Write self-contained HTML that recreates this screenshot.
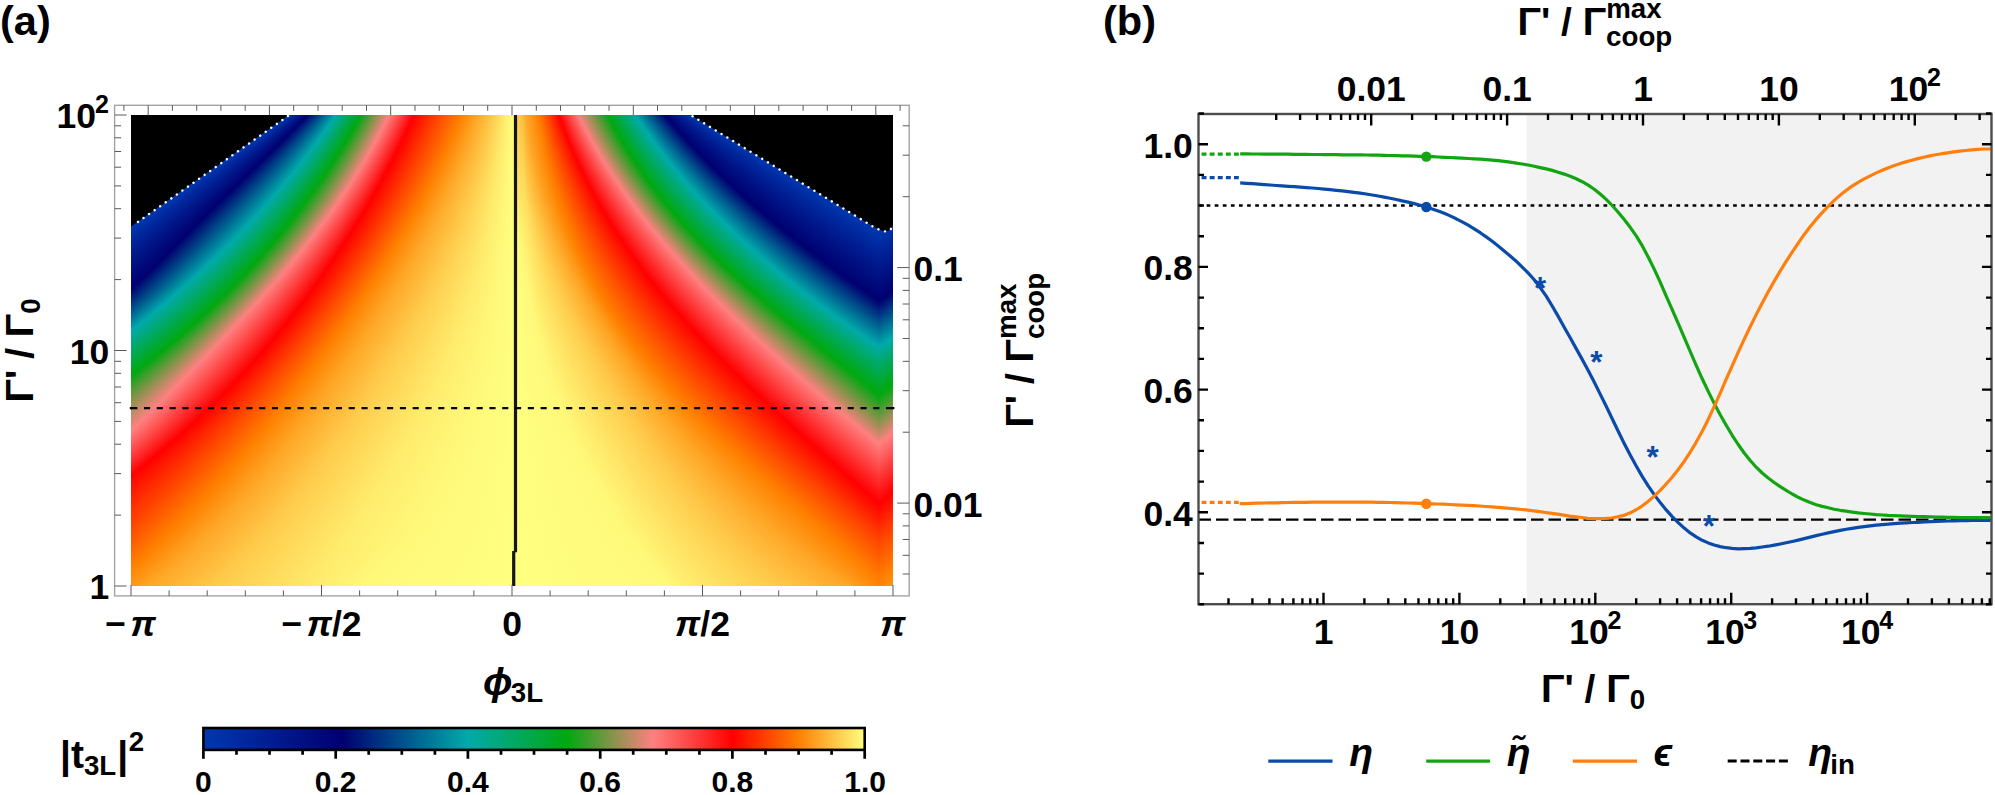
<!DOCTYPE html>
<html><head><meta charset="utf-8"><title>Figure</title>
<style>html,body{margin:0;padding:0;background:#fff}svg{display:block}text{font-family:"Liberation Sans",sans-serif;font-weight:bold;fill:#000}.i{font-style:italic}</style></head><body>
<svg width="1995" height="795" viewBox="0 0 1995 795">
<rect width="1995" height="795" fill="#fff"/>
<!-- panel a -->
<text x="0" y="35.3" font-size="41.5">(a)</text>
<defs><linearGradient id="g0"><stop offset="0" stop-color="#0038b0"/><stop offset="0.2055" stop-color="#0038b0"/><stop offset="0.2308" stop-color="#000070"/><stop offset="0.2679" stop-color="#0aa"/><stop offset="0.3011" stop-color="#00a810"/><stop offset="0.3378" stop-color="#ff8080"/><stop offset="0.3708" stop-color="#f00"/><stop offset="0.4004" stop-color="#ff4000"/><stop offset="0.4329" stop-color="#ff8000"/><stop offset="0.4541" stop-color="#ffa626"/><stop offset="0.4755" stop-color="#ffcc4d"/><stop offset="0.49" stop-color="#ffec6d"/><stop offset="0.4982" stop-color="#fff97a"/><stop offset="0.5039" stop-color="#ffff80"/><stop offset="0.504" stop-color="#ffd252"/><stop offset="0.5126" stop-color="#ffc243"/><stop offset="0.5192" stop-color="#ffa626"/><stop offset="0.5347" stop-color="#ff8000"/><stop offset="0.5488" stop-color="#ff4000"/><stop offset="0.5619" stop-color="#f00"/><stop offset="0.5874" stop-color="#ff8080"/><stop offset="0.6269" stop-color="#00a810"/><stop offset="0.6624" stop-color="#0aa"/><stop offset="0.7014" stop-color="#000070"/><stop offset="0.7364" stop-color="#0038b0"/><stop offset="1" stop-color="#0038b0"/></linearGradient><linearGradient id="g1"><stop offset="0" stop-color="#0038b0"/><stop offset="0.2018" stop-color="#0038b0"/><stop offset="0.2283" stop-color="#000070"/><stop offset="0.2661" stop-color="#0aa"/><stop offset="0.2996" stop-color="#00a810"/><stop offset="0.3366" stop-color="#ff8080"/><stop offset="0.3696" stop-color="#f00"/><stop offset="0.3993" stop-color="#ff4000"/><stop offset="0.4319" stop-color="#ff8000"/><stop offset="0.4532" stop-color="#ffa626"/><stop offset="0.475" stop-color="#ffcc4d"/><stop offset="0.4898" stop-color="#ffec6d"/><stop offset="0.4981" stop-color="#fff97a"/><stop offset="0.5039" stop-color="#ffff80"/><stop offset="0.504" stop-color="#ffd253"/><stop offset="0.5127" stop-color="#ffc344"/><stop offset="0.5196" stop-color="#ffa626"/><stop offset="0.5352" stop-color="#ff8000"/><stop offset="0.5495" stop-color="#ff4000"/><stop offset="0.5628" stop-color="#f00"/><stop offset="0.5887" stop-color="#ff8080"/><stop offset="0.6282" stop-color="#00a810"/><stop offset="0.6642" stop-color="#0aa"/><stop offset="0.7036" stop-color="#000070"/><stop offset="0.7407" stop-color="#0038b0"/><stop offset="1" stop-color="#0038b0"/></linearGradient><linearGradient id="g2"><stop offset="0" stop-color="#0038b0"/><stop offset="0.1981" stop-color="#0038b0"/><stop offset="0.2258" stop-color="#000070"/><stop offset="0.2643" stop-color="#0aa"/><stop offset="0.2982" stop-color="#00a810"/><stop offset="0.3353" stop-color="#ff8080"/><stop offset="0.3684" stop-color="#f00"/><stop offset="0.3982" stop-color="#ff4000"/><stop offset="0.4308" stop-color="#ff8000"/><stop offset="0.4524" stop-color="#ffa626"/><stop offset="0.4744" stop-color="#ffcc4d"/><stop offset="0.4896" stop-color="#ffec6d"/><stop offset="0.498" stop-color="#fff97a"/><stop offset="0.5039" stop-color="#ffff80"/><stop offset="0.504" stop-color="#ffd354"/><stop offset="0.5128" stop-color="#ffc444"/><stop offset="0.5199" stop-color="#ffa626"/><stop offset="0.5356" stop-color="#ff8000"/><stop offset="0.5502" stop-color="#ff4000"/><stop offset="0.5637" stop-color="#f00"/><stop offset="0.59" stop-color="#ff8080"/><stop offset="0.6295" stop-color="#00a810"/><stop offset="0.6659" stop-color="#0aa"/><stop offset="0.7058" stop-color="#000070"/><stop offset="0.745" stop-color="#0038b0"/><stop offset="1" stop-color="#0038b0"/></linearGradient><linearGradient id="g3"><stop offset="0" stop-color="#0038b0"/><stop offset="0.1943" stop-color="#0038b0"/><stop offset="0.2232" stop-color="#000070"/><stop offset="0.2625" stop-color="#0aa"/><stop offset="0.2967" stop-color="#00a810"/><stop offset="0.334" stop-color="#ff8080"/><stop offset="0.3672" stop-color="#f00"/><stop offset="0.3971" stop-color="#ff4000"/><stop offset="0.4298" stop-color="#ff8000"/><stop offset="0.4515" stop-color="#ffa626"/><stop offset="0.4739" stop-color="#ffcc4d"/><stop offset="0.4893" stop-color="#ffec6d"/><stop offset="0.4979" stop-color="#fff97a"/><stop offset="0.5039" stop-color="#ffff80"/><stop offset="0.504" stop-color="#ffd454"/><stop offset="0.5128" stop-color="#ffc445"/><stop offset="0.5202" stop-color="#ffa626"/><stop offset="0.5361" stop-color="#ff8000"/><stop offset="0.5509" stop-color="#ff4000"/><stop offset="0.5647" stop-color="#f00"/><stop offset="0.5913" stop-color="#ff8080"/><stop offset="0.6309" stop-color="#00a810"/><stop offset="0.6677" stop-color="#0aa"/><stop offset="0.7081" stop-color="#000070"/><stop offset="0.7493" stop-color="#0038b0"/><stop offset="1" stop-color="#0038b0"/></linearGradient><linearGradient id="g4"><stop offset="0" stop-color="#0038b0"/><stop offset="0.1906" stop-color="#0038b0"/><stop offset="0.2207" stop-color="#000070"/><stop offset="0.2607" stop-color="#0aa"/><stop offset="0.2952" stop-color="#00a810"/><stop offset="0.3327" stop-color="#ff8080"/><stop offset="0.366" stop-color="#f00"/><stop offset="0.396" stop-color="#ff4000"/><stop offset="0.4287" stop-color="#ff8000"/><stop offset="0.4506" stop-color="#ffa626"/><stop offset="0.4733" stop-color="#ffcc4d"/><stop offset="0.4891" stop-color="#ffec6d"/><stop offset="0.4978" stop-color="#fff97a"/><stop offset="0.5039" stop-color="#ffff80"/><stop offset="0.504" stop-color="#ffd455"/><stop offset="0.5129" stop-color="#ffc545"/><stop offset="0.5206" stop-color="#ffa626"/><stop offset="0.5366" stop-color="#ff8000"/><stop offset="0.5516" stop-color="#ff4000"/><stop offset="0.5656" stop-color="#f00"/><stop offset="0.5926" stop-color="#ff8080"/><stop offset="0.6322" stop-color="#00a810"/><stop offset="0.6694" stop-color="#0aa"/><stop offset="0.7103" stop-color="#000070"/><stop offset="0.7536" stop-color="#0038b0"/><stop offset="1" stop-color="#0038b0"/></linearGradient><linearGradient id="g5"><stop offset="0" stop-color="#0038b0"/><stop offset="0.1869" stop-color="#0038b0"/><stop offset="0.2181" stop-color="#000070"/><stop offset="0.2589" stop-color="#0aa"/><stop offset="0.2937" stop-color="#00a810"/><stop offset="0.3314" stop-color="#ff8080"/><stop offset="0.3648" stop-color="#f00"/><stop offset="0.3948" stop-color="#ff4000"/><stop offset="0.4276" stop-color="#ff8000"/><stop offset="0.4496" stop-color="#ffa626"/><stop offset="0.4727" stop-color="#ffcc4d"/><stop offset="0.4889" stop-color="#ffec6d"/><stop offset="0.4977" stop-color="#fff97a"/><stop offset="0.5039" stop-color="#ffff80"/><stop offset="0.504" stop-color="#ffd555"/><stop offset="0.513" stop-color="#ffc646"/><stop offset="0.521" stop-color="#ffa626"/><stop offset="0.5371" stop-color="#ff8000"/><stop offset="0.5523" stop-color="#ff4000"/><stop offset="0.5666" stop-color="#f00"/><stop offset="0.594" stop-color="#ff8080"/><stop offset="0.6336" stop-color="#00a810"/><stop offset="0.6712" stop-color="#0aa"/><stop offset="0.7126" stop-color="#000070"/><stop offset="0.7579" stop-color="#0038b0"/><stop offset="1" stop-color="#0038b0"/></linearGradient><linearGradient id="g6"><stop offset="0" stop-color="#0038b0"/><stop offset="0.1832" stop-color="#0038b0"/><stop offset="0.2155" stop-color="#000070"/><stop offset="0.2571" stop-color="#0aa"/><stop offset="0.2922" stop-color="#00a810"/><stop offset="0.33" stop-color="#ff8080"/><stop offset="0.3635" stop-color="#f00"/><stop offset="0.3937" stop-color="#ff4000"/><stop offset="0.4265" stop-color="#ff8000"/><stop offset="0.4487" stop-color="#ffa626"/><stop offset="0.4721" stop-color="#ffcc4d"/><stop offset="0.4886" stop-color="#ffec6d"/><stop offset="0.4976" stop-color="#fff97a"/><stop offset="0.5039" stop-color="#ffff80"/><stop offset="0.504" stop-color="#ffd556"/><stop offset="0.5131" stop-color="#ffc647"/><stop offset="0.5213" stop-color="#ffa626"/><stop offset="0.5376" stop-color="#ff8000"/><stop offset="0.553" stop-color="#ff4000"/><stop offset="0.5676" stop-color="#f00"/><stop offset="0.5953" stop-color="#ff8080"/><stop offset="0.635" stop-color="#00a810"/><stop offset="0.6731" stop-color="#0aa"/><stop offset="0.7149" stop-color="#000070"/><stop offset="0.7622" stop-color="#0038b0"/><stop offset="1" stop-color="#0038b0"/></linearGradient><linearGradient id="g7"><stop offset="0" stop-color="#0038b0"/><stop offset="0.1795" stop-color="#0038b0"/><stop offset="0.2129" stop-color="#000070"/><stop offset="0.2552" stop-color="#0aa"/><stop offset="0.2907" stop-color="#00a810"/><stop offset="0.3287" stop-color="#ff8080"/><stop offset="0.3623" stop-color="#f00"/><stop offset="0.3925" stop-color="#ff4000"/><stop offset="0.4254" stop-color="#ff8000"/><stop offset="0.4478" stop-color="#ffa626"/><stop offset="0.4715" stop-color="#ffcc4d"/><stop offset="0.4884" stop-color="#ffec6d"/><stop offset="0.4975" stop-color="#fff97a"/><stop offset="0.5039" stop-color="#ffff80"/><stop offset="0.504" stop-color="#ffd657"/><stop offset="0.5131" stop-color="#ffc747"/><stop offset="0.5217" stop-color="#ffa626"/><stop offset="0.5381" stop-color="#ff8000"/><stop offset="0.5538" stop-color="#ff4000"/><stop offset="0.5686" stop-color="#f00"/><stop offset="0.5967" stop-color="#ff8080"/><stop offset="0.6364" stop-color="#00a810"/><stop offset="0.6749" stop-color="#0aa"/><stop offset="0.7172" stop-color="#000070"/><stop offset="0.7664" stop-color="#0038b0"/><stop offset="1" stop-color="#0038b0"/></linearGradient><linearGradient id="g8"><stop offset="0" stop-color="#0038b0"/><stop offset="0.1757" stop-color="#0038b0"/><stop offset="0.2103" stop-color="#000070"/><stop offset="0.2534" stop-color="#0aa"/><stop offset="0.2892" stop-color="#00a810"/><stop offset="0.3273" stop-color="#ff8080"/><stop offset="0.3611" stop-color="#f00"/><stop offset="0.3914" stop-color="#ff4000"/><stop offset="0.4243" stop-color="#ff8000"/><stop offset="0.4468" stop-color="#ffa626"/><stop offset="0.4708" stop-color="#ffcc4d"/><stop offset="0.4881" stop-color="#ffec6d"/><stop offset="0.4974" stop-color="#fff97a"/><stop offset="0.5039" stop-color="#ffff80"/><stop offset="0.504" stop-color="#ffd757"/><stop offset="0.5132" stop-color="#ffc748"/><stop offset="0.5221" stop-color="#ffa626"/><stop offset="0.5386" stop-color="#ff8000"/><stop offset="0.5545" stop-color="#ff4000"/><stop offset="0.5696" stop-color="#f00"/><stop offset="0.5981" stop-color="#ff8080"/><stop offset="0.6379" stop-color="#00a810"/><stop offset="0.6767" stop-color="#0aa"/><stop offset="0.7195" stop-color="#000070"/><stop offset="0.7707" stop-color="#0038b0"/><stop offset="1" stop-color="#0038b0"/></linearGradient><linearGradient id="g9"><stop offset="0" stop-color="#0038b0"/><stop offset="0.172" stop-color="#0038b0"/><stop offset="0.2077" stop-color="#000070"/><stop offset="0.2515" stop-color="#0aa"/><stop offset="0.2877" stop-color="#00a810"/><stop offset="0.326" stop-color="#ff8080"/><stop offset="0.3598" stop-color="#f00"/><stop offset="0.3902" stop-color="#ff4000"/><stop offset="0.4232" stop-color="#ff8000"/><stop offset="0.4459" stop-color="#ffa626"/><stop offset="0.4702" stop-color="#ffcc4d"/><stop offset="0.4878" stop-color="#ffec6d"/><stop offset="0.4973" stop-color="#fff97a"/><stop offset="0.5039" stop-color="#ffff80"/><stop offset="0.504" stop-color="#ffd758"/><stop offset="0.5133" stop-color="#ffc849"/><stop offset="0.5225" stop-color="#ffa626"/><stop offset="0.5391" stop-color="#ff8000"/><stop offset="0.5553" stop-color="#ff4000"/><stop offset="0.5706" stop-color="#f00"/><stop offset="0.5995" stop-color="#ff8080"/><stop offset="0.6393" stop-color="#00a810"/><stop offset="0.6786" stop-color="#0aa"/><stop offset="0.7218" stop-color="#000070"/><stop offset="0.775" stop-color="#0038b0"/><stop offset="1" stop-color="#0038b0"/></linearGradient><linearGradient id="g10"><stop offset="0" stop-color="#0038b0"/><stop offset="0.1683" stop-color="#0038b0"/><stop offset="0.2051" stop-color="#000070"/><stop offset="0.2496" stop-color="#0aa"/><stop offset="0.2861" stop-color="#00a810"/><stop offset="0.3246" stop-color="#ff8080"/><stop offset="0.3586" stop-color="#f00"/><stop offset="0.3891" stop-color="#ff4000"/><stop offset="0.4221" stop-color="#ff8000"/><stop offset="0.4449" stop-color="#ffa626"/><stop offset="0.4696" stop-color="#ffcc4d"/><stop offset="0.4876" stop-color="#ffec6d"/><stop offset="0.4972" stop-color="#fff97a"/><stop offset="0.5039" stop-color="#ffff80"/><stop offset="0.504" stop-color="#ffd859"/><stop offset="0.5134" stop-color="#ffc949"/><stop offset="0.5229" stop-color="#ffa626"/><stop offset="0.5396" stop-color="#ff8000"/><stop offset="0.5561" stop-color="#ff4000"/><stop offset="0.5716" stop-color="#f00"/><stop offset="0.6009" stop-color="#ff8080"/><stop offset="0.6408" stop-color="#00a810"/><stop offset="0.6805" stop-color="#0aa"/><stop offset="0.7242" stop-color="#000070"/><stop offset="0.7793" stop-color="#0038b0"/><stop offset="1" stop-color="#0038b0"/></linearGradient><linearGradient id="g11"><stop offset="0" stop-color="#0038b0"/><stop offset="0.1646" stop-color="#0038b0"/><stop offset="0.2025" stop-color="#000070"/><stop offset="0.2477" stop-color="#0aa"/><stop offset="0.2846" stop-color="#00a810"/><stop offset="0.3232" stop-color="#ff8080"/><stop offset="0.3573" stop-color="#f00"/><stop offset="0.3879" stop-color="#ff4000"/><stop offset="0.4209" stop-color="#ff8000"/><stop offset="0.444" stop-color="#ffa626"/><stop offset="0.4689" stop-color="#ffcc4d"/><stop offset="0.4873" stop-color="#ffec6d"/><stop offset="0.497" stop-color="#fff97a"/><stop offset="0.5039" stop-color="#ffff80"/><stop offset="0.504" stop-color="#ffd959"/><stop offset="0.5134" stop-color="#ffc94a"/><stop offset="0.5233" stop-color="#ffa626"/><stop offset="0.5402" stop-color="#ff8000"/><stop offset="0.5568" stop-color="#ff4000"/><stop offset="0.5726" stop-color="#f00"/><stop offset="0.6024" stop-color="#ff8080"/><stop offset="0.6423" stop-color="#00a810"/><stop offset="0.6823" stop-color="#0aa"/><stop offset="0.7266" stop-color="#000070"/><stop offset="0.7836" stop-color="#0038b0"/><stop offset="1" stop-color="#0038b0"/></linearGradient><linearGradient id="g12"><stop offset="0" stop-color="#0038b0"/><stop offset="0.1609" stop-color="#0038b0"/><stop offset="0.1998" stop-color="#000070"/><stop offset="0.2458" stop-color="#0aa"/><stop offset="0.283" stop-color="#00a810"/><stop offset="0.3218" stop-color="#ff8080"/><stop offset="0.356" stop-color="#f00"/><stop offset="0.3867" stop-color="#ff4000"/><stop offset="0.4198" stop-color="#ff8000"/><stop offset="0.443" stop-color="#ffa626"/><stop offset="0.4683" stop-color="#ffcc4d"/><stop offset="0.487" stop-color="#ffec6d"/><stop offset="0.4969" stop-color="#fff97a"/><stop offset="0.5039" stop-color="#ffff80"/><stop offset="0.504" stop-color="#ffd95a"/><stop offset="0.5135" stop-color="#ffca4b"/><stop offset="0.5237" stop-color="#ffa626"/><stop offset="0.5407" stop-color="#ff8000"/><stop offset="0.5576" stop-color="#ff4000"/><stop offset="0.5737" stop-color="#f00"/><stop offset="0.6038" stop-color="#ff8080"/><stop offset="0.6438" stop-color="#00a810"/><stop offset="0.6843" stop-color="#0aa"/><stop offset="0.729" stop-color="#000070"/><stop offset="0.7879" stop-color="#0038b0"/><stop offset="1" stop-color="#0038b0"/></linearGradient><linearGradient id="g13"><stop offset="0" stop-color="#0038b0"/><stop offset="0.1571" stop-color="#0038b0"/><stop offset="0.1972" stop-color="#000070"/><stop offset="0.2439" stop-color="#0aa"/><stop offset="0.2814" stop-color="#00a810"/><stop offset="0.3204" stop-color="#ff8080"/><stop offset="0.3548" stop-color="#f00"/><stop offset="0.3855" stop-color="#ff4000"/><stop offset="0.4186" stop-color="#ff8000"/><stop offset="0.442" stop-color="#ffa626"/><stop offset="0.4676" stop-color="#ffcc4d"/><stop offset="0.4868" stop-color="#ffec6d"/><stop offset="0.4968" stop-color="#fff97a"/><stop offset="0.5039" stop-color="#ffff80"/><stop offset="0.504" stop-color="#ffda5b"/><stop offset="0.5136" stop-color="#ffcb4b"/><stop offset="0.5242" stop-color="#ffa626"/><stop offset="0.5412" stop-color="#ff8000"/><stop offset="0.5584" stop-color="#ff4000"/><stop offset="0.5748" stop-color="#f00"/><stop offset="0.6053" stop-color="#ff8080"/><stop offset="0.6453" stop-color="#00a810"/><stop offset="0.6862" stop-color="#0aa"/><stop offset="0.7314" stop-color="#000070"/><stop offset="0.7922" stop-color="#0038b0"/><stop offset="1" stop-color="#0038b0"/></linearGradient><linearGradient id="g14"><stop offset="0" stop-color="#0038b0"/><stop offset="0.1534" stop-color="#0038b0"/><stop offset="0.1946" stop-color="#000070"/><stop offset="0.242" stop-color="#0aa"/><stop offset="0.2798" stop-color="#00a810"/><stop offset="0.3189" stop-color="#ff8080"/><stop offset="0.3535" stop-color="#f00"/><stop offset="0.3843" stop-color="#ff4000"/><stop offset="0.4174" stop-color="#ff8000"/><stop offset="0.441" stop-color="#ffa626"/><stop offset="0.467" stop-color="#ffcc4d"/><stop offset="0.4865" stop-color="#ffec6d"/><stop offset="0.4967" stop-color="#fff97a"/><stop offset="0.5039" stop-color="#ffff80"/><stop offset="0.504" stop-color="#ffda5b"/><stop offset="0.5137" stop-color="#ffcb4c"/><stop offset="0.5246" stop-color="#ffa626"/><stop offset="0.5418" stop-color="#ff8000"/><stop offset="0.5592" stop-color="#ff4000"/><stop offset="0.5758" stop-color="#f00"/><stop offset="0.6068" stop-color="#ff8080"/><stop offset="0.6469" stop-color="#00a810"/><stop offset="0.6881" stop-color="#0aa"/><stop offset="0.7338" stop-color="#000070"/><stop offset="0.7965" stop-color="#0038b0"/><stop offset="1" stop-color="#0038b0"/></linearGradient><linearGradient id="g15"><stop offset="0" stop-color="#0038b0"/><stop offset="0.1497" stop-color="#0038b0"/><stop offset="0.1919" stop-color="#000070"/><stop offset="0.24" stop-color="#0aa"/><stop offset="0.2782" stop-color="#00a810"/><stop offset="0.3175" stop-color="#ff8080"/><stop offset="0.3522" stop-color="#f00"/><stop offset="0.3831" stop-color="#ff4000"/><stop offset="0.4163" stop-color="#ff8000"/><stop offset="0.44" stop-color="#ffa626"/><stop offset="0.4663" stop-color="#ffcc4d"/><stop offset="0.4862" stop-color="#ffec6d"/><stop offset="0.4966" stop-color="#fff97a"/><stop offset="0.5039" stop-color="#ffff80"/><stop offset="0.504" stop-color="#ffdb5c"/><stop offset="0.5138" stop-color="#ffcc4c"/><stop offset="0.5251" stop-color="#ffa626"/><stop offset="0.5424" stop-color="#ff8000"/><stop offset="0.5601" stop-color="#ff4000"/><stop offset="0.5769" stop-color="#f00"/><stop offset="0.6083" stop-color="#ff8080"/><stop offset="0.6484" stop-color="#00a810"/><stop offset="0.6901" stop-color="#0aa"/><stop offset="0.7363" stop-color="#000070"/><stop offset="0.8008" stop-color="#0038b0"/><stop offset="1" stop-color="#0038b0"/></linearGradient><linearGradient id="g16"><stop offset="0" stop-color="#0038b0"/><stop offset="0.146" stop-color="#0038b0"/><stop offset="0.1893" stop-color="#000070"/><stop offset="0.2381" stop-color="#0aa"/><stop offset="0.2766" stop-color="#00a810"/><stop offset="0.316" stop-color="#ff8080"/><stop offset="0.3509" stop-color="#f00"/><stop offset="0.3819" stop-color="#ff4000"/><stop offset="0.4151" stop-color="#ff8000"/><stop offset="0.439" stop-color="#ffa626"/><stop offset="0.4656" stop-color="#ffcc4d"/><stop offset="0.4859" stop-color="#ffec6d"/><stop offset="0.4964" stop-color="#fff97a"/><stop offset="0.5039" stop-color="#ffff80"/><stop offset="0.504" stop-color="#ffdc5c"/><stop offset="0.5139" stop-color="#ffcd4d"/><stop offset="0.5139" stop-color="#ffcc4d"/><stop offset="0.5255" stop-color="#ffa626"/><stop offset="0.5429" stop-color="#ff8000"/><stop offset="0.5609" stop-color="#ff4000"/><stop offset="0.578" stop-color="#f00"/><stop offset="0.6098" stop-color="#ff8080"/><stop offset="0.65" stop-color="#00a810"/><stop offset="0.692" stop-color="#0aa"/><stop offset="0.7387" stop-color="#000070"/><stop offset="0.8051" stop-color="#0038b0"/><stop offset="1" stop-color="#0038b0"/></linearGradient><linearGradient id="g17"><stop offset="0" stop-color="#0038b0"/><stop offset="0.1423" stop-color="#0038b0"/><stop offset="0.1866" stop-color="#000070"/><stop offset="0.2361" stop-color="#0aa"/><stop offset="0.275" stop-color="#00a810"/><stop offset="0.3146" stop-color="#ff8080"/><stop offset="0.3496" stop-color="#f00"/><stop offset="0.3806" stop-color="#ff4000"/><stop offset="0.4139" stop-color="#ff8000"/><stop offset="0.4379" stop-color="#ffa626"/><stop offset="0.4649" stop-color="#ffcc4d"/><stop offset="0.4856" stop-color="#ffec6d"/><stop offset="0.4963" stop-color="#fff97a"/><stop offset="0.5039" stop-color="#ffff80"/><stop offset="0.504" stop-color="#ffdc5d"/><stop offset="0.5141" stop-color="#ffcd4e"/><stop offset="0.5142" stop-color="#ffcc4d"/><stop offset="0.526" stop-color="#ffa626"/><stop offset="0.5435" stop-color="#ff8000"/><stop offset="0.5617" stop-color="#ff4000"/><stop offset="0.5792" stop-color="#f00"/><stop offset="0.6113" stop-color="#ff8080"/><stop offset="0.6516" stop-color="#00a810"/><stop offset="0.694" stop-color="#0aa"/><stop offset="0.7412" stop-color="#000070"/><stop offset="0.8094" stop-color="#0038b0"/><stop offset="1" stop-color="#0038b0"/></linearGradient><linearGradient id="g18"><stop offset="0" stop-color="#0038b0"/><stop offset="0.1385" stop-color="#0038b0"/><stop offset="0.1839" stop-color="#000070"/><stop offset="0.2342" stop-color="#0aa"/><stop offset="0.2734" stop-color="#00a810"/><stop offset="0.3131" stop-color="#ff8080"/><stop offset="0.3483" stop-color="#f00"/><stop offset="0.3794" stop-color="#ff4000"/><stop offset="0.4127" stop-color="#ff8000"/><stop offset="0.4369" stop-color="#ffa626"/><stop offset="0.4642" stop-color="#ffcc4d"/><stop offset="0.4853" stop-color="#ffec6d"/><stop offset="0.4962" stop-color="#fff97a"/><stop offset="0.5039" stop-color="#ffff80"/><stop offset="0.504" stop-color="#ffdd5e"/><stop offset="0.5142" stop-color="#ffce4e"/><stop offset="0.5145" stop-color="#ffcc4d"/><stop offset="0.5265" stop-color="#ffa626"/><stop offset="0.5441" stop-color="#ff8000"/><stop offset="0.5626" stop-color="#ff4000"/><stop offset="0.5803" stop-color="#f00"/><stop offset="0.6129" stop-color="#ff8080"/><stop offset="0.6532" stop-color="#00a810"/><stop offset="0.696" stop-color="#0aa"/><stop offset="0.7437" stop-color="#000070"/><stop offset="0.8137" stop-color="#0038b0"/><stop offset="1" stop-color="#0038b0"/></linearGradient><linearGradient id="g19"><stop offset="0" stop-color="#0038b0"/><stop offset="0.1348" stop-color="#0038b0"/><stop offset="0.1813" stop-color="#000070"/><stop offset="0.2322" stop-color="#0aa"/><stop offset="0.2717" stop-color="#00a810"/><stop offset="0.3116" stop-color="#ff8080"/><stop offset="0.3469" stop-color="#f00"/><stop offset="0.3782" stop-color="#ff4000"/><stop offset="0.4115" stop-color="#ff8000"/><stop offset="0.4358" stop-color="#ffa626"/><stop offset="0.4635" stop-color="#ffcc4d"/><stop offset="0.485" stop-color="#ffec6d"/><stop offset="0.4961" stop-color="#fff97a"/><stop offset="0.5039" stop-color="#ffff80"/><stop offset="0.504" stop-color="#ffde5e"/><stop offset="0.5144" stop-color="#ffce4f"/><stop offset="0.5148" stop-color="#ffcc4d"/><stop offset="0.527" stop-color="#ffa626"/><stop offset="0.5447" stop-color="#ff8000"/><stop offset="0.5635" stop-color="#ff4000"/><stop offset="0.5814" stop-color="#f00"/><stop offset="0.6144" stop-color="#ff8080"/><stop offset="0.6548" stop-color="#00a810"/><stop offset="0.6981" stop-color="#0aa"/><stop offset="0.7462" stop-color="#000070"/><stop offset="0.818" stop-color="#0038b0"/><stop offset="1" stop-color="#0038b0"/></linearGradient><linearGradient id="g20"><stop offset="0" stop-color="#0038b0"/><stop offset="0.1311" stop-color="#0038b0"/><stop offset="0.1786" stop-color="#000070"/><stop offset="0.2302" stop-color="#0aa"/><stop offset="0.2701" stop-color="#00a810"/><stop offset="0.3101" stop-color="#ff8080"/><stop offset="0.3456" stop-color="#f00"/><stop offset="0.3769" stop-color="#ff4000"/><stop offset="0.4103" stop-color="#ff8000"/><stop offset="0.4348" stop-color="#ffa626"/><stop offset="0.4628" stop-color="#ffcc4d"/><stop offset="0.4847" stop-color="#ffec6d"/><stop offset="0.4959" stop-color="#fff97a"/><stop offset="0.5039" stop-color="#ffff80"/><stop offset="0.504" stop-color="#ffde5f"/><stop offset="0.5146" stop-color="#ffcf50"/><stop offset="0.5151" stop-color="#ffcc4d"/><stop offset="0.5275" stop-color="#ffa626"/><stop offset="0.5453" stop-color="#ff8000"/><stop offset="0.5643" stop-color="#ff4000"/><stop offset="0.5826" stop-color="#f00"/><stop offset="0.616" stop-color="#ff8080"/><stop offset="0.6565" stop-color="#00a810"/><stop offset="0.7001" stop-color="#0aa"/><stop offset="0.7488" stop-color="#000070"/><stop offset="0.8223" stop-color="#0038b0"/><stop offset="1" stop-color="#0038b0"/></linearGradient><linearGradient id="g21"><stop offset="0" stop-color="#0038b0"/><stop offset="0.1274" stop-color="#0038b0"/><stop offset="0.1759" stop-color="#000070"/><stop offset="0.2281" stop-color="#0aa"/><stop offset="0.2684" stop-color="#00a810"/><stop offset="0.3086" stop-color="#ff8080"/><stop offset="0.3443" stop-color="#f00"/><stop offset="0.3756" stop-color="#ff4000"/><stop offset="0.409" stop-color="#ff8000"/><stop offset="0.4337" stop-color="#ffa626"/><stop offset="0.4621" stop-color="#ffcc4d"/><stop offset="0.4844" stop-color="#ffec6d"/><stop offset="0.4958" stop-color="#fff97a"/><stop offset="0.5039" stop-color="#ffff80"/><stop offset="0.504" stop-color="#ffdf60"/><stop offset="0.5148" stop-color="#ffd050"/><stop offset="0.5154" stop-color="#ffcc4d"/><stop offset="0.528" stop-color="#ffa626"/><stop offset="0.5459" stop-color="#ff8000"/><stop offset="0.5652" stop-color="#ff4000"/><stop offset="0.5837" stop-color="#f00"/><stop offset="0.6176" stop-color="#ff8080"/><stop offset="0.6582" stop-color="#00a810"/><stop offset="0.7021" stop-color="#0aa"/><stop offset="0.7513" stop-color="#000070"/><stop offset="0.8265" stop-color="#0038b0"/><stop offset="1" stop-color="#0038b0"/></linearGradient><linearGradient id="g22"><stop offset="0" stop-color="#0038b0"/><stop offset="0.1237" stop-color="#0038b0"/><stop offset="0.1732" stop-color="#000070"/><stop offset="0.2261" stop-color="#0aa"/><stop offset="0.2667" stop-color="#00a810"/><stop offset="0.3071" stop-color="#ff8080"/><stop offset="0.3429" stop-color="#f00"/><stop offset="0.3744" stop-color="#ff4000"/><stop offset="0.4078" stop-color="#ff8000"/><stop offset="0.4326" stop-color="#ffa626"/><stop offset="0.4613" stop-color="#ffcc4d"/><stop offset="0.4841" stop-color="#ffec6d"/><stop offset="0.4957" stop-color="#fff97a"/><stop offset="0.5039" stop-color="#ffff80"/><stop offset="0.504" stop-color="#ffe060"/><stop offset="0.5149" stop-color="#ffd051"/><stop offset="0.5157" stop-color="#ffcc4d"/><stop offset="0.5285" stop-color="#ffa626"/><stop offset="0.5466" stop-color="#ff8000"/><stop offset="0.5661" stop-color="#ff4000"/><stop offset="0.5849" stop-color="#f00"/><stop offset="0.6192" stop-color="#ff8080"/><stop offset="0.6599" stop-color="#00a810"/><stop offset="0.7042" stop-color="#0aa"/><stop offset="0.7539" stop-color="#000070"/><stop offset="0.8308" stop-color="#0038b0"/><stop offset="1" stop-color="#0038b0"/></linearGradient><linearGradient id="g23"><stop offset="0" stop-color="#0038b0"/><stop offset="0.1199" stop-color="#0038b0"/><stop offset="0.1706" stop-color="#000070"/><stop offset="0.2241" stop-color="#0aa"/><stop offset="0.265" stop-color="#00a810"/><stop offset="0.3055" stop-color="#ff8080"/><stop offset="0.3416" stop-color="#f00"/><stop offset="0.3731" stop-color="#ff4000"/><stop offset="0.4065" stop-color="#ff8000"/><stop offset="0.4315" stop-color="#ffa626"/><stop offset="0.4606" stop-color="#ffcc4d"/><stop offset="0.4838" stop-color="#ffec6d"/><stop offset="0.4955" stop-color="#fff97a"/><stop offset="0.5039" stop-color="#ffff80"/><stop offset="0.504" stop-color="#ffe061"/><stop offset="0.5151" stop-color="#ffd152"/><stop offset="0.5161" stop-color="#ffcc4d"/><stop offset="0.529" stop-color="#ffa626"/><stop offset="0.5472" stop-color="#ff8000"/><stop offset="0.567" stop-color="#ff4000"/><stop offset="0.5861" stop-color="#f00"/><stop offset="0.6208" stop-color="#ff8080"/><stop offset="0.6616" stop-color="#00a810"/><stop offset="0.7063" stop-color="#0aa"/><stop offset="0.7565" stop-color="#000070"/><stop offset="0.8351" stop-color="#0038b0"/><stop offset="1" stop-color="#0038b0"/></linearGradient><linearGradient id="g24"><stop offset="0" stop-color="#0038b0"/><stop offset="0.1162" stop-color="#0038b0"/><stop offset="0.1679" stop-color="#000070"/><stop offset="0.222" stop-color="#0aa"/><stop offset="0.2633" stop-color="#00a810"/><stop offset="0.304" stop-color="#ff8080"/><stop offset="0.3402" stop-color="#f00"/><stop offset="0.3718" stop-color="#ff4000"/><stop offset="0.4053" stop-color="#ff8000"/><stop offset="0.4304" stop-color="#ffa626"/><stop offset="0.4598" stop-color="#ffcc4d"/><stop offset="0.4834" stop-color="#ffec6d"/><stop offset="0.4954" stop-color="#fff97a"/><stop offset="0.5039" stop-color="#ffff80"/><stop offset="0.504" stop-color="#ffe162"/><stop offset="0.5153" stop-color="#ffd252"/><stop offset="0.5164" stop-color="#ffcc4d"/><stop offset="0.5296" stop-color="#ffa626"/><stop offset="0.5479" stop-color="#ff8000"/><stop offset="0.5679" stop-color="#ff4000"/><stop offset="0.5873" stop-color="#f00"/><stop offset="0.6224" stop-color="#ff8080"/><stop offset="0.6633" stop-color="#00a810"/><stop offset="0.7084" stop-color="#0aa"/><stop offset="0.7591" stop-color="#000070"/><stop offset="0.8394" stop-color="#0038b0"/><stop offset="1" stop-color="#0038b0"/></linearGradient><linearGradient id="g25"><stop offset="0" stop-color="#0038b0"/><stop offset="0.1125" stop-color="#0038b0"/><stop offset="0.1652" stop-color="#000070"/><stop offset="0.22" stop-color="#0aa"/><stop offset="0.2616" stop-color="#00a810"/><stop offset="0.3024" stop-color="#ff8080"/><stop offset="0.3389" stop-color="#f00"/><stop offset="0.3705" stop-color="#ff4000"/><stop offset="0.404" stop-color="#ff8000"/><stop offset="0.4293" stop-color="#ffa626"/><stop offset="0.4591" stop-color="#ffcc4d"/><stop offset="0.4831" stop-color="#ffec6d"/><stop offset="0.4953" stop-color="#fff97a"/><stop offset="0.5039" stop-color="#ffff80"/><stop offset="0.504" stop-color="#ffe162"/><stop offset="0.5155" stop-color="#ffd253"/><stop offset="0.5168" stop-color="#ffcc4d"/><stop offset="0.5301" stop-color="#ffa626"/><stop offset="0.5485" stop-color="#ff8000"/><stop offset="0.5689" stop-color="#ff4000"/><stop offset="0.5885" stop-color="#f00"/><stop offset="0.6241" stop-color="#ff8080"/><stop offset="0.6651" stop-color="#00a810"/><stop offset="0.7105" stop-color="#0aa"/><stop offset="0.7618" stop-color="#000070"/><stop offset="0.8437" stop-color="#0038b0"/><stop offset="1" stop-color="#0038b0"/></linearGradient><linearGradient id="g26"><stop offset="0" stop-color="#0038b0"/><stop offset="0.1088" stop-color="#0038b0"/><stop offset="0.1625" stop-color="#000070"/><stop offset="0.2179" stop-color="#0aa"/><stop offset="0.2599" stop-color="#00a810"/><stop offset="0.3008" stop-color="#ff8080"/><stop offset="0.3375" stop-color="#f00"/><stop offset="0.3692" stop-color="#ff4000"/><stop offset="0.4027" stop-color="#ff8000"/><stop offset="0.4282" stop-color="#ffa626"/><stop offset="0.4583" stop-color="#ffcc4d"/><stop offset="0.4828" stop-color="#ffec6d"/><stop offset="0.4951" stop-color="#fff97a"/><stop offset="0.5039" stop-color="#ffff80"/><stop offset="0.504" stop-color="#ffe263"/><stop offset="0.5157" stop-color="#ffd353"/><stop offset="0.5171" stop-color="#ffcc4d"/><stop offset="0.5307" stop-color="#ffa626"/><stop offset="0.5492" stop-color="#ff8000"/><stop offset="0.5698" stop-color="#ff4000"/><stop offset="0.5898" stop-color="#f00"/><stop offset="0.6257" stop-color="#ff8080"/><stop offset="0.6668" stop-color="#00a810"/><stop offset="0.7127" stop-color="#0aa"/><stop offset="0.7644" stop-color="#000070"/><stop offset="0.848" stop-color="#0038b0"/><stop offset="1" stop-color="#0038b0"/></linearGradient><linearGradient id="g27"><stop offset="0" stop-color="#0038b0"/><stop offset="0.1051" stop-color="#0038b0"/><stop offset="0.1598" stop-color="#000070"/><stop offset="0.2158" stop-color="#0aa"/><stop offset="0.2582" stop-color="#00a810"/><stop offset="0.2992" stop-color="#ff8080"/><stop offset="0.3361" stop-color="#f00"/><stop offset="0.3679" stop-color="#ff4000"/><stop offset="0.4015" stop-color="#ff8000"/><stop offset="0.4271" stop-color="#ffa626"/><stop offset="0.4575" stop-color="#ffcc4d"/><stop offset="0.4824" stop-color="#ffec6d"/><stop offset="0.495" stop-color="#fff97a"/><stop offset="0.5039" stop-color="#ffff80"/><stop offset="0.504" stop-color="#ffe363"/><stop offset="0.5159" stop-color="#ffd354"/><stop offset="0.5175" stop-color="#ffcc4d"/><stop offset="0.5313" stop-color="#ffa626"/><stop offset="0.5498" stop-color="#ff8000"/><stop offset="0.5708" stop-color="#ff4000"/><stop offset="0.591" stop-color="#f00"/><stop offset="0.6274" stop-color="#ff8080"/><stop offset="0.6686" stop-color="#00a810"/><stop offset="0.7148" stop-color="#0aa"/><stop offset="0.7671" stop-color="#000070"/><stop offset="0.8523" stop-color="#0038b0"/><stop offset="1" stop-color="#0038b0"/></linearGradient><linearGradient id="g28"><stop offset="0" stop-color="#0038b0"/><stop offset="0.1013" stop-color="#0038b0"/><stop offset="0.1571" stop-color="#000070"/><stop offset="0.2137" stop-color="#0aa"/><stop offset="0.2564" stop-color="#00a810"/><stop offset="0.2976" stop-color="#ff8080"/><stop offset="0.3347" stop-color="#f00"/><stop offset="0.3666" stop-color="#ff4000"/><stop offset="0.4002" stop-color="#ff8000"/><stop offset="0.426" stop-color="#ffa626"/><stop offset="0.4567" stop-color="#ffcc4d"/><stop offset="0.4821" stop-color="#ffec6d"/><stop offset="0.4948" stop-color="#fff97a"/><stop offset="0.5039" stop-color="#ffff80"/><stop offset="0.504" stop-color="#ffe364"/><stop offset="0.516" stop-color="#ffd455"/><stop offset="0.5179" stop-color="#ffcc4d"/><stop offset="0.5319" stop-color="#ffa626"/><stop offset="0.5505" stop-color="#ff8000"/><stop offset="0.5717" stop-color="#ff4000"/><stop offset="0.5923" stop-color="#f00"/><stop offset="0.6291" stop-color="#ff8080"/><stop offset="0.6704" stop-color="#00a810"/><stop offset="0.717" stop-color="#0aa"/><stop offset="0.7698" stop-color="#000070"/><stop offset="0.8566" stop-color="#0038b0"/><stop offset="1" stop-color="#0038b0"/></linearGradient><linearGradient id="g29"><stop offset="0" stop-color="#0038b0"/><stop offset="0.09763" stop-color="#0038b0"/><stop offset="0.1544" stop-color="#000070"/><stop offset="0.2116" stop-color="#0aa"/><stop offset="0.2547" stop-color="#00a810"/><stop offset="0.296" stop-color="#ff8080"/><stop offset="0.3333" stop-color="#f00"/><stop offset="0.3652" stop-color="#ff4000"/><stop offset="0.3989" stop-color="#ff8000"/><stop offset="0.4248" stop-color="#ffa626"/><stop offset="0.4559" stop-color="#ffcc4d"/><stop offset="0.4817" stop-color="#ffec6d"/><stop offset="0.4947" stop-color="#fff97a"/><stop offset="0.5039" stop-color="#ffff80"/><stop offset="0.504" stop-color="#ffe465"/><stop offset="0.5162" stop-color="#ffd555"/><stop offset="0.5183" stop-color="#ffcc4d"/><stop offset="0.5325" stop-color="#ffa626"/><stop offset="0.5512" stop-color="#ff8000"/><stop offset="0.5727" stop-color="#ff4000"/><stop offset="0.5936" stop-color="#f00"/><stop offset="0.6308" stop-color="#ff8080"/><stop offset="0.6723" stop-color="#00a810"/><stop offset="0.7192" stop-color="#0aa"/><stop offset="0.7725" stop-color="#000070"/><stop offset="0.8609" stop-color="#0038b0"/><stop offset="1" stop-color="#0038b0"/></linearGradient><linearGradient id="g30"><stop offset="0" stop-color="#0038b0"/><stop offset="0.09391" stop-color="#0038b0"/><stop offset="0.1517" stop-color="#000070"/><stop offset="0.2095" stop-color="#0aa"/><stop offset="0.2529" stop-color="#00a810"/><stop offset="0.2944" stop-color="#ff8080"/><stop offset="0.3319" stop-color="#f00"/><stop offset="0.3639" stop-color="#ff4000"/><stop offset="0.3976" stop-color="#ff8000"/><stop offset="0.4237" stop-color="#ffa626"/><stop offset="0.4551" stop-color="#ffcc4d"/><stop offset="0.4814" stop-color="#ffec6d"/><stop offset="0.4945" stop-color="#fff97a"/><stop offset="0.5039" stop-color="#ffff80"/><stop offset="0.504" stop-color="#ffe565"/><stop offset="0.5164" stop-color="#ffd556"/><stop offset="0.5187" stop-color="#ffcc4d"/><stop offset="0.5331" stop-color="#ffa626"/><stop offset="0.5519" stop-color="#ff8000"/><stop offset="0.5737" stop-color="#ff4000"/><stop offset="0.5949" stop-color="#f00"/><stop offset="0.6325" stop-color="#ff8080"/><stop offset="0.6741" stop-color="#00a810"/><stop offset="0.7214" stop-color="#0aa"/><stop offset="0.7752" stop-color="#000070"/><stop offset="0.8652" stop-color="#0038b0"/><stop offset="1" stop-color="#0038b0"/></linearGradient><linearGradient id="g31"><stop offset="0" stop-color="#0038b0"/><stop offset="0.09019" stop-color="#0038b0"/><stop offset="0.149" stop-color="#000070"/><stop offset="0.2073" stop-color="#0aa"/><stop offset="0.2511" stop-color="#00a810"/><stop offset="0.2927" stop-color="#ff8080"/><stop offset="0.3305" stop-color="#f00"/><stop offset="0.3625" stop-color="#ff4000"/><stop offset="0.3962" stop-color="#ff8000"/><stop offset="0.4225" stop-color="#ffa626"/><stop offset="0.4543" stop-color="#ffcc4d"/><stop offset="0.481" stop-color="#ffec6d"/><stop offset="0.4944" stop-color="#fff97a"/><stop offset="0.5039" stop-color="#ffff80"/><stop offset="0.504" stop-color="#ffe566"/><stop offset="0.5166" stop-color="#ffd657"/><stop offset="0.5191" stop-color="#ffcc4d"/><stop offset="0.5338" stop-color="#ffa626"/><stop offset="0.5526" stop-color="#ff8000"/><stop offset="0.5747" stop-color="#ff4000"/><stop offset="0.5962" stop-color="#f00"/><stop offset="0.6343" stop-color="#ff8080"/><stop offset="0.676" stop-color="#00a810"/><stop offset="0.7236" stop-color="#0aa"/><stop offset="0.778" stop-color="#000070"/><stop offset="0.8695" stop-color="#0038b0"/><stop offset="1" stop-color="#0038b0"/></linearGradient><linearGradient id="g32"><stop offset="0" stop-color="#0038b0"/><stop offset="0.08647" stop-color="#0038b0"/><stop offset="0.1463" stop-color="#000070"/><stop offset="0.2052" stop-color="#0aa"/><stop offset="0.2493" stop-color="#00a810"/><stop offset="0.2911" stop-color="#ff8080"/><stop offset="0.3291" stop-color="#f00"/><stop offset="0.3612" stop-color="#ff4000"/><stop offset="0.3949" stop-color="#ff8000"/><stop offset="0.4213" stop-color="#ffa626"/><stop offset="0.4535" stop-color="#ffcc4d"/><stop offset="0.4806" stop-color="#ffec6d"/><stop offset="0.4942" stop-color="#fff97a"/><stop offset="0.5039" stop-color="#ffff80"/><stop offset="0.504" stop-color="#ffe667"/><stop offset="0.5168" stop-color="#ffd757"/><stop offset="0.5195" stop-color="#ffcc4d"/><stop offset="0.5344" stop-color="#ffa626"/><stop offset="0.5534" stop-color="#ff8000"/><stop offset="0.5757" stop-color="#ff4000"/><stop offset="0.5975" stop-color="#f00"/><stop offset="0.636" stop-color="#ff8080"/><stop offset="0.6779" stop-color="#00a810"/><stop offset="0.7259" stop-color="#0aa"/><stop offset="0.7807" stop-color="#000070"/><stop offset="0.8738" stop-color="#0038b0"/><stop offset="1" stop-color="#0038b0"/></linearGradient><linearGradient id="g33"><stop offset="0" stop-color="#0038b0"/><stop offset="0.08275" stop-color="#0038b0"/><stop offset="0.1436" stop-color="#000070"/><stop offset="0.203" stop-color="#0aa"/><stop offset="0.2475" stop-color="#00a810"/><stop offset="0.2894" stop-color="#ff8080"/><stop offset="0.3276" stop-color="#f00"/><stop offset="0.3598" stop-color="#ff4000"/><stop offset="0.3936" stop-color="#ff8000"/><stop offset="0.4202" stop-color="#ffa626"/><stop offset="0.4526" stop-color="#ffcc4d"/><stop offset="0.4803" stop-color="#ffec6d"/><stop offset="0.4941" stop-color="#fff97a"/><stop offset="0.5039" stop-color="#ffff80"/><stop offset="0.504" stop-color="#ffe667"/><stop offset="0.517" stop-color="#ffd758"/><stop offset="0.52" stop-color="#ffcc4d"/><stop offset="0.5351" stop-color="#ffa626"/><stop offset="0.5541" stop-color="#ff8000"/><stop offset="0.5768" stop-color="#ff4000"/><stop offset="0.5988" stop-color="#f00"/><stop offset="0.6378" stop-color="#ff8080"/><stop offset="0.6798" stop-color="#00a810"/><stop offset="0.7282" stop-color="#0aa"/><stop offset="0.7835" stop-color="#000070"/><stop offset="0.8781" stop-color="#0038b0"/><stop offset="1" stop-color="#0038b0"/></linearGradient><linearGradient id="g34"><stop offset="0" stop-color="#0038b0"/><stop offset="0.07903" stop-color="#0038b0"/><stop offset="0.1408" stop-color="#000070"/><stop offset="0.2008" stop-color="#0aa"/><stop offset="0.2457" stop-color="#00a810"/><stop offset="0.2877" stop-color="#ff8080"/><stop offset="0.3262" stop-color="#f00"/><stop offset="0.3584" stop-color="#ff4000"/><stop offset="0.3922" stop-color="#ff8000"/><stop offset="0.419" stop-color="#ffa626"/><stop offset="0.4518" stop-color="#ffcc4d"/><stop offset="0.4799" stop-color="#ffec6d"/><stop offset="0.4939" stop-color="#fff97a"/><stop offset="0.5039" stop-color="#ffff80"/><stop offset="0.504" stop-color="#ffe768"/><stop offset="0.5172" stop-color="#ffd858"/><stop offset="0.5204" stop-color="#ffcc4d"/><stop offset="0.5357" stop-color="#ffa626"/><stop offset="0.5548" stop-color="#ff8000"/><stop offset="0.5778" stop-color="#ff4000"/><stop offset="0.6001" stop-color="#f00"/><stop offset="0.6396" stop-color="#ff8080"/><stop offset="0.6817" stop-color="#00a810"/><stop offset="0.7304" stop-color="#0aa"/><stop offset="0.7863" stop-color="#000070"/><stop offset="0.8824" stop-color="#0038b0"/><stop offset="1" stop-color="#0038b0"/></linearGradient><linearGradient id="g35"><stop offset="0" stop-color="#0038b0"/><stop offset="0.07532" stop-color="#0038b0"/><stop offset="0.1381" stop-color="#000070"/><stop offset="0.1986" stop-color="#0aa"/><stop offset="0.2439" stop-color="#00a810"/><stop offset="0.286" stop-color="#ff8080"/><stop offset="0.3248" stop-color="#f00"/><stop offset="0.3571" stop-color="#ff4000"/><stop offset="0.3909" stop-color="#ff8000"/><stop offset="0.4178" stop-color="#ffa626"/><stop offset="0.4509" stop-color="#ffcc4d"/><stop offset="0.4795" stop-color="#ffec6d"/><stop offset="0.4938" stop-color="#fff97a"/><stop offset="0.5039" stop-color="#ffff80"/><stop offset="0.504" stop-color="#ffe868"/><stop offset="0.5174" stop-color="#ffd859"/><stop offset="0.5209" stop-color="#ffcc4d"/><stop offset="0.5364" stop-color="#ffa626"/><stop offset="0.5556" stop-color="#ff8000"/><stop offset="0.5789" stop-color="#ff4000"/><stop offset="0.6015" stop-color="#f00"/><stop offset="0.6414" stop-color="#ff8080"/><stop offset="0.6836" stop-color="#00a810"/><stop offset="0.7327" stop-color="#0aa"/><stop offset="0.7891" stop-color="#000070"/><stop offset="0.8867" stop-color="#0038b0"/><stop offset="1" stop-color="#0038b0"/></linearGradient><linearGradient id="g36"><stop offset="0" stop-color="#0038b0"/><stop offset="0.0716" stop-color="#0038b0"/><stop offset="0.1354" stop-color="#000070"/><stop offset="0.1964" stop-color="#0aa"/><stop offset="0.242" stop-color="#00a810"/><stop offset="0.2843" stop-color="#ff8080"/><stop offset="0.3233" stop-color="#f00"/><stop offset="0.3557" stop-color="#ff4000"/><stop offset="0.3895" stop-color="#ff8000"/><stop offset="0.4166" stop-color="#ffa626"/><stop offset="0.4501" stop-color="#ffcc4d"/><stop offset="0.4791" stop-color="#ffec6d"/><stop offset="0.4936" stop-color="#fff97a"/><stop offset="0.5039" stop-color="#ffff80"/><stop offset="0.504" stop-color="#ffe869"/><stop offset="0.5175" stop-color="#ffd95a"/><stop offset="0.5213" stop-color="#ffcc4d"/><stop offset="0.5372" stop-color="#ffa626"/><stop offset="0.5564" stop-color="#ff8000"/><stop offset="0.5799" stop-color="#ff4000"/><stop offset="0.6029" stop-color="#f00"/><stop offset="0.6432" stop-color="#ff8080"/><stop offset="0.6856" stop-color="#00a810"/><stop offset="0.735" stop-color="#0aa"/><stop offset="0.792" stop-color="#000070"/><stop offset="0.8909" stop-color="#0038b0"/><stop offset="1" stop-color="#0038b0"/></linearGradient><linearGradient id="g37"><stop offset="0" stop-color="#0038b0"/><stop offset="0.06788" stop-color="#0038b0"/><stop offset="0.1327" stop-color="#000070"/><stop offset="0.1942" stop-color="#0aa"/><stop offset="0.2402" stop-color="#00a810"/><stop offset="0.2826" stop-color="#ff8080"/><stop offset="0.3218" stop-color="#f00"/><stop offset="0.3543" stop-color="#ff4000"/><stop offset="0.3882" stop-color="#ff8000"/><stop offset="0.4154" stop-color="#ffa626"/><stop offset="0.4492" stop-color="#ffcc4d"/><stop offset="0.4787" stop-color="#ffec6d"/><stop offset="0.4934" stop-color="#fff97a"/><stop offset="0.5039" stop-color="#ffff80"/><stop offset="0.504" stop-color="#ffe96a"/><stop offset="0.5177" stop-color="#ffda5a"/><stop offset="0.5218" stop-color="#ffcc4d"/><stop offset="0.5379" stop-color="#ffa626"/><stop offset="0.5571" stop-color="#ff8000"/><stop offset="0.581" stop-color="#ff4000"/><stop offset="0.6043" stop-color="#f00"/><stop offset="0.645" stop-color="#ff8080"/><stop offset="0.6876" stop-color="#00a810"/><stop offset="0.7374" stop-color="#0aa"/><stop offset="0.7948" stop-color="#000070"/><stop offset="0.8952" stop-color="#0038b0"/><stop offset="1" stop-color="#0038b0"/></linearGradient><linearGradient id="g38"><stop offset="0" stop-color="#0038b0"/><stop offset="0.06416" stop-color="#0038b0"/><stop offset="0.13" stop-color="#000070"/><stop offset="0.192" stop-color="#0aa"/><stop offset="0.2383" stop-color="#00a810"/><stop offset="0.2808" stop-color="#ff8080"/><stop offset="0.3204" stop-color="#f00"/><stop offset="0.3528" stop-color="#ff4000"/><stop offset="0.3868" stop-color="#ff8000"/><stop offset="0.4141" stop-color="#ffa626"/><stop offset="0.4483" stop-color="#ffcc4d"/><stop offset="0.4783" stop-color="#ffec6d"/><stop offset="0.4933" stop-color="#fff97a"/><stop offset="0.5039" stop-color="#ffff80"/><stop offset="0.504" stop-color="#ffea6a"/><stop offset="0.5179" stop-color="#ffda5b"/><stop offset="0.5223" stop-color="#ffcc4d"/><stop offset="0.5386" stop-color="#ffa626"/><stop offset="0.5579" stop-color="#ff8000"/><stop offset="0.5821" stop-color="#ff4000"/><stop offset="0.6057" stop-color="#f00"/><stop offset="0.6468" stop-color="#ff8080"/><stop offset="0.6896" stop-color="#00a810"/><stop offset="0.7397" stop-color="#0aa"/><stop offset="0.7977" stop-color="#000070"/><stop offset="0.8995" stop-color="#0038b0"/><stop offset="1" stop-color="#0038b0"/></linearGradient><linearGradient id="g39"><stop offset="0" stop-color="#0038b0"/><stop offset="0.06044" stop-color="#0038b0"/><stop offset="0.1273" stop-color="#000070"/><stop offset="0.1897" stop-color="#0aa"/><stop offset="0.2364" stop-color="#00a810"/><stop offset="0.2791" stop-color="#ff8080"/><stop offset="0.3189" stop-color="#f00"/><stop offset="0.3514" stop-color="#ff4000"/><stop offset="0.3854" stop-color="#ff8000"/><stop offset="0.4129" stop-color="#ffa626"/><stop offset="0.4474" stop-color="#ffcc4d"/><stop offset="0.4779" stop-color="#ffec6d"/><stop offset="0.4931" stop-color="#fff97a"/><stop offset="0.5039" stop-color="#ffff80"/><stop offset="0.504" stop-color="#ffea6b"/><stop offset="0.5181" stop-color="#ffdb5c"/><stop offset="0.5229" stop-color="#ffcc4d"/><stop offset="0.5394" stop-color="#ffa626"/><stop offset="0.5587" stop-color="#ff8000"/><stop offset="0.5832" stop-color="#ff4000"/><stop offset="0.6071" stop-color="#f00"/><stop offset="0.6487" stop-color="#ff8080"/><stop offset="0.6917" stop-color="#00a810"/><stop offset="0.7421" stop-color="#0aa"/><stop offset="0.8006" stop-color="#000070"/><stop offset="0.9038" stop-color="#0038b0"/><stop offset="1" stop-color="#0038b0"/></linearGradient><linearGradient id="g40"><stop offset="0" stop-color="#0038b0"/><stop offset="0.05672" stop-color="#0038b0"/><stop offset="0.1246" stop-color="#000070"/><stop offset="0.1874" stop-color="#0aa"/><stop offset="0.2345" stop-color="#00a810"/><stop offset="0.2773" stop-color="#ff8080"/><stop offset="0.3174" stop-color="#f00"/><stop offset="0.35" stop-color="#ff4000"/><stop offset="0.384" stop-color="#ff8000"/><stop offset="0.4117" stop-color="#ffa626"/><stop offset="0.4465" stop-color="#ffcc4d"/><stop offset="0.4775" stop-color="#ffec6d"/><stop offset="0.4929" stop-color="#fff97a"/><stop offset="0.5039" stop-color="#ffff80"/><stop offset="0.504" stop-color="#ffeb6c"/><stop offset="0.5183" stop-color="#ffdc5c"/><stop offset="0.5234" stop-color="#ffcc4d"/><stop offset="0.5401" stop-color="#ffa626"/><stop offset="0.5595" stop-color="#ff8000"/><stop offset="0.5843" stop-color="#ff4000"/><stop offset="0.6085" stop-color="#f00"/><stop offset="0.6506" stop-color="#ff8080"/><stop offset="0.6937" stop-color="#00a810"/><stop offset="0.7445" stop-color="#0aa"/><stop offset="0.8035" stop-color="#000070"/><stop offset="0.9081" stop-color="#0038b0"/><stop offset="1" stop-color="#0038b0"/></linearGradient><linearGradient id="g41"><stop offset="0" stop-color="#0038b0"/><stop offset="0.053" stop-color="#0038b0"/><stop offset="0.1219" stop-color="#000070"/><stop offset="0.1852" stop-color="#0aa"/><stop offset="0.2326" stop-color="#00a810"/><stop offset="0.2756" stop-color="#ff8080"/><stop offset="0.3159" stop-color="#f00"/><stop offset="0.3486" stop-color="#ff4000"/><stop offset="0.3826" stop-color="#ff8000"/><stop offset="0.4104" stop-color="#ffa626"/><stop offset="0.4456" stop-color="#ffcc4d"/><stop offset="0.4771" stop-color="#ffec6d"/><stop offset="0.4928" stop-color="#fff97a"/><stop offset="0.5039" stop-color="#ffff80"/><stop offset="0.504" stop-color="#ffeb6c"/><stop offset="0.5184" stop-color="#ffdc5d"/><stop offset="0.5239" stop-color="#ffcc4d"/><stop offset="0.5409" stop-color="#ffa626"/><stop offset="0.5603" stop-color="#ff8000"/><stop offset="0.5854" stop-color="#ff4000"/><stop offset="0.6099" stop-color="#f00"/><stop offset="0.6525" stop-color="#ff8080"/><stop offset="0.6958" stop-color="#00a810"/><stop offset="0.7469" stop-color="#0aa"/><stop offset="0.8064" stop-color="#000070"/><stop offset="0.9124" stop-color="#0038b0"/><stop offset="1" stop-color="#0038b0"/></linearGradient><linearGradient id="g42"><stop offset="0" stop-color="#0038b0"/><stop offset="0.04928" stop-color="#0038b0"/><stop offset="0.1192" stop-color="#000070"/><stop offset="0.1829" stop-color="#0aa"/><stop offset="0.2307" stop-color="#00a810"/><stop offset="0.2738" stop-color="#ff8080"/><stop offset="0.3144" stop-color="#f00"/><stop offset="0.3471" stop-color="#ff4000"/><stop offset="0.3812" stop-color="#ff8000"/><stop offset="0.4092" stop-color="#ffa626"/><stop offset="0.4447" stop-color="#ffcc4d"/><stop offset="0.4767" stop-color="#ffec6d"/><stop offset="0.4926" stop-color="#fff97a"/><stop offset="0.5039" stop-color="#ffff80"/><stop offset="0.504" stop-color="#ffec6d"/><stop offset="0.5186" stop-color="#ffdd5e"/><stop offset="0.5245" stop-color="#ffcc4d"/><stop offset="0.5417" stop-color="#ffa626"/><stop offset="0.5612" stop-color="#ff8000"/><stop offset="0.5866" stop-color="#ff4000"/><stop offset="0.6114" stop-color="#f00"/><stop offset="0.6544" stop-color="#ff8080"/><stop offset="0.6979" stop-color="#00a810"/><stop offset="0.7493" stop-color="#0aa"/><stop offset="0.8094" stop-color="#000070"/><stop offset="0.9167" stop-color="#0038b0"/><stop offset="1" stop-color="#0038b0"/></linearGradient><linearGradient id="g43"><stop offset="0" stop-color="#0038b0"/><stop offset="0.04556" stop-color="#0038b0"/><stop offset="0.1165" stop-color="#000070"/><stop offset="0.1806" stop-color="#0aa"/><stop offset="0.2288" stop-color="#00a810"/><stop offset="0.272" stop-color="#ff8080"/><stop offset="0.3129" stop-color="#f00"/><stop offset="0.3457" stop-color="#ff4000"/><stop offset="0.3798" stop-color="#ff8000"/><stop offset="0.4079" stop-color="#ffa626"/><stop offset="0.4438" stop-color="#ffcc4d"/><stop offset="0.4762" stop-color="#ffec6d"/><stop offset="0.4924" stop-color="#fff97a"/><stop offset="0.5039" stop-color="#ffff80"/><stop offset="0.504" stop-color="#ffed6e"/><stop offset="0.5187" stop-color="#ffde5e"/><stop offset="0.5251" stop-color="#ffcc4d"/><stop offset="0.5426" stop-color="#ffa626"/><stop offset="0.562" stop-color="#ff8000"/><stop offset="0.5877" stop-color="#ff4000"/><stop offset="0.6129" stop-color="#f00"/><stop offset="0.6563" stop-color="#ff8080"/><stop offset="0.7" stop-color="#00a810"/><stop offset="0.7518" stop-color="#0aa"/><stop offset="0.8123" stop-color="#000070"/><stop offset="0.921" stop-color="#0038b0"/><stop offset="1" stop-color="#0038b0"/></linearGradient><linearGradient id="g44"><stop offset="0" stop-color="#0038b0"/><stop offset="0.04184" stop-color="#0038b0"/><stop offset="0.1138" stop-color="#000070"/><stop offset="0.1783" stop-color="#0aa"/><stop offset="0.2268" stop-color="#00a810"/><stop offset="0.2702" stop-color="#ff8080"/><stop offset="0.3114" stop-color="#f00"/><stop offset="0.3442" stop-color="#ff4000"/><stop offset="0.3783" stop-color="#ff8000"/><stop offset="0.4066" stop-color="#ffa626"/><stop offset="0.4429" stop-color="#ffcc4d"/><stop offset="0.4758" stop-color="#ffec6d"/><stop offset="0.4922" stop-color="#fff97a"/><stop offset="0.5039" stop-color="#ffff80"/><stop offset="0.504" stop-color="#ffee6f"/><stop offset="0.5188" stop-color="#ffde5f"/><stop offset="0.5257" stop-color="#ffcc4d"/><stop offset="0.5434" stop-color="#ffa626"/><stop offset="0.5629" stop-color="#ff8000"/><stop offset="0.5889" stop-color="#ff4000"/><stop offset="0.6144" stop-color="#f00"/><stop offset="0.6582" stop-color="#ff8080"/><stop offset="0.7021" stop-color="#00a810"/><stop offset="0.7542" stop-color="#0aa"/><stop offset="0.8153" stop-color="#000070"/><stop offset="0.9253" stop-color="#0038b0"/><stop offset="1" stop-color="#0038b0"/></linearGradient><linearGradient id="g45"><stop offset="0" stop-color="#0038b0"/><stop offset="0.03812" stop-color="#0038b0"/><stop offset="0.1111" stop-color="#000070"/><stop offset="0.1759" stop-color="#0aa"/><stop offset="0.2249" stop-color="#00a810"/><stop offset="0.2683" stop-color="#ff8080"/><stop offset="0.3099" stop-color="#f00"/><stop offset="0.3427" stop-color="#ff4000"/><stop offset="0.3769" stop-color="#ff8000"/><stop offset="0.4053" stop-color="#ffa626"/><stop offset="0.4419" stop-color="#ffcc4d"/><stop offset="0.4753" stop-color="#ffec6d"/><stop offset="0.4921" stop-color="#fff97a"/><stop offset="0.5039" stop-color="#ffff80"/><stop offset="0.504" stop-color="#ffef6f"/><stop offset="0.5189" stop-color="#ffdf60"/><stop offset="0.5263" stop-color="#ffcc4d"/><stop offset="0.5442" stop-color="#ffa626"/><stop offset="0.5637" stop-color="#ff8000"/><stop offset="0.5901" stop-color="#ff4000"/><stop offset="0.6159" stop-color="#f00"/><stop offset="0.6602" stop-color="#ff8080"/><stop offset="0.7043" stop-color="#00a810"/><stop offset="0.7567" stop-color="#0aa"/><stop offset="0.8183" stop-color="#000070"/><stop offset="0.9296" stop-color="#0038b0"/><stop offset="1" stop-color="#0038b0"/></linearGradient><linearGradient id="g46"><stop offset="0" stop-color="#0038b0"/><stop offset="0.0344" stop-color="#0038b0"/><stop offset="0.1084" stop-color="#000070"/><stop offset="0.1736" stop-color="#0aa"/><stop offset="0.2229" stop-color="#00a810"/><stop offset="0.2665" stop-color="#ff8080"/><stop offset="0.3083" stop-color="#f00"/><stop offset="0.3412" stop-color="#ff4000"/><stop offset="0.3755" stop-color="#ff8000"/><stop offset="0.404" stop-color="#ffa626"/><stop offset="0.441" stop-color="#ffcc4d"/><stop offset="0.4749" stop-color="#ffec6d"/><stop offset="0.4919" stop-color="#fff97a"/><stop offset="0.5039" stop-color="#ffff80"/><stop offset="0.504" stop-color="#ffef70"/><stop offset="0.5189" stop-color="#ffe061"/><stop offset="0.5269" stop-color="#ffcc4d"/><stop offset="0.5451" stop-color="#ffa626"/><stop offset="0.5646" stop-color="#ff8000"/><stop offset="0.5913" stop-color="#ff4000"/><stop offset="0.6174" stop-color="#f00"/><stop offset="0.6621" stop-color="#ff8080"/><stop offset="0.7065" stop-color="#00a810"/><stop offset="0.7592" stop-color="#0aa"/><stop offset="0.8213" stop-color="#000070"/><stop offset="0.9339" stop-color="#0038b0"/><stop offset="1" stop-color="#0038b0"/></linearGradient><linearGradient id="g47"><stop offset="0" stop-color="#0038b0"/><stop offset="0.03068" stop-color="#0038b0"/><stop offset="0.1057" stop-color="#000070"/><stop offset="0.1712" stop-color="#0aa"/><stop offset="0.2209" stop-color="#00a810"/><stop offset="0.2646" stop-color="#ff8080"/><stop offset="0.3068" stop-color="#f00"/><stop offset="0.3397" stop-color="#ff4000"/><stop offset="0.374" stop-color="#ff8000"/><stop offset="0.4027" stop-color="#ffa626"/><stop offset="0.44" stop-color="#ffcc4d"/><stop offset="0.4744" stop-color="#ffec6d"/><stop offset="0.4917" stop-color="#fff97a"/><stop offset="0.5039" stop-color="#ffff80"/><stop offset="0.504" stop-color="#fff071"/><stop offset="0.519" stop-color="#ffe162"/><stop offset="0.5275" stop-color="#ffcc4d"/><stop offset="0.546" stop-color="#ffa626"/><stop offset="0.5655" stop-color="#ff8000"/><stop offset="0.5925" stop-color="#ff4000"/><stop offset="0.6189" stop-color="#f00"/><stop offset="0.6641" stop-color="#ff8080"/><stop offset="0.7087" stop-color="#00a810"/><stop offset="0.7617" stop-color="#0aa"/><stop offset="0.8244" stop-color="#000070"/><stop offset="0.9382" stop-color="#0038b0"/><stop offset="1" stop-color="#0038b0"/></linearGradient><linearGradient id="g48"><stop offset="0" stop-color="#0038b0"/><stop offset="0.02696" stop-color="#0038b0"/><stop offset="0.103" stop-color="#000070"/><stop offset="0.1689" stop-color="#0aa"/><stop offset="0.2189" stop-color="#00a810"/><stop offset="0.2628" stop-color="#ff8080"/><stop offset="0.3052" stop-color="#f00"/><stop offset="0.3382" stop-color="#ff4000"/><stop offset="0.3725" stop-color="#ff8000"/><stop offset="0.4014" stop-color="#ffa626"/><stop offset="0.439" stop-color="#ffcc4d"/><stop offset="0.474" stop-color="#ffec6d"/><stop offset="0.4915" stop-color="#fff97a"/><stop offset="0.5039" stop-color="#ffff80"/><stop offset="0.504" stop-color="#fff172"/><stop offset="0.5191" stop-color="#ffe263"/><stop offset="0.5281" stop-color="#ffcc4d"/><stop offset="0.5468" stop-color="#ffa626"/><stop offset="0.5664" stop-color="#ff8000"/><stop offset="0.5937" stop-color="#ff4000"/><stop offset="0.6205" stop-color="#f00"/><stop offset="0.6661" stop-color="#ff8080"/><stop offset="0.7109" stop-color="#00a810"/><stop offset="0.7643" stop-color="#0aa"/><stop offset="0.8274" stop-color="#000070"/><stop offset="0.9425" stop-color="#0038b0"/><stop offset="1" stop-color="#0038b0"/></linearGradient><linearGradient id="g49"><stop offset="0" stop-color="#0038b0"/><stop offset="0.02325" stop-color="#0038b0"/><stop offset="0.1003" stop-color="#000070"/><stop offset="0.1665" stop-color="#0aa"/><stop offset="0.2169" stop-color="#00a810"/><stop offset="0.2609" stop-color="#ff8080"/><stop offset="0.3037" stop-color="#f00"/><stop offset="0.3367" stop-color="#ff4000"/><stop offset="0.3711" stop-color="#ff8000"/><stop offset="0.4001" stop-color="#ffa626"/><stop offset="0.4381" stop-color="#ffcc4d"/><stop offset="0.4735" stop-color="#ffec6d"/><stop offset="0.4913" stop-color="#fff97a"/><stop offset="0.5039" stop-color="#ffff80"/><stop offset="0.504" stop-color="#fff273"/><stop offset="0.5191" stop-color="#ffe363"/><stop offset="0.5288" stop-color="#ffcc4d"/><stop offset="0.5477" stop-color="#ffa626"/><stop offset="0.5673" stop-color="#ff8000"/><stop offset="0.5949" stop-color="#ff4000"/><stop offset="0.622" stop-color="#f00"/><stop offset="0.6681" stop-color="#ff8080"/><stop offset="0.7131" stop-color="#00a810"/><stop offset="0.7668" stop-color="#0aa"/><stop offset="0.8305" stop-color="#000070"/><stop offset="0.9468" stop-color="#0038b0"/><stop offset="1" stop-color="#0038b0"/></linearGradient><linearGradient id="g50"><stop offset="0" stop-color="#0038b0"/><stop offset="0.01953" stop-color="#0038b0"/><stop offset="0.09764" stop-color="#000070"/><stop offset="0.1641" stop-color="#0aa"/><stop offset="0.2149" stop-color="#00a810"/><stop offset="0.259" stop-color="#ff8080"/><stop offset="0.3021" stop-color="#f00"/><stop offset="0.3352" stop-color="#ff4000"/><stop offset="0.3696" stop-color="#ff8000"/><stop offset="0.3988" stop-color="#ffa626"/><stop offset="0.4371" stop-color="#ffcc4d"/><stop offset="0.473" stop-color="#ffec6d"/><stop offset="0.4911" stop-color="#fff97a"/><stop offset="0.5039" stop-color="#ffff80"/><stop offset="0.504" stop-color="#fff374"/><stop offset="0.5191" stop-color="#ffe364"/><stop offset="0.5294" stop-color="#ffcc4d"/><stop offset="0.5486" stop-color="#ffa626"/><stop offset="0.5682" stop-color="#ff8000"/><stop offset="0.5962" stop-color="#ff4000"/><stop offset="0.6236" stop-color="#f00"/><stop offset="0.6701" stop-color="#ff8080"/><stop offset="0.7154" stop-color="#00a810"/><stop offset="0.7694" stop-color="#0aa"/><stop offset="0.8336" stop-color="#000070"/><stop offset="0.951" stop-color="#0038b0"/><stop offset="1" stop-color="#0038b0"/></linearGradient><linearGradient id="g51"><stop offset="0" stop-color="#0038b0"/><stop offset="0.01581" stop-color="#0038b0"/><stop offset="0.09497" stop-color="#000070"/><stop offset="0.1617" stop-color="#0aa"/><stop offset="0.2128" stop-color="#00a810"/><stop offset="0.2571" stop-color="#ff8080"/><stop offset="0.3005" stop-color="#f00"/><stop offset="0.3337" stop-color="#ff4000"/><stop offset="0.3681" stop-color="#ff8000"/><stop offset="0.3975" stop-color="#ffa626"/><stop offset="0.4361" stop-color="#ffcc4d"/><stop offset="0.4725" stop-color="#ffec6d"/><stop offset="0.4909" stop-color="#fff97a"/><stop offset="0.5039" stop-color="#ffff80"/><stop offset="0.504" stop-color="#fff374"/><stop offset="0.5191" stop-color="#ffe465"/><stop offset="0.5301" stop-color="#ffcc4d"/><stop offset="0.5496" stop-color="#ffa626"/><stop offset="0.5692" stop-color="#ff8000"/><stop offset="0.5975" stop-color="#ff4000"/><stop offset="0.6252" stop-color="#f00"/><stop offset="0.6722" stop-color="#ff8080"/><stop offset="0.7177" stop-color="#00a810"/><stop offset="0.772" stop-color="#0aa"/><stop offset="0.8367" stop-color="#000070"/><stop offset="0.9553" stop-color="#0038b0"/><stop offset="1" stop-color="#0038b0"/></linearGradient><linearGradient id="g52"><stop offset="0" stop-color="#0038b0"/><stop offset="0.01209" stop-color="#0038b0"/><stop offset="0.09229" stop-color="#000070"/><stop offset="0.1592" stop-color="#0aa"/><stop offset="0.2108" stop-color="#00a810"/><stop offset="0.2552" stop-color="#ff8080"/><stop offset="0.2989" stop-color="#f00"/><stop offset="0.3321" stop-color="#ff4000"/><stop offset="0.3666" stop-color="#ff8000"/><stop offset="0.3961" stop-color="#ffa626"/><stop offset="0.4351" stop-color="#ffcc4d"/><stop offset="0.4721" stop-color="#ffec6d"/><stop offset="0.4907" stop-color="#fff97a"/><stop offset="0.5039" stop-color="#ffff80"/><stop offset="0.504" stop-color="#fff475"/><stop offset="0.5192" stop-color="#ffe566"/><stop offset="0.5308" stop-color="#ffcc4d"/><stop offset="0.5505" stop-color="#ffa626"/><stop offset="0.5701" stop-color="#ff8000"/><stop offset="0.5987" stop-color="#ff4000"/><stop offset="0.6268" stop-color="#f00"/><stop offset="0.6742" stop-color="#ff8080"/><stop offset="0.72" stop-color="#00a810"/><stop offset="0.7746" stop-color="#0aa"/><stop offset="0.8399" stop-color="#000070"/><stop offset="0.9596" stop-color="#0038b0"/><stop offset="1" stop-color="#0038b0"/></linearGradient><linearGradient id="g53"><stop offset="0" stop-color="#0038b0"/><stop offset="0.008368" stop-color="#0038b0"/><stop offset="0.08963" stop-color="#000070"/><stop offset="0.1568" stop-color="#0aa"/><stop offset="0.2087" stop-color="#00a810"/><stop offset="0.2532" stop-color="#ff8080"/><stop offset="0.2973" stop-color="#f00"/><stop offset="0.3306" stop-color="#ff4000"/><stop offset="0.3651" stop-color="#ff8000"/><stop offset="0.3948" stop-color="#ffa626"/><stop offset="0.4341" stop-color="#ffcc4d"/><stop offset="0.4716" stop-color="#ffec6d"/><stop offset="0.4905" stop-color="#fff97a"/><stop offset="0.5039" stop-color="#ffff80"/><stop offset="0.504" stop-color="#fff576"/><stop offset="0.5192" stop-color="#ffe667"/><stop offset="0.5315" stop-color="#ffcc4d"/><stop offset="0.5514" stop-color="#ffa626"/><stop offset="0.5711" stop-color="#ff8000"/><stop offset="0.6" stop-color="#ff4000"/><stop offset="0.6284" stop-color="#f00"/><stop offset="0.6763" stop-color="#ff8080"/><stop offset="0.7223" stop-color="#00a810"/><stop offset="0.7773" stop-color="#0aa"/><stop offset="0.843" stop-color="#000070"/><stop offset="0.9639" stop-color="#0038b0"/><stop offset="1" stop-color="#0038b0"/></linearGradient><linearGradient id="g54"><stop offset="0" stop-color="#0038b0"/><stop offset="0.004649" stop-color="#0038b0"/><stop offset="0.08697" stop-color="#000070"/><stop offset="0.1543" stop-color="#0aa"/><stop offset="0.2066" stop-color="#00a810"/><stop offset="0.2513" stop-color="#ff8080"/><stop offset="0.2957" stop-color="#f00"/><stop offset="0.329" stop-color="#ff4000"/><stop offset="0.3636" stop-color="#ff8000"/><stop offset="0.3934" stop-color="#ffa626"/><stop offset="0.433" stop-color="#ffcc4d"/><stop offset="0.4711" stop-color="#ffec6d"/><stop offset="0.4903" stop-color="#fff97a"/><stop offset="0.5039" stop-color="#ffff80"/><stop offset="0.504" stop-color="#fff677"/><stop offset="0.5191" stop-color="#ffe767"/><stop offset="0.5322" stop-color="#ffcc4d"/><stop offset="0.5524" stop-color="#ffa626"/><stop offset="0.5721" stop-color="#ff8000"/><stop offset="0.6013" stop-color="#ff4000"/><stop offset="0.63" stop-color="#f00"/><stop offset="0.6784" stop-color="#ff8080"/><stop offset="0.7246" stop-color="#00a810"/><stop offset="0.7799" stop-color="#0aa"/><stop offset="0.8462" stop-color="#000070"/><stop offset="0.9682" stop-color="#0038b0"/><stop offset="0.995" stop-color="#0038b0"/><stop offset="1" stop-color="#0036ad"/></linearGradient><linearGradient id="g55"><stop offset="0" stop-color="#0038b0"/><stop offset="0.0009298" stop-color="#0038b0"/><stop offset="0.08431" stop-color="#000070"/><stop offset="0.1519" stop-color="#0aa"/><stop offset="0.2045" stop-color="#00a810"/><stop offset="0.2493" stop-color="#ff8080"/><stop offset="0.2941" stop-color="#f00"/><stop offset="0.3275" stop-color="#ff4000"/><stop offset="0.3621" stop-color="#ff8000"/><stop offset="0.392" stop-color="#ffa626"/><stop offset="0.432" stop-color="#ffcc4d"/><stop offset="0.4705" stop-color="#ffec6d"/><stop offset="0.4901" stop-color="#fff97a"/><stop offset="0.5039" stop-color="#ffff80"/><stop offset="0.504" stop-color="#fff778"/><stop offset="0.5191" stop-color="#ffe768"/><stop offset="0.5329" stop-color="#ffcc4d"/><stop offset="0.5534" stop-color="#ffa626"/><stop offset="0.5731" stop-color="#ff8000"/><stop offset="0.6026" stop-color="#ff4000"/><stop offset="0.6317" stop-color="#f00"/><stop offset="0.6805" stop-color="#ff8080"/><stop offset="0.727" stop-color="#00a810"/><stop offset="0.7826" stop-color="#0aa"/><stop offset="0.8494" stop-color="#000070"/><stop offset="0.9725" stop-color="#0038b0"/><stop offset="0.9907" stop-color="#0038b0"/><stop offset="1" stop-color="#0034ab"/></linearGradient><linearGradient id="g56"><stop offset="0" stop-color="#0036ae"/><stop offset="0.08166" stop-color="#000070"/><stop offset="0.1494" stop-color="#0aa"/><stop offset="0.2024" stop-color="#00a810"/><stop offset="0.2474" stop-color="#ff8080"/><stop offset="0.2925" stop-color="#f00"/><stop offset="0.3259" stop-color="#ff4000"/><stop offset="0.3606" stop-color="#ff8000"/><stop offset="0.3907" stop-color="#ffa626"/><stop offset="0.4309" stop-color="#ffcc4d"/><stop offset="0.47" stop-color="#ffec6d"/><stop offset="0.4899" stop-color="#fff97a"/><stop offset="0.5039" stop-color="#ffff80"/><stop offset="0.504" stop-color="#fff878"/><stop offset="0.5191" stop-color="#ffe869"/><stop offset="0.5336" stop-color="#ffcc4d"/><stop offset="0.5543" stop-color="#ffa626"/><stop offset="0.5741" stop-color="#ff8000"/><stop offset="0.604" stop-color="#ff4000"/><stop offset="0.6334" stop-color="#f00"/><stop offset="0.6826" stop-color="#ff8080"/><stop offset="0.7294" stop-color="#00a810"/><stop offset="0.7853" stop-color="#0aa"/><stop offset="0.8526" stop-color="#000070"/><stop offset="0.9768" stop-color="#0038b0"/><stop offset="0.9865" stop-color="#0038b0"/><stop offset="1" stop-color="#0032a9"/></linearGradient><linearGradient id="g57"><stop offset="0" stop-color="#0034ab"/><stop offset="0.07902" stop-color="#000070"/><stop offset="0.1469" stop-color="#0aa"/><stop offset="0.2003" stop-color="#00a810"/><stop offset="0.2454" stop-color="#ff8080"/><stop offset="0.2909" stop-color="#f00"/><stop offset="0.3243" stop-color="#ff4000"/><stop offset="0.3591" stop-color="#ff8000"/><stop offset="0.3893" stop-color="#ffa626"/><stop offset="0.4299" stop-color="#ffcc4d"/><stop offset="0.4695" stop-color="#ffec6d"/><stop offset="0.4897" stop-color="#fff97a"/><stop offset="0.5039" stop-color="#ffff80"/><stop offset="0.504" stop-color="#fff879"/><stop offset="0.519" stop-color="#ffe96a"/><stop offset="0.5344" stop-color="#ffcc4d"/><stop offset="0.5553" stop-color="#ffa626"/><stop offset="0.5751" stop-color="#ff8000"/><stop offset="0.6053" stop-color="#ff4000"/><stop offset="0.635" stop-color="#f00"/><stop offset="0.6847" stop-color="#ff8080"/><stop offset="0.7318" stop-color="#00a810"/><stop offset="0.788" stop-color="#0aa"/><stop offset="0.8558" stop-color="#000070"/><stop offset="0.9811" stop-color="#0038b0"/><stop offset="0.9822" stop-color="#0038b0"/><stop offset="1" stop-color="#0030a7"/></linearGradient><linearGradient id="g58"><stop offset="0" stop-color="#0031a8"/><stop offset="0.07638" stop-color="#000070"/><stop offset="0.1444" stop-color="#0aa"/><stop offset="0.1981" stop-color="#00a810"/><stop offset="0.2434" stop-color="#ff8080"/><stop offset="0.2892" stop-color="#f00"/><stop offset="0.3227" stop-color="#ff4000"/><stop offset="0.3575" stop-color="#ff8000"/><stop offset="0.3879" stop-color="#ffa626"/><stop offset="0.4288" stop-color="#ffcc4d"/><stop offset="0.469" stop-color="#ffec6d"/><stop offset="0.4895" stop-color="#fff97a"/><stop offset="0.5039" stop-color="#ffff80"/><stop offset="0.504" stop-color="#fff97a"/><stop offset="0.519" stop-color="#ffea6b"/><stop offset="0.5351" stop-color="#ffcc4d"/><stop offset="0.5563" stop-color="#ffa626"/><stop offset="0.5761" stop-color="#ff8000"/><stop offset="0.6067" stop-color="#ff4000"/><stop offset="0.6367" stop-color="#f00"/><stop offset="0.6869" stop-color="#ff8080"/><stop offset="0.7342" stop-color="#00a810"/><stop offset="0.7907" stop-color="#0aa"/><stop offset="0.859" stop-color="#000070"/><stop offset="0.9816" stop-color="#0036ae"/><stop offset="1" stop-color="#002ea5"/></linearGradient><linearGradient id="g59"><stop offset="0" stop-color="#002fa6"/><stop offset="0.07375" stop-color="#000070"/><stop offset="0.1418" stop-color="#0aa"/><stop offset="0.196" stop-color="#00a810"/><stop offset="0.2414" stop-color="#ff8080"/><stop offset="0.2876" stop-color="#f00"/><stop offset="0.3211" stop-color="#ff4000"/><stop offset="0.356" stop-color="#ff8000"/><stop offset="0.3865" stop-color="#ffa626"/><stop offset="0.4278" stop-color="#ffcc4d"/><stop offset="0.4684" stop-color="#ffec6d"/><stop offset="0.4892" stop-color="#fff97a"/><stop offset="0.5039" stop-color="#ffff80"/><stop offset="0.504" stop-color="#fffa7b"/><stop offset="0.5189" stop-color="#ffeb6c"/><stop offset="0.5359" stop-color="#ffcc4d"/><stop offset="0.5574" stop-color="#ffa626"/><stop offset="0.5772" stop-color="#ff8000"/><stop offset="0.6081" stop-color="#ff4000"/><stop offset="0.6384" stop-color="#f00"/><stop offset="0.689" stop-color="#ff8080"/><stop offset="0.7367" stop-color="#00a810"/><stop offset="0.7935" stop-color="#0aa"/><stop offset="0.8623" stop-color="#000070"/><stop offset="0.9816" stop-color="#0034ac"/><stop offset="1" stop-color="#002ca3"/></linearGradient><linearGradient id="g60"><stop offset="0" stop-color="#002da3"/><stop offset="0.07113" stop-color="#000070"/><stop offset="0.1393" stop-color="#0aa"/><stop offset="0.1938" stop-color="#00a810"/><stop offset="0.2394" stop-color="#ff8080"/><stop offset="0.2859" stop-color="#f00"/><stop offset="0.3195" stop-color="#ff4000"/><stop offset="0.3544" stop-color="#ff8000"/><stop offset="0.3851" stop-color="#ffa626"/><stop offset="0.4267" stop-color="#ffcc4d"/><stop offset="0.4679" stop-color="#ffec6d"/><stop offset="0.489" stop-color="#fff97a"/><stop offset="0.5039" stop-color="#ffff80"/><stop offset="0.504" stop-color="#fffb7c"/><stop offset="0.5188" stop-color="#ffec6c"/><stop offset="0.5367" stop-color="#ffcc4d"/><stop offset="0.5584" stop-color="#ffa626"/><stop offset="0.5782" stop-color="#ff8000"/><stop offset="0.6095" stop-color="#ff4000"/><stop offset="0.6402" stop-color="#f00"/><stop offset="0.6912" stop-color="#ff8080"/><stop offset="0.7392" stop-color="#00a810"/><stop offset="0.7962" stop-color="#0aa"/><stop offset="0.8656" stop-color="#000070"/><stop offset="0.9816" stop-color="#03a"/><stop offset="1" stop-color="#002ba1"/></linearGradient><linearGradient id="g61"><stop offset="0" stop-color="#002ba1"/><stop offset="0.06851" stop-color="#000070"/><stop offset="0.1367" stop-color="#0aa"/><stop offset="0.1916" stop-color="#00a810"/><stop offset="0.2373" stop-color="#ff8080"/><stop offset="0.2842" stop-color="#f00"/><stop offset="0.3179" stop-color="#ff4000"/><stop offset="0.3529" stop-color="#ff8000"/><stop offset="0.3837" stop-color="#ffa626"/><stop offset="0.4256" stop-color="#ffcc4d"/><stop offset="0.4673" stop-color="#ffec6d"/><stop offset="0.4888" stop-color="#fff97a"/><stop offset="0.5039" stop-color="#ffff80"/><stop offset="0.504" stop-color="#fffc7d"/><stop offset="0.5188" stop-color="#ffec6d"/><stop offset="0.519" stop-color="#ffec6d"/><stop offset="0.5374" stop-color="#ffcc4d"/><stop offset="0.5594" stop-color="#ffa626"/><stop offset="0.5793" stop-color="#ff8000"/><stop offset="0.6109" stop-color="#ff4000"/><stop offset="0.6419" stop-color="#f00"/><stop offset="0.6934" stop-color="#ff8080"/><stop offset="0.7417" stop-color="#00a810"/><stop offset="0.799" stop-color="#0aa"/><stop offset="0.8688" stop-color="#000070"/><stop offset="0.9816" stop-color="#0031a8"/><stop offset="1" stop-color="#00299f"/></linearGradient><linearGradient id="g62"><stop offset="0" stop-color="#00299e"/><stop offset="0.06591" stop-color="#000070"/><stop offset="0.1342" stop-color="#0aa"/><stop offset="0.1894" stop-color="#00a810"/><stop offset="0.2353" stop-color="#ff8080"/><stop offset="0.2826" stop-color="#f00"/><stop offset="0.3163" stop-color="#ff4000"/><stop offset="0.3513" stop-color="#ff8000"/><stop offset="0.3823" stop-color="#ffa626"/><stop offset="0.4245" stop-color="#ffcc4d"/><stop offset="0.4668" stop-color="#ffec6d"/><stop offset="0.4886" stop-color="#fff97a"/><stop offset="0.5039" stop-color="#ffff80"/><stop offset="0.504" stop-color="#fffc7d"/><stop offset="0.5188" stop-color="#ffed6e"/><stop offset="0.5194" stop-color="#ffec6d"/><stop offset="0.5382" stop-color="#ffcc4d"/><stop offset="0.5605" stop-color="#ffa626"/><stop offset="0.5804" stop-color="#ff8000"/><stop offset="0.6123" stop-color="#ff4000"/><stop offset="0.6437" stop-color="#f00"/><stop offset="0.6956" stop-color="#ff8080"/><stop offset="0.7442" stop-color="#00a810"/><stop offset="0.8018" stop-color="#0aa"/><stop offset="0.8722" stop-color="#000070"/><stop offset="0.9816" stop-color="#002fa6"/><stop offset="1" stop-color="#00279d"/></linearGradient><linearGradient id="g63"><stop offset="0" stop-color="#00269c"/><stop offset="0.06331" stop-color="#000070"/><stop offset="0.1316" stop-color="#0aa"/><stop offset="0.1872" stop-color="#00a810"/><stop offset="0.2332" stop-color="#ff8080"/><stop offset="0.2809" stop-color="#f00"/><stop offset="0.3146" stop-color="#ff4000"/><stop offset="0.3497" stop-color="#ff8000"/><stop offset="0.3808" stop-color="#ffa626"/><stop offset="0.4234" stop-color="#ffcc4d"/><stop offset="0.4662" stop-color="#ffec6d"/><stop offset="0.4883" stop-color="#fff97a"/><stop offset="0.5039" stop-color="#ffff80"/><stop offset="0.504" stop-color="#fffd7e"/><stop offset="0.5188" stop-color="#ffee6f"/><stop offset="0.5198" stop-color="#ffec6d"/><stop offset="0.5391" stop-color="#ffcc4d"/><stop offset="0.5616" stop-color="#ffa626"/><stop offset="0.5815" stop-color="#ff8000"/><stop offset="0.6137" stop-color="#ff4000"/><stop offset="0.6454" stop-color="#f00"/><stop offset="0.6978" stop-color="#ff8080"/><stop offset="0.7467" stop-color="#00a810"/><stop offset="0.8047" stop-color="#0aa"/><stop offset="0.8755" stop-color="#000070"/><stop offset="0.9816" stop-color="#002da4"/><stop offset="1" stop-color="#00259b"/></linearGradient><linearGradient id="g64"><stop offset="0" stop-color="#00249a"/><stop offset="0.06072" stop-color="#000070"/><stop offset="0.129" stop-color="#0aa"/><stop offset="0.185" stop-color="#00a810"/><stop offset="0.2312" stop-color="#ff8080"/><stop offset="0.2792" stop-color="#f00"/><stop offset="0.313" stop-color="#ff4000"/><stop offset="0.3482" stop-color="#ff8000"/><stop offset="0.3794" stop-color="#ffa626"/><stop offset="0.4223" stop-color="#ffcc4d"/><stop offset="0.4656" stop-color="#ffec6d"/><stop offset="0.4881" stop-color="#fff97a"/><stop offset="0.5039" stop-color="#ffff80"/><stop offset="0.504" stop-color="#fffe7f"/><stop offset="0.5188" stop-color="#ffef70"/><stop offset="0.5202" stop-color="#ffec6d"/><stop offset="0.5399" stop-color="#ffcc4d"/><stop offset="0.5626" stop-color="#ffa626"/><stop offset="0.5826" stop-color="#ff8000"/><stop offset="0.6152" stop-color="#ff4000"/><stop offset="0.6472" stop-color="#f00"/><stop offset="0.7" stop-color="#ff8080"/><stop offset="0.7493" stop-color="#00a810"/><stop offset="0.8075" stop-color="#0aa"/><stop offset="0.8788" stop-color="#000070"/><stop offset="0.9816" stop-color="#002ca2"/><stop offset="1" stop-color="#002499"/></linearGradient><linearGradient id="g65"><stop offset="0" stop-color="#002297"/><stop offset="0.05814" stop-color="#000070"/><stop offset="0.1264" stop-color="#0aa"/><stop offset="0.1828" stop-color="#00a810"/><stop offset="0.2291" stop-color="#ff8080"/><stop offset="0.2775" stop-color="#f00"/><stop offset="0.3113" stop-color="#ff4000"/><stop offset="0.3466" stop-color="#ff8000"/><stop offset="0.378" stop-color="#ffa626"/><stop offset="0.4212" stop-color="#ffcc4d"/><stop offset="0.465" stop-color="#ffec6d"/><stop offset="0.4879" stop-color="#fff97a"/><stop offset="0.5039" stop-color="#ffff80"/><stop offset="0.504" stop-color="#ffff80"/><stop offset="0.5188" stop-color="#fff071"/><stop offset="0.5206" stop-color="#ffec6d"/><stop offset="0.5407" stop-color="#ffcc4d"/><stop offset="0.5637" stop-color="#ffa626"/><stop offset="0.5837" stop-color="#ff8000"/><stop offset="0.6166" stop-color="#ff4000"/><stop offset="0.649" stop-color="#f00"/><stop offset="0.7023" stop-color="#ff8080"/><stop offset="0.7518" stop-color="#00a810"/><stop offset="0.8104" stop-color="#0aa"/><stop offset="0.8822" stop-color="#000070"/><stop offset="0.9816" stop-color="#002aa0"/><stop offset="1" stop-color="#002297"/></linearGradient><linearGradient id="g66"><stop offset="0" stop-color="#002195"/><stop offset="0.05556" stop-color="#000070"/><stop offset="0.1237" stop-color="#0aa"/><stop offset="0.1805" stop-color="#00a810"/><stop offset="0.227" stop-color="#ff8080"/><stop offset="0.2758" stop-color="#f00"/><stop offset="0.3097" stop-color="#ff4000"/><stop offset="0.345" stop-color="#ff8000"/><stop offset="0.3765" stop-color="#ffa626"/><stop offset="0.42" stop-color="#ffcc4d"/><stop offset="0.4644" stop-color="#ffec6d"/><stop offset="0.4876" stop-color="#fff97a"/><stop offset="0.5039" stop-color="#ffff80"/><stop offset="0.504" stop-color="#ffff80"/><stop offset="0.5187" stop-color="#fff171"/><stop offset="0.521" stop-color="#ffec6d"/><stop offset="0.5416" stop-color="#ffcc4d"/><stop offset="0.5648" stop-color="#ffa626"/><stop offset="0.5849" stop-color="#ff8000"/><stop offset="0.6181" stop-color="#ff4000"/><stop offset="0.6508" stop-color="#f00"/><stop offset="0.7045" stop-color="#ff8080"/><stop offset="0.7544" stop-color="#00a810"/><stop offset="0.8133" stop-color="#0aa"/><stop offset="0.8856" stop-color="#000070"/><stop offset="0.9816" stop-color="#00289e"/><stop offset="1" stop-color="#002095"/></linearGradient><linearGradient id="g67"><stop offset="0" stop-color="#001f93"/><stop offset="0.053" stop-color="#000070"/><stop offset="0.1211" stop-color="#0aa"/><stop offset="0.1782" stop-color="#00a810"/><stop offset="0.2249" stop-color="#ff8080"/><stop offset="0.2741" stop-color="#f00"/><stop offset="0.308" stop-color="#ff4000"/><stop offset="0.3434" stop-color="#ff8000"/><stop offset="0.3751" stop-color="#ffa626"/><stop offset="0.4189" stop-color="#ffcc4d"/><stop offset="0.4638" stop-color="#ffec6d"/><stop offset="0.4874" stop-color="#fff97a"/><stop offset="0.5039" stop-color="#ffff80"/><stop offset="0.504" stop-color="#ffff80"/><stop offset="0.5187" stop-color="#fff172"/><stop offset="0.5214" stop-color="#ffec6d"/><stop offset="0.5424" stop-color="#ffcc4d"/><stop offset="0.566" stop-color="#ffa626"/><stop offset="0.586" stop-color="#ff8000"/><stop offset="0.6196" stop-color="#ff4000"/><stop offset="0.6527" stop-color="#f00"/><stop offset="0.7068" stop-color="#ff8080"/><stop offset="0.757" stop-color="#00a810"/><stop offset="0.8162" stop-color="#0aa"/><stop offset="0.889" stop-color="#000070"/><stop offset="0.9816" stop-color="#00269c"/><stop offset="1" stop-color="#001f93"/></linearGradient><linearGradient id="g68"><stop offset="0" stop-color="#001d91"/><stop offset="0.05044" stop-color="#000070"/><stop offset="0.1184" stop-color="#0aa"/><stop offset="0.1759" stop-color="#00a810"/><stop offset="0.2228" stop-color="#ff8080"/><stop offset="0.2723" stop-color="#f00"/><stop offset="0.3063" stop-color="#ff4000"/><stop offset="0.3418" stop-color="#ff8000"/><stop offset="0.3736" stop-color="#ffa626"/><stop offset="0.4177" stop-color="#ffcc4d"/><stop offset="0.4632" stop-color="#ffec6d"/><stop offset="0.4871" stop-color="#fff97a"/><stop offset="0.5039" stop-color="#ffff80"/><stop offset="0.504" stop-color="#ffff80"/><stop offset="0.5188" stop-color="#fff273"/><stop offset="0.5219" stop-color="#ffec6d"/><stop offset="0.5433" stop-color="#ffcc4d"/><stop offset="0.5671" stop-color="#ffa626"/><stop offset="0.5872" stop-color="#ff8000"/><stop offset="0.6211" stop-color="#ff4000"/><stop offset="0.6545" stop-color="#f00"/><stop offset="0.7091" stop-color="#ff8080"/><stop offset="0.7597" stop-color="#00a810"/><stop offset="0.8191" stop-color="#0aa"/><stop offset="0.8924" stop-color="#000070"/><stop offset="0.9816" stop-color="#00259a"/><stop offset="1" stop-color="#001d91"/></linearGradient><linearGradient id="g69"><stop offset="0" stop-color="#001b8f"/><stop offset="0.04786" stop-color="#000070"/><stop offset="0.1157" stop-color="#0aa"/><stop offset="0.1736" stop-color="#00a810"/><stop offset="0.2206" stop-color="#ff8080"/><stop offset="0.2706" stop-color="#f00"/><stop offset="0.3046" stop-color="#ff4000"/><stop offset="0.3402" stop-color="#ff8000"/><stop offset="0.3721" stop-color="#ffa626"/><stop offset="0.4166" stop-color="#ffcc4d"/><stop offset="0.4626" stop-color="#ffec6d"/><stop offset="0.4869" stop-color="#fff97a"/><stop offset="0.5039" stop-color="#ffff80"/><stop offset="0.504" stop-color="#ffff80"/><stop offset="0.5189" stop-color="#fff273"/><stop offset="0.5223" stop-color="#ffec6d"/><stop offset="0.5442" stop-color="#ffcc4d"/><stop offset="0.5682" stop-color="#ffa626"/><stop offset="0.5884" stop-color="#ff8000"/><stop offset="0.6227" stop-color="#ff4000"/><stop offset="0.6564" stop-color="#f00"/><stop offset="0.7114" stop-color="#ff8080"/><stop offset="0.7623" stop-color="#00a810"/><stop offset="0.822" stop-color="#0aa"/><stop offset="0.8958" stop-color="#000070"/><stop offset="0.9816" stop-color="#002398"/><stop offset="1" stop-color="#001c90"/></linearGradient><linearGradient id="g70"><stop offset="0" stop-color="#00198d"/><stop offset="0.04526" stop-color="#000070"/><stop offset="0.113" stop-color="#0aa"/><stop offset="0.1713" stop-color="#00a810"/><stop offset="0.2185" stop-color="#ff8080"/><stop offset="0.2688" stop-color="#f00"/><stop offset="0.3029" stop-color="#ff4000"/><stop offset="0.3385" stop-color="#ff8000"/><stop offset="0.3706" stop-color="#ffa626"/><stop offset="0.4154" stop-color="#ffcc4d"/><stop offset="0.462" stop-color="#ffec6d"/><stop offset="0.4866" stop-color="#fff97a"/><stop offset="0.5039" stop-color="#ffff80"/><stop offset="0.504" stop-color="#ffff80"/><stop offset="0.519" stop-color="#fff374"/><stop offset="0.5228" stop-color="#ffec6d"/><stop offset="0.5451" stop-color="#ffcc4d"/><stop offset="0.5694" stop-color="#ffa626"/><stop offset="0.5896" stop-color="#ff8000"/><stop offset="0.6242" stop-color="#ff4000"/><stop offset="0.6582" stop-color="#f00"/><stop offset="0.7137" stop-color="#ff8080"/><stop offset="0.765" stop-color="#00a810"/><stop offset="0.825" stop-color="#0aa"/><stop offset="0.8993" stop-color="#000070"/><stop offset="0.9816" stop-color="#002296"/><stop offset="1" stop-color="#001a8e"/></linearGradient><linearGradient id="g71"><stop offset="0" stop-color="#00188b"/><stop offset="0.04266" stop-color="#000070"/><stop offset="0.1103" stop-color="#0aa"/><stop offset="0.169" stop-color="#00a810"/><stop offset="0.2163" stop-color="#ff8080"/><stop offset="0.2671" stop-color="#f00"/><stop offset="0.3012" stop-color="#ff4000"/><stop offset="0.3369" stop-color="#ff8000"/><stop offset="0.3692" stop-color="#ffa626"/><stop offset="0.4142" stop-color="#ffcc4d"/><stop offset="0.4614" stop-color="#ffec6d"/><stop offset="0.4864" stop-color="#fff97a"/><stop offset="0.5039" stop-color="#ffff80"/><stop offset="0.504" stop-color="#ffff80"/><stop offset="0.5191" stop-color="#fff374"/><stop offset="0.5233" stop-color="#ffec6d"/><stop offset="0.546" stop-color="#ffcc4d"/><stop offset="0.5706" stop-color="#ffa626"/><stop offset="0.5908" stop-color="#ff8000"/><stop offset="0.6258" stop-color="#ff4000"/><stop offset="0.6601" stop-color="#f00"/><stop offset="0.7161" stop-color="#ff8080"/><stop offset="0.7677" stop-color="#00a810"/><stop offset="0.828" stop-color="#0aa"/><stop offset="0.9027" stop-color="#000070"/><stop offset="0.9816" stop-color="#002094"/><stop offset="1" stop-color="#00188c"/></linearGradient><linearGradient id="g72"><stop offset="0" stop-color="#001689"/><stop offset="0.04003" stop-color="#000070"/><stop offset="0.1076" stop-color="#0aa"/><stop offset="0.1666" stop-color="#00a810"/><stop offset="0.2141" stop-color="#ff8080"/><stop offset="0.2653" stop-color="#f00"/><stop offset="0.2995" stop-color="#ff4000"/><stop offset="0.3353" stop-color="#ff8000"/><stop offset="0.3677" stop-color="#ffa626"/><stop offset="0.413" stop-color="#ffcc4d"/><stop offset="0.4607" stop-color="#ffec6d"/><stop offset="0.4861" stop-color="#fff97a"/><stop offset="0.5039" stop-color="#ffff80"/><stop offset="0.504" stop-color="#ffff80"/><stop offset="0.5191" stop-color="#fff475"/><stop offset="0.5238" stop-color="#ffec6d"/><stop offset="0.5469" stop-color="#ffcc4d"/><stop offset="0.5717" stop-color="#ffa626"/><stop offset="0.592" stop-color="#ff8000"/><stop offset="0.6273" stop-color="#ff4000"/><stop offset="0.662" stop-color="#f00"/><stop offset="0.7184" stop-color="#ff8080"/><stop offset="0.7704" stop-color="#00a810"/><stop offset="0.831" stop-color="#0aa"/><stop offset="0.9062" stop-color="#000070"/><stop offset="0.9816" stop-color="#001e93"/><stop offset="1" stop-color="#00178a"/></linearGradient><linearGradient id="g73"><stop offset="0" stop-color="#001487"/><stop offset="0.03739" stop-color="#000070"/><stop offset="0.1049" stop-color="#0aa"/><stop offset="0.1643" stop-color="#00a810"/><stop offset="0.212" stop-color="#ff8080"/><stop offset="0.2635" stop-color="#f00"/><stop offset="0.2978" stop-color="#ff4000"/><stop offset="0.3336" stop-color="#ff8000"/><stop offset="0.3662" stop-color="#ffa626"/><stop offset="0.4119" stop-color="#ffcc4d"/><stop offset="0.4601" stop-color="#ffec6d"/><stop offset="0.4858" stop-color="#fff97a"/><stop offset="0.5039" stop-color="#ffff80"/><stop offset="0.504" stop-color="#ffff80"/><stop offset="0.5192" stop-color="#fff475"/><stop offset="0.5242" stop-color="#ffec6d"/><stop offset="0.5479" stop-color="#ffcc4d"/><stop offset="0.5729" stop-color="#ffa626"/><stop offset="0.5933" stop-color="#ff8000"/><stop offset="0.6289" stop-color="#ff4000"/><stop offset="0.664" stop-color="#f00"/><stop offset="0.7208" stop-color="#ff8080"/><stop offset="0.7732" stop-color="#00a810"/><stop offset="0.834" stop-color="#0aa"/><stop offset="0.9097" stop-color="#000070"/><stop offset="0.9816" stop-color="#001d91"/><stop offset="1" stop-color="#001588"/></linearGradient><linearGradient id="g74"><stop offset="0" stop-color="#001385"/><stop offset="0.03474" stop-color="#000070"/><stop offset="0.1021" stop-color="#0aa"/><stop offset="0.1619" stop-color="#00a810"/><stop offset="0.2098" stop-color="#ff8080"/><stop offset="0.2617" stop-color="#f00"/><stop offset="0.296" stop-color="#ff4000"/><stop offset="0.332" stop-color="#ff8000"/><stop offset="0.3647" stop-color="#ffa626"/><stop offset="0.4106" stop-color="#ffcc4d"/><stop offset="0.4594" stop-color="#ffec6d"/><stop offset="0.4856" stop-color="#fff97a"/><stop offset="0.5039" stop-color="#ffff80"/><stop offset="0.504" stop-color="#ffff80"/><stop offset="0.5192" stop-color="#fff576"/><stop offset="0.5247" stop-color="#ffec6d"/><stop offset="0.5488" stop-color="#ffcc4d"/><stop offset="0.5741" stop-color="#ffa626"/><stop offset="0.5945" stop-color="#ff8000"/><stop offset="0.6305" stop-color="#ff4000"/><stop offset="0.6659" stop-color="#f00"/><stop offset="0.7231" stop-color="#ff8080"/><stop offset="0.7759" stop-color="#00a810"/><stop offset="0.8371" stop-color="#0aa"/><stop offset="0.9132" stop-color="#000070"/><stop offset="0.9816" stop-color="#001b8f"/><stop offset="1" stop-color="#001487"/></linearGradient><linearGradient id="g75"><stop offset="0" stop-color="#001183"/><stop offset="0.03207" stop-color="#000070"/><stop offset="0.09933" stop-color="#0aa"/><stop offset="0.1595" stop-color="#00a810"/><stop offset="0.2076" stop-color="#ff8080"/><stop offset="0.2599" stop-color="#f00"/><stop offset="0.2943" stop-color="#ff4000"/><stop offset="0.3303" stop-color="#ff8000"/><stop offset="0.3632" stop-color="#ffa626"/><stop offset="0.4094" stop-color="#ffcc4d"/><stop offset="0.4588" stop-color="#ffec6d"/><stop offset="0.4853" stop-color="#fff97a"/><stop offset="0.5039" stop-color="#ffff80"/><stop offset="0.504" stop-color="#ffff80"/><stop offset="0.5193" stop-color="#fff576"/><stop offset="0.5253" stop-color="#ffec6d"/><stop offset="0.5498" stop-color="#ffcc4d"/><stop offset="0.5754" stop-color="#ffa626"/><stop offset="0.5958" stop-color="#ff8000"/><stop offset="0.6322" stop-color="#ff4000"/><stop offset="0.6678" stop-color="#f00"/><stop offset="0.7255" stop-color="#ff8080"/><stop offset="0.7787" stop-color="#00a810"/><stop offset="0.8402" stop-color="#0aa"/><stop offset="0.9168" stop-color="#000070"/><stop offset="0.9816" stop-color="#001a8d"/><stop offset="1" stop-color="#001285"/></linearGradient><linearGradient id="g76"><stop offset="0" stop-color="#000f82"/><stop offset="0.02939" stop-color="#000070"/><stop offset="0.09655" stop-color="#0aa"/><stop offset="0.1571" stop-color="#00a810"/><stop offset="0.2053" stop-color="#ff8080"/><stop offset="0.2581" stop-color="#f00"/><stop offset="0.2925" stop-color="#ff4000"/><stop offset="0.3287" stop-color="#ff8000"/><stop offset="0.3616" stop-color="#ffa626"/><stop offset="0.4082" stop-color="#ffcc4d"/><stop offset="0.4581" stop-color="#ffec6d"/><stop offset="0.485" stop-color="#fff97a"/><stop offset="0.5039" stop-color="#ffff80"/><stop offset="0.504" stop-color="#ffff80"/><stop offset="0.5193" stop-color="#fff677"/><stop offset="0.5258" stop-color="#ffec6d"/><stop offset="0.5508" stop-color="#ffcc4d"/><stop offset="0.5766" stop-color="#ffa626"/><stop offset="0.5971" stop-color="#ff8000"/><stop offset="0.6338" stop-color="#ff4000"/><stop offset="0.6698" stop-color="#f00"/><stop offset="0.7279" stop-color="#ff8080"/><stop offset="0.7815" stop-color="#00a810"/><stop offset="0.8432" stop-color="#0aa"/><stop offset="0.9203" stop-color="#000070"/><stop offset="0.9816" stop-color="#00188c"/><stop offset="1" stop-color="#001183"/></linearGradient><linearGradient id="g77"><stop offset="0" stop-color="#000e80"/><stop offset="0.02669" stop-color="#000070"/><stop offset="0.09374" stop-color="#0aa"/><stop offset="0.1546" stop-color="#00a810"/><stop offset="0.2031" stop-color="#ff8080"/><stop offset="0.2563" stop-color="#f00"/><stop offset="0.2908" stop-color="#ff4000"/><stop offset="0.327" stop-color="#ff8000"/><stop offset="0.3601" stop-color="#ffa626"/><stop offset="0.407" stop-color="#ffcc4d"/><stop offset="0.4574" stop-color="#ffec6d"/><stop offset="0.4847" stop-color="#fff97a"/><stop offset="0.5039" stop-color="#ffff80"/><stop offset="0.504" stop-color="#ffff80"/><stop offset="0.5193" stop-color="#fff677"/><stop offset="0.5263" stop-color="#ffec6d"/><stop offset="0.5517" stop-color="#ffcc4d"/><stop offset="0.5778" stop-color="#ffa626"/><stop offset="0.5984" stop-color="#ff8000"/><stop offset="0.6355" stop-color="#ff4000"/><stop offset="0.6718" stop-color="#f00"/><stop offset="0.7303" stop-color="#ff8080"/><stop offset="0.7843" stop-color="#00a810"/><stop offset="0.8464" stop-color="#0aa"/><stop offset="0.9239" stop-color="#000070"/><stop offset="0.9816" stop-color="#00178a"/><stop offset="1" stop-color="#000f82"/></linearGradient><linearGradient id="g78"><stop offset="0" stop-color="#000c7e"/><stop offset="0.02398" stop-color="#000070"/><stop offset="0.09093" stop-color="#0aa"/><stop offset="0.1522" stop-color="#00a810"/><stop offset="0.2009" stop-color="#ff8080"/><stop offset="0.2545" stop-color="#f00"/><stop offset="0.289" stop-color="#ff4000"/><stop offset="0.3253" stop-color="#ff8000"/><stop offset="0.3586" stop-color="#ffa626"/><stop offset="0.4057" stop-color="#ffcc4d"/><stop offset="0.4567" stop-color="#ffec6d"/><stop offset="0.4845" stop-color="#fff97a"/><stop offset="0.5039" stop-color="#ffff80"/><stop offset="0.504" stop-color="#ffff80"/><stop offset="0.5193" stop-color="#fff778"/><stop offset="0.5268" stop-color="#ffec6d"/><stop offset="0.5527" stop-color="#ffcc4d"/><stop offset="0.5791" stop-color="#ffa626"/><stop offset="0.5997" stop-color="#ff8000"/><stop offset="0.6371" stop-color="#ff4000"/><stop offset="0.6738" stop-color="#f00"/><stop offset="0.7328" stop-color="#ff8080"/><stop offset="0.7871" stop-color="#00a810"/><stop offset="0.8495" stop-color="#0aa"/><stop offset="0.9275" stop-color="#000070"/><stop offset="0.9816" stop-color="#001588"/><stop offset="1" stop-color="#000e80"/></linearGradient><linearGradient id="g79"><stop offset="0" stop-color="#000b7c"/><stop offset="0.02125" stop-color="#000070"/><stop offset="0.08809" stop-color="#0aa"/><stop offset="0.1497" stop-color="#00a810"/><stop offset="0.1986" stop-color="#ff8080"/><stop offset="0.2527" stop-color="#f00"/><stop offset="0.2872" stop-color="#ff4000"/><stop offset="0.3236" stop-color="#ff8000"/><stop offset="0.357" stop-color="#ffa626"/><stop offset="0.4045" stop-color="#ffcc4d"/><stop offset="0.456" stop-color="#ffec6d"/><stop offset="0.4842" stop-color="#fff97a"/><stop offset="0.5039" stop-color="#ffff80"/><stop offset="0.504" stop-color="#ffff80"/><stop offset="0.5193" stop-color="#fff778"/><stop offset="0.5274" stop-color="#ffec6d"/><stop offset="0.5537" stop-color="#ffcc4d"/><stop offset="0.5804" stop-color="#ffa626"/><stop offset="0.6011" stop-color="#ff8000"/><stop offset="0.6388" stop-color="#ff4000"/><stop offset="0.6758" stop-color="#f00"/><stop offset="0.7352" stop-color="#ff8080"/><stop offset="0.79" stop-color="#00a810"/><stop offset="0.8526" stop-color="#0aa"/><stop offset="0.9311" stop-color="#000070"/><stop offset="0.9816" stop-color="#001486"/><stop offset="1" stop-color="#000c7e"/></linearGradient><linearGradient id="g80"><stop offset="0" stop-color="#00097b"/><stop offset="0.0185" stop-color="#000070"/><stop offset="0.08524" stop-color="#0aa"/><stop offset="0.1473" stop-color="#00a810"/><stop offset="0.1964" stop-color="#ff8080"/><stop offset="0.2508" stop-color="#f00"/><stop offset="0.2854" stop-color="#ff4000"/><stop offset="0.322" stop-color="#ff8000"/><stop offset="0.3555" stop-color="#ffa626"/><stop offset="0.4032" stop-color="#ffcc4d"/><stop offset="0.4553" stop-color="#ffec6d"/><stop offset="0.4839" stop-color="#fff97a"/><stop offset="0.5039" stop-color="#ffff80"/><stop offset="0.504" stop-color="#ffff80"/><stop offset="0.5193" stop-color="#fff879"/><stop offset="0.5279" stop-color="#ffec6d"/><stop offset="0.5548" stop-color="#ffcc4d"/><stop offset="0.5816" stop-color="#ffa626"/><stop offset="0.6024" stop-color="#ff8000"/><stop offset="0.6405" stop-color="#ff4000"/><stop offset="0.6778" stop-color="#f00"/><stop offset="0.7377" stop-color="#ff8080"/><stop offset="0.7928" stop-color="#00a810"/><stop offset="0.8558" stop-color="#0aa"/><stop offset="0.9347" stop-color="#000070"/><stop offset="0.9816" stop-color="#001285"/><stop offset="1" stop-color="#000b7d"/></linearGradient><linearGradient id="g81"><stop offset="0" stop-color="#000879"/><stop offset="0.01574" stop-color="#000070"/><stop offset="0.08237" stop-color="#0aa"/><stop offset="0.1448" stop-color="#00a810"/><stop offset="0.1941" stop-color="#ff8080"/><stop offset="0.249" stop-color="#f00"/><stop offset="0.2836" stop-color="#ff4000"/><stop offset="0.3203" stop-color="#ff8000"/><stop offset="0.354" stop-color="#ffa626"/><stop offset="0.402" stop-color="#ffcc4d"/><stop offset="0.4546" stop-color="#ffec6d"/><stop offset="0.4836" stop-color="#fff97a"/><stop offset="0.5039" stop-color="#ffff80"/><stop offset="0.504" stop-color="#ffff80"/><stop offset="0.5193" stop-color="#fff879"/><stop offset="0.5285" stop-color="#ffec6d"/><stop offset="0.5558" stop-color="#ffcc4d"/><stop offset="0.5829" stop-color="#ffa626"/><stop offset="0.6038" stop-color="#ff8000"/><stop offset="0.6422" stop-color="#ff4000"/><stop offset="0.6799" stop-color="#f00"/><stop offset="0.7401" stop-color="#ff8080"/><stop offset="0.7957" stop-color="#00a810"/><stop offset="0.859" stop-color="#0aa"/><stop offset="0.9383" stop-color="#000070"/><stop offset="0.9816" stop-color="#001183"/><stop offset="1" stop-color="#000a7b"/></linearGradient><linearGradient id="g82"><stop offset="0" stop-color="#000677"/><stop offset="0.01296" stop-color="#000070"/><stop offset="0.07949" stop-color="#0aa"/><stop offset="0.1423" stop-color="#00a810"/><stop offset="0.1918" stop-color="#ff8080"/><stop offset="0.2471" stop-color="#f00"/><stop offset="0.2818" stop-color="#ff4000"/><stop offset="0.3186" stop-color="#ff8000"/><stop offset="0.3524" stop-color="#ffa626"/><stop offset="0.4007" stop-color="#ffcc4d"/><stop offset="0.4539" stop-color="#ffec6d"/><stop offset="0.4833" stop-color="#fff97a"/><stop offset="0.5039" stop-color="#ffff80"/><stop offset="0.504" stop-color="#ffff80"/><stop offset="0.5187" stop-color="#fff97a"/><stop offset="0.5195" stop-color="#fff97a"/><stop offset="0.5291" stop-color="#ffec6d"/><stop offset="0.5568" stop-color="#ffcc4d"/><stop offset="0.5842" stop-color="#ffa626"/><stop offset="0.6052" stop-color="#ff8000"/><stop offset="0.644" stop-color="#ff4000"/><stop offset="0.6819" stop-color="#f00"/><stop offset="0.7426" stop-color="#ff8080"/><stop offset="0.7986" stop-color="#00a810"/><stop offset="0.8622" stop-color="#0aa"/><stop offset="0.9419" stop-color="#000070"/><stop offset="0.9816" stop-color="#000f81"/><stop offset="1" stop-color="#000879"/></linearGradient><linearGradient id="g83"><stop offset="0" stop-color="#000576"/><stop offset="0.01017" stop-color="#000070"/><stop offset="0.07659" stop-color="#0aa"/><stop offset="0.1397" stop-color="#00a810"/><stop offset="0.1895" stop-color="#ff8080"/><stop offset="0.2452" stop-color="#f00"/><stop offset="0.28" stop-color="#ff4000"/><stop offset="0.3169" stop-color="#ff8000"/><stop offset="0.3508" stop-color="#ffa626"/><stop offset="0.3994" stop-color="#ffcc4d"/><stop offset="0.4531" stop-color="#ffec6d"/><stop offset="0.483" stop-color="#fff97a"/><stop offset="0.5039" stop-color="#ffff80"/><stop offset="0.504" stop-color="#ffff80"/><stop offset="0.5178" stop-color="#fff97a"/><stop offset="0.5198" stop-color="#fff97a"/><stop offset="0.5296" stop-color="#ffec6d"/><stop offset="0.5579" stop-color="#ffcc4d"/><stop offset="0.5856" stop-color="#ffa626"/><stop offset="0.6066" stop-color="#ff8000"/><stop offset="0.6457" stop-color="#ff4000"/><stop offset="0.684" stop-color="#f00"/><stop offset="0.7451" stop-color="#ff8080"/><stop offset="0.8015" stop-color="#00a810"/><stop offset="0.8655" stop-color="#0aa"/><stop offset="0.9456" stop-color="#000070"/><stop offset="0.9816" stop-color="#000e80"/><stop offset="1" stop-color="#000778"/></linearGradient><linearGradient id="g84"><stop offset="0" stop-color="#000474"/><stop offset="0.007364" stop-color="#000070"/><stop offset="0.07368" stop-color="#0aa"/><stop offset="0.1372" stop-color="#00a810"/><stop offset="0.1872" stop-color="#ff8080"/><stop offset="0.2433" stop-color="#f00"/><stop offset="0.2782" stop-color="#ff4000"/><stop offset="0.3151" stop-color="#ff8000"/><stop offset="0.3493" stop-color="#ffa626"/><stop offset="0.3981" stop-color="#ffcc4d"/><stop offset="0.4524" stop-color="#ffec6d"/><stop offset="0.4827" stop-color="#fff97a"/><stop offset="0.5039" stop-color="#ffff80"/><stop offset="0.504" stop-color="#ffff80"/><stop offset="0.5167" stop-color="#fffa7b"/><stop offset="0.5202" stop-color="#fff97a"/><stop offset="0.5302" stop-color="#ffec6d"/><stop offset="0.559" stop-color="#ffcc4d"/><stop offset="0.5869" stop-color="#ffa626"/><stop offset="0.608" stop-color="#ff8000"/><stop offset="0.6475" stop-color="#ff4000"/><stop offset="0.6861" stop-color="#f00"/><stop offset="0.7476" stop-color="#ff8080"/><stop offset="0.8045" stop-color="#00a810"/><stop offset="0.8687" stop-color="#0aa"/><stop offset="0.9493" stop-color="#000070"/><stop offset="0.9816" stop-color="#000c7e"/><stop offset="1" stop-color="#000576"/></linearGradient><linearGradient id="g85"><stop offset="0" stop-color="#000273"/><stop offset="0.00454" stop-color="#000070"/><stop offset="0.07075" stop-color="#0aa"/><stop offset="0.1346" stop-color="#00a810"/><stop offset="0.1849" stop-color="#ff8080"/><stop offset="0.2414" stop-color="#f00"/><stop offset="0.2763" stop-color="#ff4000"/><stop offset="0.3134" stop-color="#ff8000"/><stop offset="0.3477" stop-color="#ffa626"/><stop offset="0.3968" stop-color="#ffcc4d"/><stop offset="0.4516" stop-color="#ffec6d"/><stop offset="0.4824" stop-color="#fff97a"/><stop offset="0.5039" stop-color="#ffff80"/><stop offset="0.504" stop-color="#ffff80"/><stop offset="0.5157" stop-color="#fffb7b"/><stop offset="0.5206" stop-color="#fff97a"/><stop offset="0.5308" stop-color="#ffec6d"/><stop offset="0.56" stop-color="#ffcc4d"/><stop offset="0.5882" stop-color="#ffa626"/><stop offset="0.6094" stop-color="#ff8000"/><stop offset="0.6493" stop-color="#ff4000"/><stop offset="0.6882" stop-color="#f00"/><stop offset="0.7501" stop-color="#ff8080"/><stop offset="0.8074" stop-color="#00a810"/><stop offset="0.872" stop-color="#0aa"/><stop offset="0.953" stop-color="#000070"/><stop offset="0.9816" stop-color="#000b7c"/><stop offset="1" stop-color="#000474"/></linearGradient><linearGradient id="g86"><stop offset="0" stop-color="#000171"/><stop offset="0.0017" stop-color="#000070"/><stop offset="0.0678" stop-color="#0aa"/><stop offset="0.132" stop-color="#00a810"/><stop offset="0.1826" stop-color="#ff8080"/><stop offset="0.2395" stop-color="#f00"/><stop offset="0.2745" stop-color="#ff4000"/><stop offset="0.3117" stop-color="#ff8000"/><stop offset="0.3461" stop-color="#ffa626"/><stop offset="0.3955" stop-color="#ffcc4d"/><stop offset="0.4509" stop-color="#ffec6d"/><stop offset="0.4821" stop-color="#fff97a"/><stop offset="0.5039" stop-color="#ffff80"/><stop offset="0.504" stop-color="#ffff80"/><stop offset="0.5146" stop-color="#fffb7c"/><stop offset="0.521" stop-color="#fff97a"/><stop offset="0.5314" stop-color="#ffec6d"/><stop offset="0.5611" stop-color="#ffcc4d"/><stop offset="0.5896" stop-color="#ffa626"/><stop offset="0.6109" stop-color="#ff8000"/><stop offset="0.6511" stop-color="#ff4000"/><stop offset="0.6903" stop-color="#f00"/><stop offset="0.7527" stop-color="#ff8080"/><stop offset="0.8104" stop-color="#00a810"/><stop offset="0.8753" stop-color="#0aa"/><stop offset="0.9567" stop-color="#000070"/><stop offset="0.9816" stop-color="#00097b"/><stop offset="1" stop-color="#000273"/></linearGradient><linearGradient id="g87"><stop offset="0" stop-color="#000371"/><stop offset="0.06484" stop-color="#0aa"/><stop offset="0.1294" stop-color="#00a810"/><stop offset="0.1802" stop-color="#ff8080"/><stop offset="0.2376" stop-color="#f00"/><stop offset="0.2726" stop-color="#ff4000"/><stop offset="0.31" stop-color="#ff8000"/><stop offset="0.3445" stop-color="#ffa626"/><stop offset="0.3942" stop-color="#ffcc4d"/><stop offset="0.4501" stop-color="#ffec6d"/><stop offset="0.4817" stop-color="#fff97a"/><stop offset="0.5039" stop-color="#ffff80"/><stop offset="0.504" stop-color="#ffff80"/><stop offset="0.5134" stop-color="#fffc7d"/><stop offset="0.5214" stop-color="#fff97a"/><stop offset="0.5321" stop-color="#ffec6d"/><stop offset="0.5622" stop-color="#ffcc4d"/><stop offset="0.591" stop-color="#ffa626"/><stop offset="0.6124" stop-color="#ff8000"/><stop offset="0.6529" stop-color="#ff4000"/><stop offset="0.6924" stop-color="#f00"/><stop offset="0.7552" stop-color="#ff8080"/><stop offset="0.8134" stop-color="#00a810"/><stop offset="0.8786" stop-color="#0aa"/><stop offset="0.9604" stop-color="#000070"/><stop offset="0.9816" stop-color="#000879"/><stop offset="1" stop-color="#000171"/></linearGradient><linearGradient id="g88"><stop offset="0" stop-color="#000a74"/><stop offset="0.06185" stop-color="#0aa"/><stop offset="0.1268" stop-color="#00a810"/><stop offset="0.1779" stop-color="#ff8080"/><stop offset="0.2357" stop-color="#f00"/><stop offset="0.2708" stop-color="#ff4000"/><stop offset="0.3082" stop-color="#ff8000"/><stop offset="0.3429" stop-color="#ffa626"/><stop offset="0.3929" stop-color="#ffcc4d"/><stop offset="0.4493" stop-color="#ffec6d"/><stop offset="0.4814" stop-color="#fff97a"/><stop offset="0.5039" stop-color="#ffff80"/><stop offset="0.504" stop-color="#ffff80"/><stop offset="0.5122" stop-color="#fffc7d"/><stop offset="0.5218" stop-color="#fff97a"/><stop offset="0.5327" stop-color="#ffec6d"/><stop offset="0.5634" stop-color="#ffcc4d"/><stop offset="0.5924" stop-color="#ffa626"/><stop offset="0.6139" stop-color="#ff8000"/><stop offset="0.6547" stop-color="#ff4000"/><stop offset="0.6946" stop-color="#f00"/><stop offset="0.7578" stop-color="#ff8080"/><stop offset="0.8164" stop-color="#00a810"/><stop offset="0.8819" stop-color="#0aa"/><stop offset="0.9642" stop-color="#000070"/><stop offset="0.9816" stop-color="#000777"/><stop offset="0.9991" stop-color="#000070"/><stop offset="1" stop-color="#000271"/></linearGradient><linearGradient id="g89"><stop offset="0" stop-color="#001276"/><stop offset="0.05886" stop-color="#0aa"/><stop offset="0.1242" stop-color="#00a810"/><stop offset="0.1755" stop-color="#ff8080"/><stop offset="0.2337" stop-color="#f00"/><stop offset="0.2689" stop-color="#ff4000"/><stop offset="0.3065" stop-color="#ff8000"/><stop offset="0.3413" stop-color="#ffa626"/><stop offset="0.3916" stop-color="#ffcc4d"/><stop offset="0.4485" stop-color="#ffec6d"/><stop offset="0.4811" stop-color="#fff97a"/><stop offset="0.5039" stop-color="#ffff80"/><stop offset="0.504" stop-color="#ffff80"/><stop offset="0.5109" stop-color="#fffd7e"/><stop offset="0.5222" stop-color="#fff97a"/><stop offset="0.5333" stop-color="#ffec6d"/><stop offset="0.5645" stop-color="#ffcc4d"/><stop offset="0.5938" stop-color="#ffa626"/><stop offset="0.6154" stop-color="#ff8000"/><stop offset="0.6566" stop-color="#ff4000"/><stop offset="0.6967" stop-color="#f00"/><stop offset="0.7604" stop-color="#ff8080"/><stop offset="0.8194" stop-color="#00a810"/><stop offset="0.8853" stop-color="#0aa"/><stop offset="0.9679" stop-color="#000070"/><stop offset="0.9816" stop-color="#000576"/><stop offset="0.9953" stop-color="#000070"/><stop offset="1" stop-color="#000a73"/></linearGradient><linearGradient id="g90"><stop offset="0" stop-color="#001979"/><stop offset="0.05585" stop-color="#0aa"/><stop offset="0.1215" stop-color="#00a810"/><stop offset="0.1731" stop-color="#ff8080"/><stop offset="0.2318" stop-color="#f00"/><stop offset="0.267" stop-color="#ff4000"/><stop offset="0.3047" stop-color="#ff8000"/><stop offset="0.3397" stop-color="#ffa626"/><stop offset="0.3902" stop-color="#ffcc4d"/><stop offset="0.4477" stop-color="#ffec6d"/><stop offset="0.4808" stop-color="#fff97a"/><stop offset="0.5039" stop-color="#ffff80"/><stop offset="0.504" stop-color="#ffff80"/><stop offset="0.5095" stop-color="#fffd7e"/><stop offset="0.5226" stop-color="#fff97a"/><stop offset="0.534" stop-color="#ffec6d"/><stop offset="0.5656" stop-color="#ffcc4d"/><stop offset="0.5952" stop-color="#ffa626"/><stop offset="0.6169" stop-color="#ff8000"/><stop offset="0.6584" stop-color="#ff4000"/><stop offset="0.6989" stop-color="#f00"/><stop offset="0.7629" stop-color="#ff8080"/><stop offset="0.8224" stop-color="#00a810"/><stop offset="0.8887" stop-color="#0aa"/><stop offset="0.9717" stop-color="#000070"/><stop offset="0.9816" stop-color="#000474"/><stop offset="0.9916" stop-color="#000070"/><stop offset="1" stop-color="#001176"/></linearGradient><linearGradient id="g91"><stop offset="0" stop-color="#00217b"/><stop offset="0.05282" stop-color="#0aa"/><stop offset="0.1189" stop-color="#00a810"/><stop offset="0.1708" stop-color="#ff8080"/><stop offset="0.2298" stop-color="#f00"/><stop offset="0.2651" stop-color="#ff4000"/><stop offset="0.303" stop-color="#ff8000"/><stop offset="0.3381" stop-color="#ffa626"/><stop offset="0.3889" stop-color="#ffcc4d"/><stop offset="0.4469" stop-color="#ffec6d"/><stop offset="0.4804" stop-color="#fff97a"/><stop offset="0.5039" stop-color="#ffff80"/><stop offset="0.504" stop-color="#ffff80"/><stop offset="0.5081" stop-color="#fffe7f"/><stop offset="0.523" stop-color="#fff97a"/><stop offset="0.5346" stop-color="#ffec6d"/><stop offset="0.5668" stop-color="#ffcc4d"/><stop offset="0.5966" stop-color="#ffa626"/><stop offset="0.6184" stop-color="#ff8000"/><stop offset="0.6603" stop-color="#ff4000"/><stop offset="0.7011" stop-color="#f00"/><stop offset="0.7655" stop-color="#ff8080"/><stop offset="0.8254" stop-color="#00a810"/><stop offset="0.8921" stop-color="#0aa"/><stop offset="0.9755" stop-color="#000070"/><stop offset="0.9816" stop-color="#000273"/><stop offset="0.9878" stop-color="#000070"/><stop offset="1" stop-color="#001978"/></linearGradient><linearGradient id="g92"><stop offset="0" stop-color="#00297e"/><stop offset="0.04977" stop-color="#0aa"/><stop offset="0.1162" stop-color="#00a810"/><stop offset="0.1684" stop-color="#ff8080"/><stop offset="0.2278" stop-color="#f00"/><stop offset="0.2632" stop-color="#ff4000"/><stop offset="0.3012" stop-color="#ff8000"/><stop offset="0.3365" stop-color="#ffa626"/><stop offset="0.3875" stop-color="#ffcc4d"/><stop offset="0.4461" stop-color="#ffec6d"/><stop offset="0.4801" stop-color="#fff97a"/><stop offset="0.5039" stop-color="#ffff80"/><stop offset="0.504" stop-color="#ffff80"/><stop offset="0.5066" stop-color="#fffe7f"/><stop offset="0.5235" stop-color="#fff97a"/><stop offset="0.5353" stop-color="#ffec6d"/><stop offset="0.5679" stop-color="#ffcc4d"/><stop offset="0.598" stop-color="#ffa626"/><stop offset="0.62" stop-color="#ff8000"/><stop offset="0.6622" stop-color="#ff4000"/><stop offset="0.7033" stop-color="#f00"/><stop offset="0.7682" stop-color="#ff8080"/><stop offset="0.8285" stop-color="#00a810"/><stop offset="0.8955" stop-color="#0aa"/><stop offset="0.9793" stop-color="#000070"/><stop offset="0.9816" stop-color="#000171"/><stop offset="0.984" stop-color="#000070"/><stop offset="1" stop-color="#00207b"/></linearGradient><linearGradient id="g93"><stop offset="0" stop-color="#003081"/><stop offset="0.0467" stop-color="#0aa"/><stop offset="0.1135" stop-color="#00a810"/><stop offset="0.166" stop-color="#ff8080"/><stop offset="0.2258" stop-color="#f00"/><stop offset="0.2613" stop-color="#ff4000"/><stop offset="0.2994" stop-color="#ff8000"/><stop offset="0.3349" stop-color="#ffa626"/><stop offset="0.3862" stop-color="#ffcc4d"/><stop offset="0.4453" stop-color="#ffec6d"/><stop offset="0.4797" stop-color="#fff97a"/><stop offset="0.5039" stop-color="#ffff80"/><stop offset="0.5051" stop-color="#ffff80"/><stop offset="0.5239" stop-color="#fff97a"/><stop offset="0.536" stop-color="#ffec6d"/><stop offset="0.5691" stop-color="#ffcc4d"/><stop offset="0.5995" stop-color="#ffa626"/><stop offset="0.6216" stop-color="#ff8000"/><stop offset="0.6641" stop-color="#ff4000"/><stop offset="0.7055" stop-color="#f00"/><stop offset="0.7708" stop-color="#ff8080"/><stop offset="0.8316" stop-color="#00a810"/><stop offset="0.8989" stop-color="#0aa"/><stop offset="0.9816" stop-color="#000371"/><stop offset="1" stop-color="#00287e"/></linearGradient><linearGradient id="g94"><stop offset="0" stop-color="#003883"/><stop offset="0.04362" stop-color="#0aa"/><stop offset="0.1108" stop-color="#00a810"/><stop offset="0.1636" stop-color="#ff8080"/><stop offset="0.2239" stop-color="#f00"/><stop offset="0.2594" stop-color="#ff4000"/><stop offset="0.2977" stop-color="#ff8000"/><stop offset="0.3332" stop-color="#ffa626"/><stop offset="0.3848" stop-color="#ffcc4d"/><stop offset="0.4444" stop-color="#ffec6d"/><stop offset="0.4794" stop-color="#fff97a"/><stop offset="0.5039" stop-color="#ffff80"/><stop offset="0.504" stop-color="#ffff80"/><stop offset="0.5244" stop-color="#fff97a"/><stop offset="0.5367" stop-color="#ffec6d"/><stop offset="0.5703" stop-color="#ffcc4d"/><stop offset="0.6009" stop-color="#ffa626"/><stop offset="0.6232" stop-color="#ff8000"/><stop offset="0.666" stop-color="#ff4000"/><stop offset="0.7078" stop-color="#f00"/><stop offset="0.7734" stop-color="#ff8080"/><stop offset="0.8347" stop-color="#00a810"/><stop offset="0.9024" stop-color="#0aa"/><stop offset="0.9816" stop-color="#000b74"/><stop offset="1" stop-color="#003080"/></linearGradient><linearGradient id="g95"><stop offset="0" stop-color="#004086"/><stop offset="0.04051" stop-color="#0aa"/><stop offset="0.108" stop-color="#00a810"/><stop offset="0.1612" stop-color="#ff8080"/><stop offset="0.2218" stop-color="#f00"/><stop offset="0.2575" stop-color="#ff4000"/><stop offset="0.2959" stop-color="#ff8000"/><stop offset="0.3316" stop-color="#ffa626"/><stop offset="0.3834" stop-color="#ffcc4d"/><stop offset="0.4436" stop-color="#ffec6d"/><stop offset="0.479" stop-color="#fff97a"/><stop offset="0.5039" stop-color="#ffff80"/><stop offset="0.504" stop-color="#ffff80"/><stop offset="0.5249" stop-color="#fff97a"/><stop offset="0.5374" stop-color="#ffec6d"/><stop offset="0.5715" stop-color="#ffcc4d"/><stop offset="0.6024" stop-color="#ffa626"/><stop offset="0.6248" stop-color="#ff8000"/><stop offset="0.668" stop-color="#ff4000"/><stop offset="0.71" stop-color="#f00"/><stop offset="0.7761" stop-color="#ff8080"/><stop offset="0.8378" stop-color="#00a810"/><stop offset="0.9059" stop-color="#0aa"/><stop offset="0.9816" stop-color="#001276"/><stop offset="1" stop-color="#003783"/></linearGradient><linearGradient id="g96"><stop offset="0" stop-color="#004889"/><stop offset="0.03738" stop-color="#0aa"/><stop offset="0.1053" stop-color="#00a810"/><stop offset="0.1587" stop-color="#ff8080"/><stop offset="0.2198" stop-color="#f00"/><stop offset="0.2556" stop-color="#ff4000"/><stop offset="0.2941" stop-color="#ff8000"/><stop offset="0.33" stop-color="#ffa626"/><stop offset="0.382" stop-color="#ffcc4d"/><stop offset="0.4427" stop-color="#ffec6d"/><stop offset="0.4787" stop-color="#fff97a"/><stop offset="0.5039" stop-color="#ffff80"/><stop offset="0.504" stop-color="#ffff80"/><stop offset="0.5253" stop-color="#fff97a"/><stop offset="0.5381" stop-color="#ffec6d"/><stop offset="0.5727" stop-color="#ffcc4d"/><stop offset="0.6039" stop-color="#ffa626"/><stop offset="0.6264" stop-color="#ff8000"/><stop offset="0.67" stop-color="#ff4000"/><stop offset="0.7123" stop-color="#f00"/><stop offset="0.7787" stop-color="#ff8080"/><stop offset="0.8409" stop-color="#00a810"/><stop offset="0.9094" stop-color="#0aa"/><stop offset="0.9816" stop-color="#001a79"/><stop offset="1" stop-color="#003f85"/></linearGradient><linearGradient id="g97"><stop offset="0" stop-color="#00508b"/><stop offset="0.03424" stop-color="#0aa"/><stop offset="0.1025" stop-color="#00a810"/><stop offset="0.1563" stop-color="#ff8080"/><stop offset="0.2178" stop-color="#f00"/><stop offset="0.2536" stop-color="#ff4000"/><stop offset="0.2923" stop-color="#ff8000"/><stop offset="0.3283" stop-color="#ffa626"/><stop offset="0.3806" stop-color="#ffcc4d"/><stop offset="0.4419" stop-color="#ffec6d"/><stop offset="0.4783" stop-color="#fff97a"/><stop offset="0.5039" stop-color="#ffff80"/><stop offset="0.504" stop-color="#ffff80"/><stop offset="0.5258" stop-color="#fff97a"/><stop offset="0.5388" stop-color="#ffec6d"/><stop offset="0.5739" stop-color="#ffcc4d"/><stop offset="0.6053" stop-color="#ffa626"/><stop offset="0.628" stop-color="#ff8000"/><stop offset="0.6719" stop-color="#ff4000"/><stop offset="0.7145" stop-color="#f00"/><stop offset="0.7814" stop-color="#ff8080"/><stop offset="0.844" stop-color="#00a810"/><stop offset="0.9129" stop-color="#0aa"/><stop offset="0.9816" stop-color="#00227c"/><stop offset="1" stop-color="#004688"/></linearGradient><linearGradient id="g98"><stop offset="0" stop-color="#00588e"/><stop offset="0.03107" stop-color="#0aa"/><stop offset="0.09969" stop-color="#00a810"/><stop offset="0.1539" stop-color="#ff8080"/><stop offset="0.2158" stop-color="#f00"/><stop offset="0.2517" stop-color="#ff4000"/><stop offset="0.2905" stop-color="#ff8000"/><stop offset="0.3267" stop-color="#ffa626"/><stop offset="0.3792" stop-color="#ffcc4d"/><stop offset="0.441" stop-color="#ffec6d"/><stop offset="0.478" stop-color="#fff97a"/><stop offset="0.5039" stop-color="#ffff80"/><stop offset="0.504" stop-color="#ffff80"/><stop offset="0.5263" stop-color="#fff97a"/><stop offset="0.5395" stop-color="#ffec6d"/><stop offset="0.5751" stop-color="#ffcc4d"/><stop offset="0.6068" stop-color="#ffa626"/><stop offset="0.6297" stop-color="#ff8000"/><stop offset="0.6739" stop-color="#ff4000"/><stop offset="0.7168" stop-color="#f00"/><stop offset="0.7841" stop-color="#ff8080"/><stop offset="0.8471" stop-color="#00a810"/><stop offset="0.9165" stop-color="#0aa"/><stop offset="0.9816" stop-color="#00297e"/><stop offset="1" stop-color="#004e8b"/></linearGradient><linearGradient id="g99"><stop offset="0" stop-color="#006191"/><stop offset="0.02787" stop-color="#0aa"/><stop offset="0.09687" stop-color="#00a810"/><stop offset="0.1514" stop-color="#ff8080"/><stop offset="0.2137" stop-color="#f00"/><stop offset="0.2497" stop-color="#ff4000"/><stop offset="0.2887" stop-color="#ff8000"/><stop offset="0.325" stop-color="#ffa626"/><stop offset="0.3778" stop-color="#ffcc4d"/><stop offset="0.4401" stop-color="#ffec6d"/><stop offset="0.4776" stop-color="#fff97a"/><stop offset="0.5039" stop-color="#ffff80"/><stop offset="0.504" stop-color="#ffff80"/><stop offset="0.5268" stop-color="#fff97a"/><stop offset="0.5403" stop-color="#ffec6d"/><stop offset="0.5764" stop-color="#ffcc4d"/><stop offset="0.6084" stop-color="#ffa626"/><stop offset="0.6314" stop-color="#ff8000"/><stop offset="0.6759" stop-color="#ff4000"/><stop offset="0.7191" stop-color="#f00"/><stop offset="0.7868" stop-color="#ff8080"/><stop offset="0.8503" stop-color="#00a810"/><stop offset="0.92" stop-color="#0aa"/><stop offset="0.9816" stop-color="#003181"/><stop offset="1" stop-color="#00558d"/></linearGradient><linearGradient id="g100"><stop offset="0" stop-color="#006994"/><stop offset="0.02466" stop-color="#0aa"/><stop offset="0.09404" stop-color="#00a810"/><stop offset="0.1489" stop-color="#ff8080"/><stop offset="0.2116" stop-color="#f00"/><stop offset="0.2477" stop-color="#ff4000"/><stop offset="0.2869" stop-color="#ff8000"/><stop offset="0.3233" stop-color="#ffa626"/><stop offset="0.3764" stop-color="#ffcc4d"/><stop offset="0.4392" stop-color="#ffec6d"/><stop offset="0.4772" stop-color="#fff97a"/><stop offset="0.5039" stop-color="#ffff80"/><stop offset="0.504" stop-color="#ffff80"/><stop offset="0.5273" stop-color="#fff97a"/><stop offset="0.541" stop-color="#ffec6d"/><stop offset="0.5776" stop-color="#ffcc4d"/><stop offset="0.6099" stop-color="#ffa626"/><stop offset="0.6331" stop-color="#ff8000"/><stop offset="0.678" stop-color="#ff4000"/><stop offset="0.7215" stop-color="#f00"/><stop offset="0.7895" stop-color="#ff8080"/><stop offset="0.8534" stop-color="#00a810"/><stop offset="0.9236" stop-color="#0aa"/><stop offset="0.9816" stop-color="#003983"/><stop offset="1" stop-color="#005d90"/></linearGradient><linearGradient id="g101"><stop offset="0" stop-color="#007197"/><stop offset="0.02143" stop-color="#0aa"/><stop offset="0.09119" stop-color="#00a810"/><stop offset="0.1465" stop-color="#ff8080"/><stop offset="0.2096" stop-color="#f00"/><stop offset="0.2457" stop-color="#ff4000"/><stop offset="0.2851" stop-color="#ff8000"/><stop offset="0.3217" stop-color="#ffa626"/><stop offset="0.375" stop-color="#ffcc4d"/><stop offset="0.4383" stop-color="#ffec6d"/><stop offset="0.4768" stop-color="#fff97a"/><stop offset="0.5039" stop-color="#ffff80"/><stop offset="0.504" stop-color="#ffff80"/><stop offset="0.5279" stop-color="#fff97a"/><stop offset="0.5418" stop-color="#ffec6d"/><stop offset="0.5789" stop-color="#ffcc4d"/><stop offset="0.6114" stop-color="#ffa626"/><stop offset="0.6348" stop-color="#ff8000"/><stop offset="0.68" stop-color="#ff4000"/><stop offset="0.7238" stop-color="#f00"/><stop offset="0.7922" stop-color="#ff8080"/><stop offset="0.8566" stop-color="#00a810"/><stop offset="0.9272" stop-color="#0aa"/><stop offset="0.9816" stop-color="#004086"/><stop offset="1" stop-color="#006492"/></linearGradient><linearGradient id="g102"><stop offset="0" stop-color="#007a9a"/><stop offset="0.01817" stop-color="#0aa"/><stop offset="0.08832" stop-color="#00a810"/><stop offset="0.144" stop-color="#ff8080"/><stop offset="0.2075" stop-color="#f00"/><stop offset="0.2438" stop-color="#ff4000"/><stop offset="0.2833" stop-color="#ff8000"/><stop offset="0.32" stop-color="#ffa626"/><stop offset="0.3735" stop-color="#ffcc4d"/><stop offset="0.4374" stop-color="#ffec6d"/><stop offset="0.4764" stop-color="#fff97a"/><stop offset="0.5039" stop-color="#ffff80"/><stop offset="0.504" stop-color="#ffff80"/><stop offset="0.5284" stop-color="#fff97a"/><stop offset="0.5425" stop-color="#ffec6d"/><stop offset="0.5801" stop-color="#ffcc4d"/><stop offset="0.613" stop-color="#ffa626"/><stop offset="0.6365" stop-color="#ff8000"/><stop offset="0.6821" stop-color="#ff4000"/><stop offset="0.7261" stop-color="#f00"/><stop offset="0.7949" stop-color="#ff8080"/><stop offset="0.8598" stop-color="#00a810"/><stop offset="0.9309" stop-color="#0aa"/><stop offset="0.9816" stop-color="#004889"/><stop offset="1" stop-color="#006b95"/></linearGradient><linearGradient id="g103"><stop offset="0" stop-color="#00829d"/><stop offset="0.01489" stop-color="#0aa"/><stop offset="0.08543" stop-color="#00a810"/><stop offset="0.1415" stop-color="#ff8080"/><stop offset="0.2054" stop-color="#f00"/><stop offset="0.2418" stop-color="#ff4000"/><stop offset="0.2814" stop-color="#ff8000"/><stop offset="0.3183" stop-color="#ffa626"/><stop offset="0.3721" stop-color="#ffcc4d"/><stop offset="0.4365" stop-color="#ffec6d"/><stop offset="0.476" stop-color="#fff97a"/><stop offset="0.5039" stop-color="#ffff80"/><stop offset="0.504" stop-color="#ffff80"/><stop offset="0.5289" stop-color="#fff97a"/><stop offset="0.5433" stop-color="#ffec6d"/><stop offset="0.5814" stop-color="#ffcc4d"/><stop offset="0.6145" stop-color="#ffa626"/><stop offset="0.6383" stop-color="#ff8000"/><stop offset="0.6842" stop-color="#ff4000"/><stop offset="0.7285" stop-color="#f00"/><stop offset="0.7977" stop-color="#ff8080"/><stop offset="0.863" stop-color="#00a810"/><stop offset="0.9345" stop-color="#0aa"/><stop offset="0.9816" stop-color="#00508b"/><stop offset="1" stop-color="#007397"/></linearGradient><linearGradient id="g104"><stop offset="0" stop-color="#008b9f"/><stop offset="0.01159" stop-color="#0aa"/><stop offset="0.08252" stop-color="#00a810"/><stop offset="0.139" stop-color="#ff8080"/><stop offset="0.2033" stop-color="#f00"/><stop offset="0.2398" stop-color="#ff4000"/><stop offset="0.2796" stop-color="#ff8000"/><stop offset="0.3166" stop-color="#ffa626"/><stop offset="0.3706" stop-color="#ffcc4d"/><stop offset="0.4355" stop-color="#ffec6d"/><stop offset="0.4756" stop-color="#fff97a"/><stop offset="0.5039" stop-color="#ffff80"/><stop offset="0.504" stop-color="#ffff80"/><stop offset="0.5295" stop-color="#fff97a"/><stop offset="0.5441" stop-color="#ffec6d"/><stop offset="0.5827" stop-color="#ffcc4d"/><stop offset="0.6161" stop-color="#ffa626"/><stop offset="0.6401" stop-color="#ff8000"/><stop offset="0.6863" stop-color="#ff4000"/><stop offset="0.7309" stop-color="#f00"/><stop offset="0.8004" stop-color="#ff8080"/><stop offset="0.8662" stop-color="#00a810"/><stop offset="0.9382" stop-color="#0aa"/><stop offset="0.9816" stop-color="#00578e"/><stop offset="1" stop-color="#007a9a"/></linearGradient><linearGradient id="g105"><stop offset="0" stop-color="#0094a2"/><stop offset="0.00827" stop-color="#0aa"/><stop offset="0.07959" stop-color="#00a810"/><stop offset="0.1365" stop-color="#ff8080"/><stop offset="0.2011" stop-color="#f00"/><stop offset="0.2377" stop-color="#ff4000"/><stop offset="0.2778" stop-color="#ff8000"/><stop offset="0.3149" stop-color="#ffa626"/><stop offset="0.3692" stop-color="#ffcc4d"/><stop offset="0.4346" stop-color="#ffec6d"/><stop offset="0.4752" stop-color="#fff97a"/><stop offset="0.5039" stop-color="#ffff80"/><stop offset="0.504" stop-color="#ffff80"/><stop offset="0.53" stop-color="#fff97a"/><stop offset="0.5449" stop-color="#ffec6d"/><stop offset="0.584" stop-color="#ffcc4d"/><stop offset="0.6177" stop-color="#ffa626"/><stop offset="0.6419" stop-color="#ff8000"/><stop offset="0.6884" stop-color="#ff4000"/><stop offset="0.7333" stop-color="#f00"/><stop offset="0.8032" stop-color="#ff8080"/><stop offset="0.8694" stop-color="#00a810"/><stop offset="0.9419" stop-color="#0aa"/><stop offset="0.9816" stop-color="#005f90"/><stop offset="1" stop-color="#00819c"/></linearGradient><linearGradient id="g106"><stop offset="0" stop-color="#009da6"/><stop offset="0.004925" stop-color="#0aa"/><stop offset="0.07664" stop-color="#00a810"/><stop offset="0.134" stop-color="#ff8080"/><stop offset="0.199" stop-color="#f00"/><stop offset="0.2357" stop-color="#ff4000"/><stop offset="0.2759" stop-color="#ff8000"/><stop offset="0.3132" stop-color="#ffa626"/><stop offset="0.3677" stop-color="#ffcc4d"/><stop offset="0.4336" stop-color="#ffec6d"/><stop offset="0.4748" stop-color="#fff97a"/><stop offset="0.5039" stop-color="#ffff80"/><stop offset="0.504" stop-color="#ffff80"/><stop offset="0.5306" stop-color="#fff97a"/><stop offset="0.5457" stop-color="#ffec6d"/><stop offset="0.5853" stop-color="#ffcc4d"/><stop offset="0.6193" stop-color="#ffa626"/><stop offset="0.6437" stop-color="#ff8000"/><stop offset="0.6905" stop-color="#ff4000"/><stop offset="0.7357" stop-color="#f00"/><stop offset="0.806" stop-color="#ff8080"/><stop offset="0.8726" stop-color="#00a810"/><stop offset="0.9456" stop-color="#0aa"/><stop offset="0.9816" stop-color="#006693"/><stop offset="1" stop-color="#00899f"/></linearGradient><linearGradient id="g107"><stop offset="0" stop-color="#00a6a9"/><stop offset="0.001557" stop-color="#0aa"/><stop offset="0.07368" stop-color="#00a810"/><stop offset="0.1315" stop-color="#ff8080"/><stop offset="0.1969" stop-color="#f00"/><stop offset="0.2337" stop-color="#ff4000"/><stop offset="0.2741" stop-color="#ff8000"/><stop offset="0.3115" stop-color="#ffa626"/><stop offset="0.3662" stop-color="#ffcc4d"/><stop offset="0.4326" stop-color="#ffec6d"/><stop offset="0.4744" stop-color="#fff97a"/><stop offset="0.5039" stop-color="#ffff80"/><stop offset="0.504" stop-color="#ffff80"/><stop offset="0.5312" stop-color="#fff97a"/><stop offset="0.5465" stop-color="#ffec6d"/><stop offset="0.5866" stop-color="#ffcc4d"/><stop offset="0.6209" stop-color="#ffa626"/><stop offset="0.6455" stop-color="#ff8000"/><stop offset="0.6926" stop-color="#ff4000"/><stop offset="0.7381" stop-color="#f00"/><stop offset="0.8088" stop-color="#ff8080"/><stop offset="0.8758" stop-color="#00a810"/><stop offset="0.9494" stop-color="#0aa"/><stop offset="0.9816" stop-color="#006d95"/><stop offset="1" stop-color="#0090a1"/></linearGradient><linearGradient id="g108"><stop offset="0" stop-color="#00aaa6"/><stop offset="0.07069" stop-color="#00a810"/><stop offset="0.129" stop-color="#ff8080"/><stop offset="0.1947" stop-color="#f00"/><stop offset="0.2316" stop-color="#ff4000"/><stop offset="0.2722" stop-color="#ff8000"/><stop offset="0.3098" stop-color="#ffa626"/><stop offset="0.3648" stop-color="#ffcc4d"/><stop offset="0.4317" stop-color="#ffec6d"/><stop offset="0.474" stop-color="#fff97a"/><stop offset="0.5039" stop-color="#ffff80"/><stop offset="0.504" stop-color="#ffff80"/><stop offset="0.5318" stop-color="#fff97a"/><stop offset="0.5474" stop-color="#ffec6d"/><stop offset="0.588" stop-color="#ffcc4d"/><stop offset="0.6225" stop-color="#ffa626"/><stop offset="0.6473" stop-color="#ff8000"/><stop offset="0.6948" stop-color="#ff4000"/><stop offset="0.7405" stop-color="#f00"/><stop offset="0.8116" stop-color="#ff8080"/><stop offset="0.879" stop-color="#00a810"/><stop offset="0.9531" stop-color="#0aa"/><stop offset="0.9816" stop-color="#007598"/><stop offset="1" stop-color="#0097a4"/></linearGradient><linearGradient id="g109"><stop offset="0" stop-color="#00aa9f"/><stop offset="0.06768" stop-color="#00a810"/><stop offset="0.1265" stop-color="#ff8080"/><stop offset="0.1925" stop-color="#f00"/><stop offset="0.2296" stop-color="#ff4000"/><stop offset="0.2703" stop-color="#ff8000"/><stop offset="0.3081" stop-color="#ffa626"/><stop offset="0.3633" stop-color="#ffcc4d"/><stop offset="0.4307" stop-color="#ffec6d"/><stop offset="0.4735" stop-color="#fff97a"/><stop offset="0.5039" stop-color="#ffff80"/><stop offset="0.504" stop-color="#ffff80"/><stop offset="0.5324" stop-color="#fff97a"/><stop offset="0.5482" stop-color="#ffec6d"/><stop offset="0.5893" stop-color="#ffcc4d"/><stop offset="0.6242" stop-color="#ffa626"/><stop offset="0.6492" stop-color="#ff8000"/><stop offset="0.697" stop-color="#ff4000"/><stop offset="0.7429" stop-color="#f00"/><stop offset="0.8144" stop-color="#ff8080"/><stop offset="0.8823" stop-color="#00a810"/><stop offset="0.9569" stop-color="#0aa"/><stop offset="0.9816" stop-color="#007c9a"/><stop offset="1" stop-color="#009ea6"/></linearGradient><linearGradient id="g110"><stop offset="0" stop-color="#00aa98"/><stop offset="0.06466" stop-color="#00a810"/><stop offset="0.124" stop-color="#ff8080"/><stop offset="0.1904" stop-color="#f00"/><stop offset="0.2275" stop-color="#ff4000"/><stop offset="0.2685" stop-color="#ff8000"/><stop offset="0.3064" stop-color="#ffa626"/><stop offset="0.3618" stop-color="#ffcc4d"/><stop offset="0.4297" stop-color="#ffec6d"/><stop offset="0.4731" stop-color="#fff97a"/><stop offset="0.5039" stop-color="#ffff80"/><stop offset="0.504" stop-color="#ffff80"/><stop offset="0.533" stop-color="#fff97a"/><stop offset="0.5491" stop-color="#ffec6d"/><stop offset="0.5906" stop-color="#ffcc4d"/><stop offset="0.6258" stop-color="#ffa626"/><stop offset="0.6511" stop-color="#ff8000"/><stop offset="0.6992" stop-color="#ff4000"/><stop offset="0.7454" stop-color="#f00"/><stop offset="0.8172" stop-color="#ff8080"/><stop offset="0.8855" stop-color="#00a810"/><stop offset="0.9607" stop-color="#0aa"/><stop offset="0.9816" stop-color="#00839d"/><stop offset="1" stop-color="#00a5a8"/></linearGradient><linearGradient id="g111"><stop offset="0" stop-color="#00aa91"/><stop offset="0.06161" stop-color="#00a810"/><stop offset="0.1214" stop-color="#ff8080"/><stop offset="0.1882" stop-color="#f00"/><stop offset="0.2255" stop-color="#ff4000"/><stop offset="0.2666" stop-color="#ff8000"/><stop offset="0.3047" stop-color="#ffa626"/><stop offset="0.3603" stop-color="#ffcc4d"/><stop offset="0.4287" stop-color="#ffec6d"/><stop offset="0.4727" stop-color="#fff97a"/><stop offset="0.5039" stop-color="#ffff80"/><stop offset="0.504" stop-color="#ffff80"/><stop offset="0.5336" stop-color="#fff97a"/><stop offset="0.5499" stop-color="#ffec6d"/><stop offset="0.592" stop-color="#ffcc4d"/><stop offset="0.6275" stop-color="#ffa626"/><stop offset="0.653" stop-color="#ff8000"/><stop offset="0.7014" stop-color="#ff4000"/><stop offset="0.7479" stop-color="#f00"/><stop offset="0.82" stop-color="#ff8080"/><stop offset="0.8888" stop-color="#00a810"/><stop offset="0.9645" stop-color="#0aa"/><stop offset="0.9816" stop-color="#008b9f"/><stop offset="0.9987" stop-color="#0aa"/><stop offset="1" stop-color="#00aaa7"/></linearGradient><linearGradient id="g112"><stop offset="0" stop-color="#00aa8a"/><stop offset="0.05854" stop-color="#00a810"/><stop offset="0.1189" stop-color="#ff8080"/><stop offset="0.1859" stop-color="#f00"/><stop offset="0.2234" stop-color="#ff4000"/><stop offset="0.2647" stop-color="#ff8000"/><stop offset="0.303" stop-color="#ffa626"/><stop offset="0.3588" stop-color="#ffcc4d"/><stop offset="0.4277" stop-color="#ffec6d"/><stop offset="0.4722" stop-color="#fff97a"/><stop offset="0.5039" stop-color="#ffff80"/><stop offset="0.504" stop-color="#ffff80"/><stop offset="0.5342" stop-color="#fff97a"/><stop offset="0.5508" stop-color="#ffec6d"/><stop offset="0.5934" stop-color="#ffcc4d"/><stop offset="0.6291" stop-color="#ffa626"/><stop offset="0.6549" stop-color="#ff8000"/><stop offset="0.7036" stop-color="#ff4000"/><stop offset="0.7503" stop-color="#f00"/><stop offset="0.8228" stop-color="#ff8080"/><stop offset="0.892" stop-color="#00a810"/><stop offset="0.9684" stop-color="#0aa"/><stop offset="0.9816" stop-color="#0092a2"/><stop offset="0.9949" stop-color="#0aa"/><stop offset="1" stop-color="#00aaa0"/></linearGradient><linearGradient id="g113"><stop offset="0" stop-color="#00a982"/><stop offset="0.05546" stop-color="#00a810"/><stop offset="0.1163" stop-color="#ff8080"/><stop offset="0.1837" stop-color="#f00"/><stop offset="0.2213" stop-color="#ff4000"/><stop offset="0.2628" stop-color="#ff8000"/><stop offset="0.3012" stop-color="#ffa626"/><stop offset="0.3572" stop-color="#ffcc4d"/><stop offset="0.4266" stop-color="#ffec6d"/><stop offset="0.4718" stop-color="#fff97a"/><stop offset="0.5039" stop-color="#ffff80"/><stop offset="0.504" stop-color="#ffff80"/><stop offset="0.5349" stop-color="#fff97a"/><stop offset="0.5517" stop-color="#ffec6d"/><stop offset="0.5948" stop-color="#ffcc4d"/><stop offset="0.6308" stop-color="#ffa626"/><stop offset="0.6569" stop-color="#ff8000"/><stop offset="0.7059" stop-color="#ff4000"/><stop offset="0.7528" stop-color="#f00"/><stop offset="0.8257" stop-color="#ff8080"/><stop offset="0.8953" stop-color="#00a810"/><stop offset="0.9722" stop-color="#0aa"/><stop offset="0.9816" stop-color="#0099a4"/><stop offset="0.991" stop-color="#0aa"/><stop offset="1" stop-color="#00aa98"/></linearGradient><linearGradient id="g114"><stop offset="0" stop-color="#00a97b"/><stop offset="0.05235" stop-color="#00a810"/><stop offset="0.1138" stop-color="#ff8080"/><stop offset="0.1815" stop-color="#f00"/><stop offset="0.2192" stop-color="#ff4000"/><stop offset="0.2609" stop-color="#ff8000"/><stop offset="0.2995" stop-color="#ffa626"/><stop offset="0.3557" stop-color="#ffcc4d"/><stop offset="0.4256" stop-color="#ffec6d"/><stop offset="0.4713" stop-color="#fff97a"/><stop offset="0.5039" stop-color="#ffff80"/><stop offset="0.504" stop-color="#ffff80"/><stop offset="0.5355" stop-color="#fff97a"/><stop offset="0.5526" stop-color="#ffec6d"/><stop offset="0.5961" stop-color="#ffcc4d"/><stop offset="0.6325" stop-color="#ffa626"/><stop offset="0.6588" stop-color="#ff8000"/><stop offset="0.7081" stop-color="#ff4000"/><stop offset="0.7553" stop-color="#f00"/><stop offset="0.8286" stop-color="#ff8080"/><stop offset="0.8985" stop-color="#00a810"/><stop offset="0.9761" stop-color="#0aa"/><stop offset="0.9816" stop-color="#00a0a7"/><stop offset="0.9871" stop-color="#0aa"/><stop offset="1" stop-color="#00aa90"/></linearGradient><linearGradient id="g115"><stop offset="0" stop-color="#00a974"/><stop offset="0.04922" stop-color="#00a810"/><stop offset="0.1112" stop-color="#ff8080"/><stop offset="0.1792" stop-color="#f00"/><stop offset="0.2171" stop-color="#ff4000"/><stop offset="0.2591" stop-color="#ff8000"/><stop offset="0.2977" stop-color="#ffa626"/><stop offset="0.3542" stop-color="#ffcc4d"/><stop offset="0.4245" stop-color="#ffec6d"/><stop offset="0.4708" stop-color="#fff97a"/><stop offset="0.5039" stop-color="#ffff80"/><stop offset="0.504" stop-color="#ffff80"/><stop offset="0.5362" stop-color="#fff97a"/><stop offset="0.5535" stop-color="#ffec6d"/><stop offset="0.5975" stop-color="#ffcc4d"/><stop offset="0.6342" stop-color="#ffa626"/><stop offset="0.6608" stop-color="#ff8000"/><stop offset="0.7104" stop-color="#ff4000"/><stop offset="0.7579" stop-color="#f00"/><stop offset="0.8314" stop-color="#ff8080"/><stop offset="0.9018" stop-color="#00a810"/><stop offset="0.98" stop-color="#0aa"/><stop offset="0.9816" stop-color="#00a7a9"/><stop offset="0.9832" stop-color="#0aa"/><stop offset="1" stop-color="#00aa89"/></linearGradient><linearGradient id="g116"><stop offset="0" stop-color="#00a96e"/><stop offset="0.04607" stop-color="#00a810"/><stop offset="0.1087" stop-color="#ff8080"/><stop offset="0.177" stop-color="#f00"/><stop offset="0.215" stop-color="#ff4000"/><stop offset="0.2572" stop-color="#ff8000"/><stop offset="0.296" stop-color="#ffa626"/><stop offset="0.3526" stop-color="#ffcc4d"/><stop offset="0.4235" stop-color="#ffec6d"/><stop offset="0.4704" stop-color="#fff97a"/><stop offset="0.5039" stop-color="#ffff80"/><stop offset="0.504" stop-color="#ffff80"/><stop offset="0.5369" stop-color="#fff97a"/><stop offset="0.5544" stop-color="#ffec6d"/><stop offset="0.5989" stop-color="#ffcc4d"/><stop offset="0.6359" stop-color="#ffa626"/><stop offset="0.6628" stop-color="#ff8000"/><stop offset="0.7127" stop-color="#ff4000"/><stop offset="0.7604" stop-color="#f00"/><stop offset="0.8343" stop-color="#ff8080"/><stop offset="0.905" stop-color="#00a810"/><stop offset="0.9816" stop-color="#00aaa5"/><stop offset="1" stop-color="#00a982"/></linearGradient><linearGradient id="g117"><stop offset="0" stop-color="#00a967"/><stop offset="0.0429" stop-color="#00a810"/><stop offset="0.1061" stop-color="#ff8080"/><stop offset="0.1747" stop-color="#f00"/><stop offset="0.2129" stop-color="#ff4000"/><stop offset="0.2552" stop-color="#ff8000"/><stop offset="0.2942" stop-color="#ffa626"/><stop offset="0.3511" stop-color="#ffcc4d"/><stop offset="0.4224" stop-color="#ffec6d"/><stop offset="0.4699" stop-color="#fff97a"/><stop offset="0.5039" stop-color="#ffff80"/><stop offset="0.504" stop-color="#ffff80"/><stop offset="0.5375" stop-color="#fff97a"/><stop offset="0.5553" stop-color="#ffec6d"/><stop offset="0.6004" stop-color="#ffcc4d"/><stop offset="0.6377" stop-color="#ffa626"/><stop offset="0.6648" stop-color="#ff8000"/><stop offset="0.715" stop-color="#ff4000"/><stop offset="0.7629" stop-color="#f00"/><stop offset="0.8372" stop-color="#ff8080"/><stop offset="0.9083" stop-color="#00a810"/><stop offset="0.9816" stop-color="#00aa9e"/><stop offset="1" stop-color="#00a97a"/></linearGradient><linearGradient id="g118"><stop offset="0" stop-color="#00a960"/><stop offset="0.03971" stop-color="#00a810"/><stop offset="0.1036" stop-color="#ff8080"/><stop offset="0.1724" stop-color="#f00"/><stop offset="0.2108" stop-color="#ff4000"/><stop offset="0.2533" stop-color="#ff8000"/><stop offset="0.2925" stop-color="#ffa626"/><stop offset="0.3495" stop-color="#ffcc4d"/><stop offset="0.4213" stop-color="#ffec6d"/><stop offset="0.4694" stop-color="#fff97a"/><stop offset="0.5039" stop-color="#ffff80"/><stop offset="0.504" stop-color="#ffff80"/><stop offset="0.5382" stop-color="#fff97a"/><stop offset="0.5562" stop-color="#ffec6d"/><stop offset="0.6018" stop-color="#ffcc4d"/><stop offset="0.6394" stop-color="#ffa626"/><stop offset="0.6669" stop-color="#ff8000"/><stop offset="0.7173" stop-color="#ff4000"/><stop offset="0.7655" stop-color="#f00"/><stop offset="0.8401" stop-color="#ff8080"/><stop offset="0.9116" stop-color="#00a810"/><stop offset="0.9816" stop-color="#00aa96"/><stop offset="1" stop-color="#00a973"/></linearGradient><linearGradient id="g119"><stop offset="0" stop-color="#00a959"/><stop offset="0.03649" stop-color="#00a810"/><stop offset="0.101" stop-color="#ff8080"/><stop offset="0.1701" stop-color="#f00"/><stop offset="0.2086" stop-color="#ff4000"/><stop offset="0.2514" stop-color="#ff8000"/><stop offset="0.2907" stop-color="#ffa626"/><stop offset="0.348" stop-color="#ffcc4d"/><stop offset="0.4202" stop-color="#ffec6d"/><stop offset="0.4689" stop-color="#fff97a"/><stop offset="0.5039" stop-color="#ffff80"/><stop offset="0.504" stop-color="#ffff80"/><stop offset="0.5389" stop-color="#fff97a"/><stop offset="0.5572" stop-color="#ffec6d"/><stop offset="0.6032" stop-color="#ffcc4d"/><stop offset="0.6411" stop-color="#ffa626"/><stop offset="0.6689" stop-color="#ff8000"/><stop offset="0.7197" stop-color="#ff4000"/><stop offset="0.7681" stop-color="#f00"/><stop offset="0.843" stop-color="#ff8080"/><stop offset="0.9148" stop-color="#00a810"/><stop offset="0.9816" stop-color="#00aa8f"/><stop offset="1" stop-color="#00a96c"/></linearGradient><linearGradient id="g120"><stop offset="0" stop-color="#00a952"/><stop offset="0.03326" stop-color="#00a810"/><stop offset="0.09841" stop-color="#ff8080"/><stop offset="0.1678" stop-color="#f00"/><stop offset="0.2065" stop-color="#ff4000"/><stop offset="0.2495" stop-color="#ff8000"/><stop offset="0.2889" stop-color="#ffa626"/><stop offset="0.3464" stop-color="#ffcc4d"/><stop offset="0.4191" stop-color="#ffec6d"/><stop offset="0.4684" stop-color="#fff97a"/><stop offset="0.5039" stop-color="#ffff80"/><stop offset="0.504" stop-color="#ffff80"/><stop offset="0.5396" stop-color="#fff97a"/><stop offset="0.5581" stop-color="#ffec6d"/><stop offset="0.6047" stop-color="#ffcc4d"/><stop offset="0.6429" stop-color="#ffa626"/><stop offset="0.671" stop-color="#ff8000"/><stop offset="0.722" stop-color="#ff4000"/><stop offset="0.7706" stop-color="#f00"/><stop offset="0.8459" stop-color="#ff8080"/><stop offset="0.9181" stop-color="#00a810"/><stop offset="0.9816" stop-color="#0a8"/><stop offset="1" stop-color="#00a965"/></linearGradient><linearGradient id="g121"><stop offset="0" stop-color="#00a94b"/><stop offset="0.03" stop-color="#00a810"/><stop offset="0.09583" stop-color="#ff8080"/><stop offset="0.1655" stop-color="#f00"/><stop offset="0.2043" stop-color="#ff4000"/><stop offset="0.2476" stop-color="#ff8000"/><stop offset="0.2871" stop-color="#ffa626"/><stop offset="0.3448" stop-color="#ffcc4d"/><stop offset="0.418" stop-color="#ffec6d"/><stop offset="0.4679" stop-color="#fff97a"/><stop offset="0.5039" stop-color="#ffff80"/><stop offset="0.504" stop-color="#ffff80"/><stop offset="0.5404" stop-color="#fff97a"/><stop offset="0.5591" stop-color="#ffec6d"/><stop offset="0.6061" stop-color="#ffcc4d"/><stop offset="0.6447" stop-color="#ffa626"/><stop offset="0.6731" stop-color="#ff8000"/><stop offset="0.7244" stop-color="#ff4000"/><stop offset="0.7732" stop-color="#f00"/><stop offset="0.8488" stop-color="#ff8080"/><stop offset="0.9213" stop-color="#00a810"/><stop offset="0.9816" stop-color="#00a980"/><stop offset="1" stop-color="#00a95e"/></linearGradient><linearGradient id="g122"><stop offset="0" stop-color="#00a944"/><stop offset="0.02672" stop-color="#00a810"/><stop offset="0.09326" stop-color="#ff8080"/><stop offset="0.1631" stop-color="#f00"/><stop offset="0.2022" stop-color="#ff4000"/><stop offset="0.2456" stop-color="#ff8000"/><stop offset="0.2854" stop-color="#ffa626"/><stop offset="0.3432" stop-color="#ffcc4d"/><stop offset="0.4169" stop-color="#ffec6d"/><stop offset="0.4674" stop-color="#fff97a"/><stop offset="0.5039" stop-color="#ffff80"/><stop offset="0.504" stop-color="#ffff80"/><stop offset="0.5411" stop-color="#fff97a"/><stop offset="0.5601" stop-color="#ffec6d"/><stop offset="0.6076" stop-color="#ffcc4d"/><stop offset="0.6464" stop-color="#ffa626"/><stop offset="0.6752" stop-color="#ff8000"/><stop offset="0.7268" stop-color="#ff4000"/><stop offset="0.7758" stop-color="#f00"/><stop offset="0.8518" stop-color="#ff8080"/><stop offset="0.9246" stop-color="#00a810"/><stop offset="0.9816" stop-color="#00a979"/><stop offset="1" stop-color="#00a957"/></linearGradient><linearGradient id="g123"><stop offset="0" stop-color="#00a93e"/><stop offset="0.02341" stop-color="#00a810"/><stop offset="0.09067" stop-color="#ff8080"/><stop offset="0.1608" stop-color="#f00"/><stop offset="0.2" stop-color="#ff4000"/><stop offset="0.2437" stop-color="#ff8000"/><stop offset="0.2836" stop-color="#ffa626"/><stop offset="0.3416" stop-color="#ffcc4d"/><stop offset="0.4158" stop-color="#ffec6d"/><stop offset="0.4669" stop-color="#fff97a"/><stop offset="0.5039" stop-color="#ffff80"/><stop offset="0.504" stop-color="#ffff80"/><stop offset="0.5419" stop-color="#fff97a"/><stop offset="0.5611" stop-color="#ffec6d"/><stop offset="0.609" stop-color="#ffcc4d"/><stop offset="0.6482" stop-color="#ffa626"/><stop offset="0.6773" stop-color="#ff8000"/><stop offset="0.7292" stop-color="#ff4000"/><stop offset="0.7785" stop-color="#f00"/><stop offset="0.8547" stop-color="#ff8080"/><stop offset="0.9279" stop-color="#00a810"/><stop offset="0.9816" stop-color="#00a972"/><stop offset="1" stop-color="#00a951"/></linearGradient><linearGradient id="g124"><stop offset="0" stop-color="#00a937"/><stop offset="0.02009" stop-color="#00a810"/><stop offset="0.08809" stop-color="#ff8080"/><stop offset="0.1584" stop-color="#f00"/><stop offset="0.1978" stop-color="#ff4000"/><stop offset="0.2417" stop-color="#ff8000"/><stop offset="0.2818" stop-color="#ffa626"/><stop offset="0.34" stop-color="#ffcc4d"/><stop offset="0.4146" stop-color="#ffec6d"/><stop offset="0.4664" stop-color="#fff97a"/><stop offset="0.5039" stop-color="#ffff80"/><stop offset="0.504" stop-color="#ffff80"/><stop offset="0.5426" stop-color="#fff97a"/><stop offset="0.5621" stop-color="#ffec6d"/><stop offset="0.6105" stop-color="#ffcc4d"/><stop offset="0.65" stop-color="#ffa626"/><stop offset="0.6795" stop-color="#ff8000"/><stop offset="0.7316" stop-color="#ff4000"/><stop offset="0.7811" stop-color="#f00"/><stop offset="0.8577" stop-color="#ff8080"/><stop offset="0.9311" stop-color="#00a810"/><stop offset="0.9816" stop-color="#00a96b"/><stop offset="1" stop-color="#00a94a"/></linearGradient><linearGradient id="g125"><stop offset="0" stop-color="#00a830"/><stop offset="0.01674" stop-color="#00a810"/><stop offset="0.08551" stop-color="#ff8080"/><stop offset="0.156" stop-color="#f00"/><stop offset="0.1956" stop-color="#ff4000"/><stop offset="0.2398" stop-color="#ff8000"/><stop offset="0.28" stop-color="#ffa626"/><stop offset="0.3384" stop-color="#ffcc4d"/><stop offset="0.4135" stop-color="#ffec6d"/><stop offset="0.4658" stop-color="#fff97a"/><stop offset="0.5039" stop-color="#ffff80"/><stop offset="0.504" stop-color="#ffff80"/><stop offset="0.5434" stop-color="#fff97a"/><stop offset="0.5631" stop-color="#ffec6d"/><stop offset="0.612" stop-color="#ffcc4d"/><stop offset="0.6519" stop-color="#ffa626"/><stop offset="0.6816" stop-color="#ff8000"/><stop offset="0.734" stop-color="#ff4000"/><stop offset="0.7837" stop-color="#f00"/><stop offset="0.8606" stop-color="#ff8080"/><stop offset="0.9343" stop-color="#00a810"/><stop offset="0.9816" stop-color="#00a964"/><stop offset="1" stop-color="#00a944"/></linearGradient><linearGradient id="g126"><stop offset="0" stop-color="#00a82a"/><stop offset="0.01337" stop-color="#00a810"/><stop offset="0.08292" stop-color="#ff8080"/><stop offset="0.1536" stop-color="#f00"/><stop offset="0.1934" stop-color="#ff4000"/><stop offset="0.2378" stop-color="#ff8000"/><stop offset="0.2782" stop-color="#ffa626"/><stop offset="0.3368" stop-color="#ffcc4d"/><stop offset="0.4123" stop-color="#ffec6d"/><stop offset="0.4653" stop-color="#fff97a"/><stop offset="0.5039" stop-color="#ffff80"/><stop offset="0.504" stop-color="#ffff80"/><stop offset="0.5442" stop-color="#fff97a"/><stop offset="0.5641" stop-color="#ffec6d"/><stop offset="0.6135" stop-color="#ffcc4d"/><stop offset="0.6537" stop-color="#ffa626"/><stop offset="0.6838" stop-color="#ff8000"/><stop offset="0.7365" stop-color="#ff4000"/><stop offset="0.7864" stop-color="#f00"/><stop offset="0.8636" stop-color="#ff8080"/><stop offset="0.9376" stop-color="#00a810"/><stop offset="0.9816" stop-color="#00a95e"/><stop offset="1" stop-color="#00a93d"/></linearGradient><linearGradient id="g127"><stop offset="0" stop-color="#00a823"/><stop offset="0.009969" stop-color="#00a810"/><stop offset="0.08033" stop-color="#ff8080"/><stop offset="0.1512" stop-color="#f00"/><stop offset="0.1912" stop-color="#ff4000"/><stop offset="0.2359" stop-color="#ff8000"/><stop offset="0.2764" stop-color="#ffa626"/><stop offset="0.3352" stop-color="#ffcc4d"/><stop offset="0.4111" stop-color="#ffec6d"/><stop offset="0.4647" stop-color="#fff97a"/><stop offset="0.5039" stop-color="#ffff80"/><stop offset="0.504" stop-color="#ffff80"/><stop offset="0.545" stop-color="#fff97a"/><stop offset="0.5651" stop-color="#ffec6d"/><stop offset="0.615" stop-color="#ffcc4d"/><stop offset="0.6555" stop-color="#ffa626"/><stop offset="0.686" stop-color="#ff8000"/><stop offset="0.739" stop-color="#ff4000"/><stop offset="0.789" stop-color="#f00"/><stop offset="0.8666" stop-color="#ff8080"/><stop offset="0.9408" stop-color="#00a810"/><stop offset="0.9816" stop-color="#00a957"/><stop offset="1" stop-color="#00a937"/></linearGradient><linearGradient id="g128"><stop offset="0" stop-color="#00a81c"/><stop offset="0.00655" stop-color="#00a810"/><stop offset="0.07775" stop-color="#ff8080"/><stop offset="0.1488" stop-color="#f00"/><stop offset="0.189" stop-color="#ff4000"/><stop offset="0.2339" stop-color="#ff8000"/><stop offset="0.2746" stop-color="#ffa626"/><stop offset="0.3336" stop-color="#ffcc4d"/><stop offset="0.4099" stop-color="#ffec6d"/><stop offset="0.4642" stop-color="#fff97a"/><stop offset="0.5039" stop-color="#ffff80"/><stop offset="0.504" stop-color="#ffff80"/><stop offset="0.5458" stop-color="#fff97a"/><stop offset="0.5662" stop-color="#ffec6d"/><stop offset="0.6165" stop-color="#ffcc4d"/><stop offset="0.6574" stop-color="#ffa626"/><stop offset="0.6882" stop-color="#ff8000"/><stop offset="0.7414" stop-color="#ff4000"/><stop offset="0.7917" stop-color="#f00"/><stop offset="0.8696" stop-color="#ff8080"/><stop offset="0.944" stop-color="#00a810"/><stop offset="0.9816" stop-color="#00a951"/><stop offset="1" stop-color="#00a831"/></linearGradient><linearGradient id="g129"><stop offset="0" stop-color="#00a816"/><stop offset="0.003106" stop-color="#00a810"/><stop offset="0.07516" stop-color="#ff8080"/><stop offset="0.1464" stop-color="#f00"/><stop offset="0.1868" stop-color="#ff4000"/><stop offset="0.2319" stop-color="#ff8000"/><stop offset="0.2727" stop-color="#ffa626"/><stop offset="0.3319" stop-color="#ffcc4d"/><stop offset="0.4087" stop-color="#ffec6d"/><stop offset="0.4636" stop-color="#fff97a"/><stop offset="0.5039" stop-color="#ffff80"/><stop offset="0.504" stop-color="#ffff80"/><stop offset="0.5466" stop-color="#fff97a"/><stop offset="0.5672" stop-color="#ffec6d"/><stop offset="0.618" stop-color="#ffcc4d"/><stop offset="0.6592" stop-color="#ffa626"/><stop offset="0.6905" stop-color="#ff8000"/><stop offset="0.7439" stop-color="#ff4000"/><stop offset="0.7944" stop-color="#f00"/><stop offset="0.8726" stop-color="#ff8080"/><stop offset="0.9473" stop-color="#00a810"/><stop offset="0.9816" stop-color="#00a94a"/><stop offset="1" stop-color="#00a82b"/></linearGradient><linearGradient id="g130"><stop offset="0" stop-color="#01a811"/><stop offset="0.07257" stop-color="#ff8080"/><stop offset="0.1439" stop-color="#f00"/><stop offset="0.1845" stop-color="#ff4000"/><stop offset="0.2299" stop-color="#ff8000"/><stop offset="0.2709" stop-color="#ffa626"/><stop offset="0.3303" stop-color="#ffcc4d"/><stop offset="0.4075" stop-color="#ffec6d"/><stop offset="0.463" stop-color="#fff97a"/><stop offset="0.5039" stop-color="#ffff80"/><stop offset="0.504" stop-color="#ffff80"/><stop offset="0.5474" stop-color="#fff97a"/><stop offset="0.5683" stop-color="#ffec6d"/><stop offset="0.6195" stop-color="#ffcc4d"/><stop offset="0.6611" stop-color="#ffa626"/><stop offset="0.6927" stop-color="#ff8000"/><stop offset="0.7465" stop-color="#ff4000"/><stop offset="0.7971" stop-color="#f00"/><stop offset="0.8756" stop-color="#ff8080"/><stop offset="0.9505" stop-color="#00a810"/><stop offset="0.9816" stop-color="#00a944"/><stop offset="1" stop-color="#00a825"/></linearGradient><linearGradient id="g131"><stop offset="0" stop-color="#0da616"/><stop offset="0.06998" stop-color="#ff8080"/><stop offset="0.1414" stop-color="#f00"/><stop offset="0.1823" stop-color="#ff4000"/><stop offset="0.2279" stop-color="#ff8000"/><stop offset="0.2691" stop-color="#ffa626"/><stop offset="0.3287" stop-color="#ffcc4d"/><stop offset="0.4063" stop-color="#ffec6d"/><stop offset="0.4624" stop-color="#fff97a"/><stop offset="0.5039" stop-color="#ffff80"/><stop offset="0.504" stop-color="#ffff80"/><stop offset="0.5482" stop-color="#fff97a"/><stop offset="0.5693" stop-color="#ffec6d"/><stop offset="0.6211" stop-color="#ffcc4d"/><stop offset="0.663" stop-color="#ffa626"/><stop offset="0.695" stop-color="#ff8000"/><stop offset="0.749" stop-color="#ff4000"/><stop offset="0.7998" stop-color="#f00"/><stop offset="0.8786" stop-color="#ff8080"/><stop offset="0.9537" stop-color="#00a810"/><stop offset="0.9816" stop-color="#00a93e"/><stop offset="1" stop-color="#00a820"/></linearGradient><linearGradient id="g132"><stop offset="0" stop-color="#19a41b"/><stop offset="0.0674" stop-color="#ff8080"/><stop offset="0.1389" stop-color="#f00"/><stop offset="0.1801" stop-color="#ff4000"/><stop offset="0.2259" stop-color="#ff8000"/><stop offset="0.2672" stop-color="#ffa626"/><stop offset="0.327" stop-color="#ffcc4d"/><stop offset="0.4051" stop-color="#ffec6d"/><stop offset="0.4619" stop-color="#fff97a"/><stop offset="0.5039" stop-color="#ffff80"/><stop offset="0.504" stop-color="#ffff80"/><stop offset="0.5491" stop-color="#fff97a"/><stop offset="0.5704" stop-color="#ffec6d"/><stop offset="0.6226" stop-color="#ffcc4d"/><stop offset="0.6649" stop-color="#ffa626"/><stop offset="0.6973" stop-color="#ff8000"/><stop offset="0.7515" stop-color="#ff4000"/><stop offset="0.8025" stop-color="#f00"/><stop offset="0.8816" stop-color="#ff8080"/><stop offset="0.9568" stop-color="#00a810"/><stop offset="0.9816" stop-color="#00a938"/><stop offset="1" stop-color="#00a81a"/></linearGradient><linearGradient id="g133"><stop offset="0" stop-color="#25a220"/><stop offset="0.06481" stop-color="#ff8080"/><stop offset="0.1364" stop-color="#f00"/><stop offset="0.1778" stop-color="#ff4000"/><stop offset="0.2239" stop-color="#ff8000"/><stop offset="0.2654" stop-color="#ffa626"/><stop offset="0.3253" stop-color="#ffcc4d"/><stop offset="0.4039" stop-color="#ffec6d"/><stop offset="0.4613" stop-color="#fff97a"/><stop offset="0.5039" stop-color="#ffff80"/><stop offset="0.504" stop-color="#ffff80"/><stop offset="0.55" stop-color="#fff97a"/><stop offset="0.5715" stop-color="#ffec6d"/><stop offset="0.6242" stop-color="#ffcc4d"/><stop offset="0.6668" stop-color="#ffa626"/><stop offset="0.6996" stop-color="#ff8000"/><stop offset="0.7541" stop-color="#ff4000"/><stop offset="0.8052" stop-color="#f00"/><stop offset="0.8846" stop-color="#ff8080"/><stop offset="0.96" stop-color="#00a810"/><stop offset="0.9816" stop-color="#00a833"/><stop offset="1" stop-color="#00a815"/></linearGradient><linearGradient id="g134"><stop offset="0" stop-color="#30a025"/><stop offset="0.06223" stop-color="#ff8080"/><stop offset="0.1339" stop-color="#f00"/><stop offset="0.1755" stop-color="#ff4000"/><stop offset="0.2219" stop-color="#ff8000"/><stop offset="0.2635" stop-color="#ffa626"/><stop offset="0.3237" stop-color="#ffcc4d"/><stop offset="0.4026" stop-color="#ffec6d"/><stop offset="0.4606" stop-color="#fff97a"/><stop offset="0.5039" stop-color="#ffff80"/><stop offset="0.504" stop-color="#ffff80"/><stop offset="0.5508" stop-color="#fff97a"/><stop offset="0.5726" stop-color="#ffec6d"/><stop offset="0.6257" stop-color="#ffcc4d"/><stop offset="0.6687" stop-color="#ffa626"/><stop offset="0.702" stop-color="#ff8000"/><stop offset="0.7567" stop-color="#ff4000"/><stop offset="0.8079" stop-color="#f00"/><stop offset="0.8877" stop-color="#ff8080"/><stop offset="0.9632" stop-color="#00a810"/><stop offset="0.9816" stop-color="#00a82d"/><stop offset="1" stop-color="#00a810"/></linearGradient><linearGradient id="g135"><stop offset="0" stop-color="#3b9f2a"/><stop offset="0.05965" stop-color="#ff8080"/><stop offset="0.1314" stop-color="#f00"/><stop offset="0.1733" stop-color="#ff4000"/><stop offset="0.2199" stop-color="#ff8000"/><stop offset="0.2617" stop-color="#ffa626"/><stop offset="0.322" stop-color="#ffcc4d"/><stop offset="0.4013" stop-color="#ffec6d"/><stop offset="0.46" stop-color="#fff97a"/><stop offset="0.5039" stop-color="#ffff80"/><stop offset="0.504" stop-color="#ffff80"/><stop offset="0.5517" stop-color="#fff97a"/><stop offset="0.5737" stop-color="#ffec6d"/><stop offset="0.6273" stop-color="#ffcc4d"/><stop offset="0.6706" stop-color="#ffa626"/><stop offset="0.7043" stop-color="#ff8000"/><stop offset="0.7592" stop-color="#ff4000"/><stop offset="0.8107" stop-color="#f00"/><stop offset="0.8907" stop-color="#ff8080"/><stop offset="0.9663" stop-color="#00a810"/><stop offset="0.9816" stop-color="#00a828"/><stop offset="0.9969" stop-color="#00a810"/><stop offset="1" stop-color="#0aa615"/></linearGradient><linearGradient id="g136"><stop offset="0" stop-color="#469d2f"/><stop offset="0.05707" stop-color="#ff8080"/><stop offset="0.1288" stop-color="#f00"/><stop offset="0.171" stop-color="#ff4000"/><stop offset="0.2179" stop-color="#ff8000"/><stop offset="0.2598" stop-color="#ffa626"/><stop offset="0.3203" stop-color="#ffcc4d"/><stop offset="0.4001" stop-color="#ffec6d"/><stop offset="0.4594" stop-color="#fff97a"/><stop offset="0.5039" stop-color="#ffff80"/><stop offset="0.504" stop-color="#ffff80"/><stop offset="0.5526" stop-color="#fff97a"/><stop offset="0.5749" stop-color="#ffec6d"/><stop offset="0.6289" stop-color="#ffcc4d"/><stop offset="0.6726" stop-color="#ffa626"/><stop offset="0.7067" stop-color="#ff8000"/><stop offset="0.7618" stop-color="#ff4000"/><stop offset="0.8134" stop-color="#f00"/><stop offset="0.8938" stop-color="#ff8080"/><stop offset="0.9695" stop-color="#00a810"/><stop offset="0.9816" stop-color="#00a823"/><stop offset="0.9938" stop-color="#00a810"/><stop offset="1" stop-color="#15a519"/></linearGradient><linearGradient id="g137"><stop offset="0" stop-color="#519b34"/><stop offset="0.05449" stop-color="#ff8080"/><stop offset="0.1263" stop-color="#f00"/><stop offset="0.1687" stop-color="#ff4000"/><stop offset="0.2159" stop-color="#ff8000"/><stop offset="0.2579" stop-color="#ffa626"/><stop offset="0.3186" stop-color="#ffcc4d"/><stop offset="0.3988" stop-color="#ffec6d"/><stop offset="0.4588" stop-color="#fff97a"/><stop offset="0.5039" stop-color="#ffff80"/><stop offset="0.504" stop-color="#ffff80"/><stop offset="0.5535" stop-color="#fff97a"/><stop offset="0.576" stop-color="#ffec6d"/><stop offset="0.6304" stop-color="#ffcc4d"/><stop offset="0.6745" stop-color="#ffa626"/><stop offset="0.7091" stop-color="#ff8000"/><stop offset="0.7645" stop-color="#ff4000"/><stop offset="0.8162" stop-color="#f00"/><stop offset="0.8968" stop-color="#ff8080"/><stop offset="0.9726" stop-color="#00a810"/><stop offset="0.9816" stop-color="#00a81e"/><stop offset="0.9907" stop-color="#00a810"/><stop offset="1" stop-color="#1fa31e"/></linearGradient><linearGradient id="g138"><stop offset="0" stop-color="#5b9a38"/><stop offset="0.05191" stop-color="#ff8080"/><stop offset="0.1237" stop-color="#f00"/><stop offset="0.1664" stop-color="#ff4000"/><stop offset="0.2138" stop-color="#ff8000"/><stop offset="0.2561" stop-color="#ffa626"/><stop offset="0.3169" stop-color="#ffcc4d"/><stop offset="0.3975" stop-color="#ffec6d"/><stop offset="0.4581" stop-color="#fff97a"/><stop offset="0.5039" stop-color="#ffff80"/><stop offset="0.504" stop-color="#ffff80"/><stop offset="0.5544" stop-color="#fff97a"/><stop offset="0.5771" stop-color="#ffec6d"/><stop offset="0.632" stop-color="#ffcc4d"/><stop offset="0.6765" stop-color="#ffa626"/><stop offset="0.7115" stop-color="#ff8000"/><stop offset="0.7671" stop-color="#ff4000"/><stop offset="0.819" stop-color="#f00"/><stop offset="0.8999" stop-color="#ff8080"/><stop offset="0.9757" stop-color="#00a810"/><stop offset="0.9816" stop-color="#00a819"/><stop offset="0.9876" stop-color="#00a810"/><stop offset="1" stop-color="#2aa122"/></linearGradient><linearGradient id="g139"><stop offset="0" stop-color="#66983d"/><stop offset="0.04934" stop-color="#ff8080"/><stop offset="0.1211" stop-color="#f00"/><stop offset="0.1641" stop-color="#ff4000"/><stop offset="0.2118" stop-color="#ff8000"/><stop offset="0.2542" stop-color="#ffa626"/><stop offset="0.3152" stop-color="#ffcc4d"/><stop offset="0.3962" stop-color="#ffec6d"/><stop offset="0.4575" stop-color="#fff97a"/><stop offset="0.5039" stop-color="#ffff80"/><stop offset="0.504" stop-color="#ffff80"/><stop offset="0.5554" stop-color="#fff97a"/><stop offset="0.5783" stop-color="#ffec6d"/><stop offset="0.6336" stop-color="#ffcc4d"/><stop offset="0.6785" stop-color="#ffa626"/><stop offset="0.7139" stop-color="#ff8000"/><stop offset="0.7697" stop-color="#ff4000"/><stop offset="0.8217" stop-color="#f00"/><stop offset="0.903" stop-color="#ff8080"/><stop offset="0.9788" stop-color="#00a810"/><stop offset="0.9816" stop-color="#00a814"/><stop offset="0.9845" stop-color="#00a810"/><stop offset="1" stop-color="#34a027"/></linearGradient><linearGradient id="g140"><stop offset="0" stop-color="#709741"/><stop offset="0.04678" stop-color="#ff8080"/><stop offset="0.1185" stop-color="#f00"/><stop offset="0.1618" stop-color="#ff4000"/><stop offset="0.2098" stop-color="#ff8000"/><stop offset="0.2523" stop-color="#ffa626"/><stop offset="0.3135" stop-color="#ffcc4d"/><stop offset="0.3949" stop-color="#ffec6d"/><stop offset="0.4568" stop-color="#fff97a"/><stop offset="0.5039" stop-color="#ffff80"/><stop offset="0.504" stop-color="#ffff80"/><stop offset="0.5563" stop-color="#fff97a"/><stop offset="0.5795" stop-color="#ffec6d"/><stop offset="0.6352" stop-color="#ffcc4d"/><stop offset="0.6804" stop-color="#ffa626"/><stop offset="0.7164" stop-color="#ff8000"/><stop offset="0.7724" stop-color="#ff4000"/><stop offset="0.8245" stop-color="#f00"/><stop offset="0.906" stop-color="#ff8080"/><stop offset="0.9816" stop-color="#01a810"/><stop offset="1" stop-color="#3f9e2b"/></linearGradient><linearGradient id="g141"><stop offset="0" stop-color="#799545"/><stop offset="0.04421" stop-color="#ff8080"/><stop offset="0.1159" stop-color="#f00"/><stop offset="0.1595" stop-color="#ff4000"/><stop offset="0.2077" stop-color="#ff8000"/><stop offset="0.2504" stop-color="#ffa626"/><stop offset="0.3118" stop-color="#ffcc4d"/><stop offset="0.3936" stop-color="#ffec6d"/><stop offset="0.4561" stop-color="#fff97a"/><stop offset="0.5039" stop-color="#ffff80"/><stop offset="0.504" stop-color="#ffff80"/><stop offset="0.5573" stop-color="#fff97a"/><stop offset="0.5806" stop-color="#ffec6d"/><stop offset="0.6368" stop-color="#ffcc4d"/><stop offset="0.6824" stop-color="#ffa626"/><stop offset="0.7188" stop-color="#ff8000"/><stop offset="0.7751" stop-color="#ff4000"/><stop offset="0.8273" stop-color="#f00"/><stop offset="0.9091" stop-color="#ff8080"/><stop offset="0.9816" stop-color="#0ba615"/><stop offset="1" stop-color="#499d30"/></linearGradient><linearGradient id="g142"><stop offset="0" stop-color="#839349"/><stop offset="0.04165" stop-color="#ff8080"/><stop offset="0.1132" stop-color="#f00"/><stop offset="0.1571" stop-color="#ff4000"/><stop offset="0.2056" stop-color="#ff8000"/><stop offset="0.2485" stop-color="#ffa626"/><stop offset="0.3101" stop-color="#ffcc4d"/><stop offset="0.3922" stop-color="#ffec6d"/><stop offset="0.4555" stop-color="#fff97a"/><stop offset="0.5039" stop-color="#ffff80"/><stop offset="0.504" stop-color="#ffff80"/><stop offset="0.5582" stop-color="#fff97a"/><stop offset="0.5818" stop-color="#ffec6d"/><stop offset="0.6385" stop-color="#ffcc4d"/><stop offset="0.6845" stop-color="#ffa626"/><stop offset="0.7213" stop-color="#ff8000"/><stop offset="0.7777" stop-color="#ff4000"/><stop offset="0.8301" stop-color="#f00"/><stop offset="0.9122" stop-color="#ff8080"/><stop offset="0.9816" stop-color="#15a519"/><stop offset="1" stop-color="#539b34"/></linearGradient><linearGradient id="g143"><stop offset="0" stop-color="#8c924e"/><stop offset="0.0391" stop-color="#ff8080"/><stop offset="0.1106" stop-color="#f00"/><stop offset="0.1548" stop-color="#ff4000"/><stop offset="0.2036" stop-color="#ff8000"/><stop offset="0.2466" stop-color="#ffa626"/><stop offset="0.3083" stop-color="#ffcc4d"/><stop offset="0.3909" stop-color="#ffec6d"/><stop offset="0.4548" stop-color="#fff97a"/><stop offset="0.5039" stop-color="#ffff80"/><stop offset="0.504" stop-color="#ffff80"/><stop offset="0.5592" stop-color="#fff97a"/><stop offset="0.583" stop-color="#ffec6d"/><stop offset="0.6401" stop-color="#ffcc4d"/><stop offset="0.6865" stop-color="#ffa626"/><stop offset="0.7238" stop-color="#ff8000"/><stop offset="0.7804" stop-color="#ff4000"/><stop offset="0.8329" stop-color="#f00"/><stop offset="0.9153" stop-color="#ff8080"/><stop offset="0.9816" stop-color="#1fa31e"/><stop offset="1" stop-color="#5d9939"/></linearGradient><linearGradient id="g144"><stop offset="0" stop-color="#959152"/><stop offset="0.03653" stop-color="#ff8080"/><stop offset="0.1079" stop-color="#f00"/><stop offset="0.1525" stop-color="#ff4000"/><stop offset="0.2015" stop-color="#ff8000"/><stop offset="0.2447" stop-color="#ffa626"/><stop offset="0.3066" stop-color="#ffcc4d"/><stop offset="0.3895" stop-color="#ffec6d"/><stop offset="0.4541" stop-color="#fff97a"/><stop offset="0.5039" stop-color="#ffff80"/><stop offset="0.504" stop-color="#ffff80"/><stop offset="0.5602" stop-color="#fff97a"/><stop offset="0.5842" stop-color="#ffec6d"/><stop offset="0.6417" stop-color="#ffcc4d"/><stop offset="0.6885" stop-color="#ffa626"/><stop offset="0.7263" stop-color="#ff8000"/><stop offset="0.7831" stop-color="#ff4000"/><stop offset="0.8358" stop-color="#f00"/><stop offset="0.9184" stop-color="#ff8080"/><stop offset="0.9816" stop-color="#2aa122"/><stop offset="1" stop-color="#68983e"/></linearGradient><linearGradient id="g145"><stop offset="0" stop-color="#9e8f55"/><stop offset="0.03395" stop-color="#ff8080"/><stop offset="0.1052" stop-color="#f00"/><stop offset="0.1501" stop-color="#ff4000"/><stop offset="0.1994" stop-color="#ff8000"/><stop offset="0.2428" stop-color="#ffa626"/><stop offset="0.3049" stop-color="#ffcc4d"/><stop offset="0.3882" stop-color="#ffec6d"/><stop offset="0.4534" stop-color="#fff97a"/><stop offset="0.5039" stop-color="#ffff80"/><stop offset="0.504" stop-color="#ffff80"/><stop offset="0.5612" stop-color="#fff97a"/><stop offset="0.5854" stop-color="#ffec6d"/><stop offset="0.6434" stop-color="#ffcc4d"/><stop offset="0.6905" stop-color="#ffa626"/><stop offset="0.7289" stop-color="#ff8000"/><stop offset="0.7859" stop-color="#ff4000"/><stop offset="0.8386" stop-color="#f00"/><stop offset="0.9215" stop-color="#ff8080"/><stop offset="0.9816" stop-color="#34a027"/><stop offset="1" stop-color="#729642"/></linearGradient><linearGradient id="g146"><stop offset="0" stop-color="#a78e59"/><stop offset="0.03135" stop-color="#ff8080"/><stop offset="0.1025" stop-color="#f00"/><stop offset="0.1477" stop-color="#ff4000"/><stop offset="0.1974" stop-color="#ff8000"/><stop offset="0.2409" stop-color="#ffa626"/><stop offset="0.3031" stop-color="#ffcc4d"/><stop offset="0.3868" stop-color="#ffec6d"/><stop offset="0.4526" stop-color="#fff97a"/><stop offset="0.5039" stop-color="#ffff80"/><stop offset="0.504" stop-color="#ffff80"/><stop offset="0.5622" stop-color="#fff97a"/><stop offset="0.5867" stop-color="#ffec6d"/><stop offset="0.645" stop-color="#ffcc4d"/><stop offset="0.6926" stop-color="#ffa626"/><stop offset="0.7314" stop-color="#ff8000"/><stop offset="0.7886" stop-color="#ff4000"/><stop offset="0.8414" stop-color="#f00"/><stop offset="0.9246" stop-color="#ff8080"/><stop offset="0.9816" stop-color="#3e9e2b"/><stop offset="1" stop-color="#7c9447"/></linearGradient><linearGradient id="g147"><stop offset="0" stop-color="#af8d5d"/><stop offset="0.02874" stop-color="#ff8080"/><stop offset="0.09976" stop-color="#f00"/><stop offset="0.1454" stop-color="#ff4000"/><stop offset="0.1953" stop-color="#ff8000"/><stop offset="0.2389" stop-color="#ffa626"/><stop offset="0.3014" stop-color="#ffcc4d"/><stop offset="0.3854" stop-color="#ffec6d"/><stop offset="0.4519" stop-color="#fff97a"/><stop offset="0.5039" stop-color="#ffff80"/><stop offset="0.504" stop-color="#ffff80"/><stop offset="0.5633" stop-color="#fff97a"/><stop offset="0.5879" stop-color="#ffec6d"/><stop offset="0.6467" stop-color="#ffcc4d"/><stop offset="0.6947" stop-color="#ffa626"/><stop offset="0.734" stop-color="#ff8000"/><stop offset="0.7914" stop-color="#ff4000"/><stop offset="0.8443" stop-color="#f00"/><stop offset="0.9278" stop-color="#ff8080"/><stop offset="0.9816" stop-color="#499d30"/><stop offset="1" stop-color="#87934b"/></linearGradient><linearGradient id="g148"><stop offset="0" stop-color="#b88b61"/><stop offset="0.02612" stop-color="#ff8080"/><stop offset="0.09702" stop-color="#f00"/><stop offset="0.143" stop-color="#ff4000"/><stop offset="0.1932" stop-color="#ff8000"/><stop offset="0.237" stop-color="#ffa626"/><stop offset="0.2996" stop-color="#ffcc4d"/><stop offset="0.384" stop-color="#ffec6d"/><stop offset="0.4512" stop-color="#fff97a"/><stop offset="0.5039" stop-color="#ffff80"/><stop offset="0.504" stop-color="#ffff80"/><stop offset="0.5643" stop-color="#fff97a"/><stop offset="0.5891" stop-color="#ffec6d"/><stop offset="0.6483" stop-color="#ffcc4d"/><stop offset="0.6967" stop-color="#ffa626"/><stop offset="0.7366" stop-color="#ff8000"/><stop offset="0.7941" stop-color="#ff4000"/><stop offset="0.8471" stop-color="#f00"/><stop offset="0.9309" stop-color="#ff8080"/><stop offset="0.9816" stop-color="#539b35"/><stop offset="1" stop-color="#919150"/></linearGradient><linearGradient id="g149"><stop offset="0" stop-color="#c08a64"/><stop offset="0.02348" stop-color="#ff8080"/><stop offset="0.09425" stop-color="#f00"/><stop offset="0.1406" stop-color="#ff4000"/><stop offset="0.1911" stop-color="#ff8000"/><stop offset="0.235" stop-color="#ffa626"/><stop offset="0.2978" stop-color="#ffcc4d"/><stop offset="0.3826" stop-color="#ffec6d"/><stop offset="0.4504" stop-color="#fff97a"/><stop offset="0.5039" stop-color="#ffff80"/><stop offset="0.504" stop-color="#ffff80"/><stop offset="0.5654" stop-color="#fff97a"/><stop offset="0.5904" stop-color="#ffec6d"/><stop offset="0.65" stop-color="#ffcc4d"/><stop offset="0.6988" stop-color="#ffa626"/><stop offset="0.7392" stop-color="#ff8000"/><stop offset="0.7969" stop-color="#ff4000"/><stop offset="0.85" stop-color="#f00"/><stop offset="0.934" stop-color="#ff8080"/><stop offset="0.9816" stop-color="#5e9939"/><stop offset="1" stop-color="#9c9055"/></linearGradient><linearGradient id="g150"><stop offset="0" stop-color="#c88968"/><stop offset="0.02083" stop-color="#ff8080"/><stop offset="0.09147" stop-color="#f00"/><stop offset="0.1382" stop-color="#ff4000"/><stop offset="0.189" stop-color="#ff8000"/><stop offset="0.2331" stop-color="#ffa626"/><stop offset="0.2961" stop-color="#ffcc4d"/><stop offset="0.3812" stop-color="#ffec6d"/><stop offset="0.4496" stop-color="#fff97a"/><stop offset="0.5039" stop-color="#ffff80"/><stop offset="0.504" stop-color="#ffff80"/><stop offset="0.5664" stop-color="#fff97a"/><stop offset="0.5917" stop-color="#ffec6d"/><stop offset="0.6517" stop-color="#ffcc4d"/><stop offset="0.7009" stop-color="#ffa626"/><stop offset="0.7418" stop-color="#ff8000"/><stop offset="0.7997" stop-color="#ff4000"/><stop offset="0.8528" stop-color="#f00"/><stop offset="0.9371" stop-color="#ff8080"/><stop offset="0.9816" stop-color="#69983e"/><stop offset="1" stop-color="#a78e59"/></linearGradient><linearGradient id="g151"><stop offset="0" stop-color="#cf876b"/><stop offset="0.01816" stop-color="#ff8080"/><stop offset="0.08868" stop-color="#f00"/><stop offset="0.1358" stop-color="#ff4000"/><stop offset="0.1868" stop-color="#ff8000"/><stop offset="0.2311" stop-color="#ffa626"/><stop offset="0.2943" stop-color="#ffcc4d"/><stop offset="0.3798" stop-color="#ffec6d"/><stop offset="0.4489" stop-color="#fff97a"/><stop offset="0.5039" stop-color="#ffff80"/><stop offset="0.504" stop-color="#ffff80"/><stop offset="0.5675" stop-color="#fff97a"/><stop offset="0.5929" stop-color="#ffec6d"/><stop offset="0.6534" stop-color="#ffcc4d"/><stop offset="0.703" stop-color="#ffa626"/><stop offset="0.7444" stop-color="#ff8000"/><stop offset="0.8025" stop-color="#ff4000"/><stop offset="0.8557" stop-color="#f00"/><stop offset="0.9403" stop-color="#ff8080"/><stop offset="0.9816" stop-color="#739643"/><stop offset="1" stop-color="#b18c5e"/></linearGradient><linearGradient id="g152"><stop offset="0" stop-color="#d7866e"/><stop offset="0.01547" stop-color="#ff8080"/><stop offset="0.08586" stop-color="#f00"/><stop offset="0.1334" stop-color="#ff4000"/><stop offset="0.1847" stop-color="#ff8000"/><stop offset="0.2292" stop-color="#ffa626"/><stop offset="0.2925" stop-color="#ffcc4d"/><stop offset="0.3784" stop-color="#ffec6d"/><stop offset="0.4481" stop-color="#fff97a"/><stop offset="0.5039" stop-color="#ffff80"/><stop offset="0.504" stop-color="#ffff80"/><stop offset="0.5686" stop-color="#fff97a"/><stop offset="0.5942" stop-color="#ffec6d"/><stop offset="0.6551" stop-color="#ffcc4d"/><stop offset="0.7052" stop-color="#ffa626"/><stop offset="0.7471" stop-color="#ff8000"/><stop offset="0.8053" stop-color="#ff4000"/><stop offset="0.8586" stop-color="#f00"/><stop offset="0.9434" stop-color="#ff8080"/><stop offset="0.9816" stop-color="#7e9447"/><stop offset="1" stop-color="#bc8b63"/></linearGradient><linearGradient id="g153"><stop offset="0" stop-color="#de8572"/><stop offset="0.01278" stop-color="#ff8080"/><stop offset="0.08303" stop-color="#f00"/><stop offset="0.131" stop-color="#ff4000"/><stop offset="0.1826" stop-color="#ff8000"/><stop offset="0.2272" stop-color="#ffa626"/><stop offset="0.2907" stop-color="#ffcc4d"/><stop offset="0.377" stop-color="#ffec6d"/><stop offset="0.4473" stop-color="#fff97a"/><stop offset="0.5039" stop-color="#ffff80"/><stop offset="0.504" stop-color="#ffff80"/><stop offset="0.5697" stop-color="#fff97a"/><stop offset="0.5955" stop-color="#ffec6d"/><stop offset="0.6568" stop-color="#ffcc4d"/><stop offset="0.7073" stop-color="#ffa626"/><stop offset="0.7497" stop-color="#ff8000"/><stop offset="0.8081" stop-color="#ff4000"/><stop offset="0.8615" stop-color="#f00"/><stop offset="0.9466" stop-color="#ff8080"/><stop offset="0.9816" stop-color="#89934c"/><stop offset="1" stop-color="#c78967"/></linearGradient><linearGradient id="g154"><stop offset="0" stop-color="#e68475"/><stop offset="0.01006" stop-color="#ff8080"/><stop offset="0.08017" stop-color="#f00"/><stop offset="0.1286" stop-color="#ff4000"/><stop offset="0.1804" stop-color="#ff8000"/><stop offset="0.2252" stop-color="#ffa626"/><stop offset="0.2889" stop-color="#ffcc4d"/><stop offset="0.3755" stop-color="#ffec6d"/><stop offset="0.4465" stop-color="#fff97a"/><stop offset="0.5039" stop-color="#ffff80"/><stop offset="0.504" stop-color="#ffff80"/><stop offset="0.5708" stop-color="#fff97a"/><stop offset="0.5968" stop-color="#ffec6d"/><stop offset="0.6585" stop-color="#ffcc4d"/><stop offset="0.7094" stop-color="#ffa626"/><stop offset="0.7524" stop-color="#ff8000"/><stop offset="0.8109" stop-color="#ff4000"/><stop offset="0.8644" stop-color="#f00"/><stop offset="0.9498" stop-color="#ff8080"/><stop offset="0.9816" stop-color="#939151"/><stop offset="1" stop-color="#d1876c"/></linearGradient><linearGradient id="g155"><stop offset="0" stop-color="#ed8378"/><stop offset="0.007335" stop-color="#ff8080"/><stop offset="0.0773" stop-color="#f00"/><stop offset="0.1261" stop-color="#ff4000"/><stop offset="0.1783" stop-color="#ff8000"/><stop offset="0.2232" stop-color="#ffa626"/><stop offset="0.2871" stop-color="#ffcc4d"/><stop offset="0.374" stop-color="#ffec6d"/><stop offset="0.4456" stop-color="#fff97a"/><stop offset="0.5039" stop-color="#ffff80"/><stop offset="0.504" stop-color="#ffff80"/><stop offset="0.572" stop-color="#fff97a"/><stop offset="0.5981" stop-color="#ffec6d"/><stop offset="0.6602" stop-color="#ffcc4d"/><stop offset="0.7116" stop-color="#ffa626"/><stop offset="0.7551" stop-color="#ff8000"/><stop offset="0.8138" stop-color="#ff4000"/><stop offset="0.8672" stop-color="#f00"/><stop offset="0.9529" stop-color="#ff8080"/><stop offset="0.9816" stop-color="#9e8f55"/><stop offset="1" stop-color="#dc8571"/></linearGradient><linearGradient id="g156"><stop offset="0" stop-color="#f4827b"/><stop offset="0.004592" stop-color="#ff8080"/><stop offset="0.07441" stop-color="#f00"/><stop offset="0.1237" stop-color="#ff4000"/><stop offset="0.1761" stop-color="#ff8000"/><stop offset="0.2212" stop-color="#ffa626"/><stop offset="0.2853" stop-color="#ffcc4d"/><stop offset="0.3726" stop-color="#ffec6d"/><stop offset="0.4448" stop-color="#fff97a"/><stop offset="0.5039" stop-color="#ffff80"/><stop offset="0.504" stop-color="#ffff80"/><stop offset="0.5731" stop-color="#fff97a"/><stop offset="0.5995" stop-color="#ffec6d"/><stop offset="0.6619" stop-color="#ffcc4d"/><stop offset="0.7138" stop-color="#ffa626"/><stop offset="0.7578" stop-color="#ff8000"/><stop offset="0.8166" stop-color="#ff4000"/><stop offset="0.8701" stop-color="#f00"/><stop offset="0.9561" stop-color="#ff8080"/><stop offset="0.9816" stop-color="#a98d5a"/><stop offset="1" stop-color="#e78475"/></linearGradient><linearGradient id="g157"><stop offset="0" stop-color="#fb817e"/><stop offset="0.001834" stop-color="#ff8080"/><stop offset="0.0715" stop-color="#f00"/><stop offset="0.1212" stop-color="#ff4000"/><stop offset="0.174" stop-color="#ff8000"/><stop offset="0.2192" stop-color="#ffa626"/><stop offset="0.2834" stop-color="#ffcc4d"/><stop offset="0.3711" stop-color="#ffec6d"/><stop offset="0.4439" stop-color="#fff97a"/><stop offset="0.5039" stop-color="#ffff80"/><stop offset="0.504" stop-color="#ffff80"/><stop offset="0.5742" stop-color="#fff97a"/><stop offset="0.6008" stop-color="#ffec6d"/><stop offset="0.6637" stop-color="#ffcc4d"/><stop offset="0.716" stop-color="#ffa626"/><stop offset="0.7606" stop-color="#ff8000"/><stop offset="0.8195" stop-color="#ff4000"/><stop offset="0.873" stop-color="#f00"/><stop offset="0.9593" stop-color="#ff8080"/><stop offset="0.9816" stop-color="#b48c5f"/><stop offset="1" stop-color="#f2827a"/></linearGradient><linearGradient id="g158"><stop offset="0" stop-color="#ff7e7e"/><stop offset="0.06857" stop-color="#f00"/><stop offset="0.1188" stop-color="#ff4000"/><stop offset="0.1718" stop-color="#ff8000"/><stop offset="0.2172" stop-color="#ffa626"/><stop offset="0.2816" stop-color="#ffcc4d"/><stop offset="0.3696" stop-color="#ffec6d"/><stop offset="0.4431" stop-color="#fff97a"/><stop offset="0.5039" stop-color="#ffff80"/><stop offset="0.504" stop-color="#ffff80"/><stop offset="0.5754" stop-color="#fff97a"/><stop offset="0.6021" stop-color="#ffec6d"/><stop offset="0.6654" stop-color="#ffcc4d"/><stop offset="0.7182" stop-color="#ffa626"/><stop offset="0.7633" stop-color="#ff8000"/><stop offset="0.8224" stop-color="#ff4000"/><stop offset="0.876" stop-color="#f00"/><stop offset="0.9624" stop-color="#ff8080"/><stop offset="0.9816" stop-color="#bf8a64"/><stop offset="1" stop-color="#fc807f"/></linearGradient><linearGradient id="g159"><stop offset="0" stop-color="#ff7979"/><stop offset="0.06563" stop-color="#f00"/><stop offset="0.1163" stop-color="#ff4000"/><stop offset="0.1696" stop-color="#ff8000"/><stop offset="0.2152" stop-color="#ffa626"/><stop offset="0.2798" stop-color="#ffcc4d"/><stop offset="0.3681" stop-color="#ffec6d"/><stop offset="0.4422" stop-color="#fff97a"/><stop offset="0.5039" stop-color="#ffff80"/><stop offset="0.504" stop-color="#ffff80"/><stop offset="0.5766" stop-color="#fff97a"/><stop offset="0.6035" stop-color="#ffec6d"/><stop offset="0.6672" stop-color="#ffcc4d"/><stop offset="0.7204" stop-color="#ffa626"/><stop offset="0.7661" stop-color="#ff8000"/><stop offset="0.8253" stop-color="#ff4000"/><stop offset="0.8789" stop-color="#f00"/><stop offset="0.9656" stop-color="#ff8080"/><stop offset="0.9816" stop-color="#c98868"/><stop offset="0.9976" stop-color="#ff8080"/><stop offset="1" stop-color="#ff7d7d"/></linearGradient><linearGradient id="g160"><stop offset="0" stop-color="#ff7474"/><stop offset="0.06266" stop-color="#f00"/><stop offset="0.1138" stop-color="#ff4000"/><stop offset="0.1674" stop-color="#ff8000"/><stop offset="0.2131" stop-color="#ffa626"/><stop offset="0.2779" stop-color="#ffcc4d"/><stop offset="0.3666" stop-color="#ffec6d"/><stop offset="0.4413" stop-color="#fff97a"/><stop offset="0.5039" stop-color="#ffff80"/><stop offset="0.504" stop-color="#ffff80"/><stop offset="0.5778" stop-color="#fff97a"/><stop offset="0.6049" stop-color="#ffec6d"/><stop offset="0.6689" stop-color="#ffcc4d"/><stop offset="0.7226" stop-color="#ffa626"/><stop offset="0.7688" stop-color="#ff8000"/><stop offset="0.8281" stop-color="#ff4000"/><stop offset="0.8818" stop-color="#f00"/><stop offset="0.9688" stop-color="#ff8080"/><stop offset="0.9816" stop-color="#d4876d"/><stop offset="0.9945" stop-color="#ff8080"/><stop offset="1" stop-color="#ff7878"/></linearGradient><linearGradient id="g161"><stop offset="0" stop-color="#ff6f6f"/><stop offset="0.05967" stop-color="#f00"/><stop offset="0.1114" stop-color="#ff4000"/><stop offset="0.1653" stop-color="#ff8000"/><stop offset="0.2111" stop-color="#ffa626"/><stop offset="0.2761" stop-color="#ffcc4d"/><stop offset="0.3651" stop-color="#ffec6d"/><stop offset="0.4404" stop-color="#fff97a"/><stop offset="0.5039" stop-color="#ffff80"/><stop offset="0.504" stop-color="#ffff80"/><stop offset="0.579" stop-color="#fff97a"/><stop offset="0.6062" stop-color="#ffec6d"/><stop offset="0.6707" stop-color="#ffcc4d"/><stop offset="0.7248" stop-color="#ffa626"/><stop offset="0.7716" stop-color="#ff8000"/><stop offset="0.831" stop-color="#ff4000"/><stop offset="0.8847" stop-color="#f00"/><stop offset="0.972" stop-color="#ff8080"/><stop offset="0.9816" stop-color="#df8572"/><stop offset="0.9913" stop-color="#ff8080"/><stop offset="1" stop-color="#ff7373"/></linearGradient><linearGradient id="g162"><stop offset="0" stop-color="#ff6969"/><stop offset="0.05666" stop-color="#f00"/><stop offset="0.1089" stop-color="#ff4000"/><stop offset="0.1631" stop-color="#ff8000"/><stop offset="0.2091" stop-color="#ffa626"/><stop offset="0.2742" stop-color="#ffcc4d"/><stop offset="0.3636" stop-color="#ffec6d"/><stop offset="0.4395" stop-color="#fff97a"/><stop offset="0.5039" stop-color="#ffff80"/><stop offset="0.504" stop-color="#ffff80"/><stop offset="0.5802" stop-color="#fff97a"/><stop offset="0.6076" stop-color="#ffec6d"/><stop offset="0.6725" stop-color="#ffcc4d"/><stop offset="0.7271" stop-color="#ffa626"/><stop offset="0.7744" stop-color="#ff8000"/><stop offset="0.834" stop-color="#ff4000"/><stop offset="0.8876" stop-color="#f00"/><stop offset="0.9752" stop-color="#ff8080"/><stop offset="0.9816" stop-color="#ea8377"/><stop offset="0.9881" stop-color="#ff8080"/><stop offset="1" stop-color="#ff6f6f"/></linearGradient><linearGradient id="g163"><stop offset="0" stop-color="#ff6464"/><stop offset="0.05364" stop-color="#f00"/><stop offset="0.1064" stop-color="#ff4000"/><stop offset="0.1608" stop-color="#ff8000"/><stop offset="0.207" stop-color="#ffa626"/><stop offset="0.2724" stop-color="#ffcc4d"/><stop offset="0.3621" stop-color="#ffec6d"/><stop offset="0.4386" stop-color="#fff97a"/><stop offset="0.5039" stop-color="#ffff80"/><stop offset="0.504" stop-color="#ffff80"/><stop offset="0.5814" stop-color="#fff97a"/><stop offset="0.609" stop-color="#ffec6d"/><stop offset="0.6743" stop-color="#ffcc4d"/><stop offset="0.7293" stop-color="#ffa626"/><stop offset="0.7772" stop-color="#ff8000"/><stop offset="0.8369" stop-color="#ff4000"/><stop offset="0.8906" stop-color="#f00"/><stop offset="0.9784" stop-color="#ff8080"/><stop offset="0.9816" stop-color="#f4827b"/><stop offset="0.9849" stop-color="#ff8080"/><stop offset="1" stop-color="#ff6a6a"/></linearGradient><linearGradient id="g164"><stop offset="0" stop-color="#ff5f5f"/><stop offset="0.05059" stop-color="#f00"/><stop offset="0.1039" stop-color="#ff4000"/><stop offset="0.1586" stop-color="#ff8000"/><stop offset="0.2049" stop-color="#ffa626"/><stop offset="0.2705" stop-color="#ffcc4d"/><stop offset="0.3606" stop-color="#ffec6d"/><stop offset="0.4376" stop-color="#fff97a"/><stop offset="0.5039" stop-color="#ffff80"/><stop offset="0.504" stop-color="#ffff80"/><stop offset="0.5826" stop-color="#fff97a"/><stop offset="0.6104" stop-color="#ffec6d"/><stop offset="0.676" stop-color="#ffcc4d"/><stop offset="0.7316" stop-color="#ffa626"/><stop offset="0.78" stop-color="#ff8000"/><stop offset="0.8398" stop-color="#ff4000"/><stop offset="0.8935" stop-color="#f00"/><stop offset="0.9816" stop-color="#ff8080"/><stop offset="0.9817" stop-color="#ff8080"/><stop offset="1" stop-color="#ff6565"/></linearGradient><linearGradient id="g165"><stop offset="0" stop-color="#ff5959"/><stop offset="0.04752" stop-color="#f00"/><stop offset="0.1014" stop-color="#ff4000"/><stop offset="0.1564" stop-color="#ff8000"/><stop offset="0.2029" stop-color="#ffa626"/><stop offset="0.2686" stop-color="#ffcc4d"/><stop offset="0.359" stop-color="#ffec6d"/><stop offset="0.4367" stop-color="#fff97a"/><stop offset="0.5039" stop-color="#ffff80"/><stop offset="0.504" stop-color="#ffff80"/><stop offset="0.5839" stop-color="#fff97a"/><stop offset="0.6118" stop-color="#ffec6d"/><stop offset="0.6778" stop-color="#ffcc4d"/><stop offset="0.7339" stop-color="#ffa626"/><stop offset="0.7829" stop-color="#ff8000"/><stop offset="0.8428" stop-color="#ff4000"/><stop offset="0.8964" stop-color="#f00"/><stop offset="0.9816" stop-color="#ff7b7b"/><stop offset="1" stop-color="#ff6161"/></linearGradient><linearGradient id="g166"><stop offset="0" stop-color="#ff5353"/><stop offset="0.04443" stop-color="#f00"/><stop offset="0.09884" stop-color="#ff4000"/><stop offset="0.1542" stop-color="#ff8000"/><stop offset="0.2008" stop-color="#ffa626"/><stop offset="0.2667" stop-color="#ffcc4d"/><stop offset="0.3575" stop-color="#ffec6d"/><stop offset="0.4357" stop-color="#fff97a"/><stop offset="0.5039" stop-color="#ffff80"/><stop offset="0.504" stop-color="#ffff80"/><stop offset="0.5852" stop-color="#fff97a"/><stop offset="0.6132" stop-color="#ffec6d"/><stop offset="0.6797" stop-color="#ffcc4d"/><stop offset="0.7362" stop-color="#ffa626"/><stop offset="0.7857" stop-color="#ff8000"/><stop offset="0.8457" stop-color="#ff4000"/><stop offset="0.8994" stop-color="#f00"/><stop offset="0.9816" stop-color="#f77"/><stop offset="1" stop-color="#ff5c5c"/></linearGradient><linearGradient id="g167"><stop offset="0" stop-color="#ff4e4e"/><stop offset="0.04132" stop-color="#f00"/><stop offset="0.09632" stop-color="#ff4000"/><stop offset="0.1519" stop-color="#ff8000"/><stop offset="0.1987" stop-color="#ffa626"/><stop offset="0.2648" stop-color="#ffcc4d"/><stop offset="0.3559" stop-color="#ffec6d"/><stop offset="0.4347" stop-color="#fff97a"/><stop offset="0.5039" stop-color="#ffff80"/><stop offset="0.504" stop-color="#ffff80"/><stop offset="0.5864" stop-color="#fff97a"/><stop offset="0.6147" stop-color="#ffec6d"/><stop offset="0.6815" stop-color="#ffcc4d"/><stop offset="0.7385" stop-color="#ffa626"/><stop offset="0.7886" stop-color="#ff8000"/><stop offset="0.8487" stop-color="#ff4000"/><stop offset="0.9023" stop-color="#f00"/><stop offset="0.9816" stop-color="#ff7272"/><stop offset="1" stop-color="#ff5858"/></linearGradient><linearGradient id="g168"><stop offset="0" stop-color="#ff4848"/><stop offset="0.03819" stop-color="#f00"/><stop offset="0.09379" stop-color="#ff4000"/><stop offset="0.1497" stop-color="#ff8000"/><stop offset="0.1966" stop-color="#ffa626"/><stop offset="0.2629" stop-color="#ffcc4d"/><stop offset="0.3544" stop-color="#ffec6d"/><stop offset="0.4337" stop-color="#fff97a"/><stop offset="0.5039" stop-color="#ffff80"/><stop offset="0.504" stop-color="#ffff80"/><stop offset="0.5877" stop-color="#fff97a"/><stop offset="0.6161" stop-color="#ffec6d"/><stop offset="0.6833" stop-color="#ffcc4d"/><stop offset="0.7408" stop-color="#ffa626"/><stop offset="0.7915" stop-color="#ff8000"/><stop offset="0.8516" stop-color="#ff4000"/><stop offset="0.9053" stop-color="#f00"/><stop offset="0.9816" stop-color="#ff6e6e"/><stop offset="1" stop-color="#ff5353"/></linearGradient><linearGradient id="g169"><stop offset="0" stop-color="#ff4242"/><stop offset="0.03504" stop-color="#f00"/><stop offset="0.09125" stop-color="#ff4000"/><stop offset="0.1474" stop-color="#ff8000"/><stop offset="0.1945" stop-color="#ffa626"/><stop offset="0.261" stop-color="#ffcc4d"/><stop offset="0.3528" stop-color="#ffec6d"/><stop offset="0.4327" stop-color="#fff97a"/><stop offset="0.5039" stop-color="#ffff80"/><stop offset="0.504" stop-color="#ffff80"/><stop offset="0.589" stop-color="#fff97a"/><stop offset="0.6176" stop-color="#ffec6d"/><stop offset="0.6851" stop-color="#ffcc4d"/><stop offset="0.7432" stop-color="#ffa626"/><stop offset="0.7944" stop-color="#ff8000"/><stop offset="0.8546" stop-color="#ff4000"/><stop offset="0.9082" stop-color="#f00"/><stop offset="0.9816" stop-color="#ff6969"/><stop offset="1" stop-color="#ff4f4f"/></linearGradient><linearGradient id="g170"><stop offset="0" stop-color="#ff3d3d"/><stop offset="0.03186" stop-color="#f00"/><stop offset="0.0887" stop-color="#ff4000"/><stop offset="0.1451" stop-color="#ff8000"/><stop offset="0.1924" stop-color="#ffa626"/><stop offset="0.2591" stop-color="#ffcc4d"/><stop offset="0.3512" stop-color="#ffec6d"/><stop offset="0.4316" stop-color="#fff97a"/><stop offset="0.5039" stop-color="#ffff80"/><stop offset="0.504" stop-color="#ffff80"/><stop offset="0.5903" stop-color="#fff97a"/><stop offset="0.619" stop-color="#ffec6d"/><stop offset="0.687" stop-color="#ffcc4d"/><stop offset="0.7455" stop-color="#ffa626"/><stop offset="0.7973" stop-color="#ff8000"/><stop offset="0.8576" stop-color="#ff4000"/><stop offset="0.9111" stop-color="#f00"/><stop offset="0.9816" stop-color="#ff6565"/><stop offset="1" stop-color="#ff4a4a"/></linearGradient><linearGradient id="g171"><stop offset="0" stop-color="#ff3737"/><stop offset="0.02867" stop-color="#f00"/><stop offset="0.08614" stop-color="#ff4000"/><stop offset="0.1429" stop-color="#ff8000"/><stop offset="0.1902" stop-color="#ffa626"/><stop offset="0.2572" stop-color="#ffcc4d"/><stop offset="0.3496" stop-color="#ffec6d"/><stop offset="0.4306" stop-color="#fff97a"/><stop offset="0.5039" stop-color="#ffff80"/><stop offset="0.504" stop-color="#ffff80"/><stop offset="0.5916" stop-color="#fff97a"/><stop offset="0.6205" stop-color="#ffec6d"/><stop offset="0.6888" stop-color="#ffcc4d"/><stop offset="0.7479" stop-color="#ffa626"/><stop offset="0.8002" stop-color="#ff8000"/><stop offset="0.8606" stop-color="#ff4000"/><stop offset="0.9141" stop-color="#f00"/><stop offset="0.9816" stop-color="#ff6060"/><stop offset="1" stop-color="#ff4646"/></linearGradient><linearGradient id="g172"><stop offset="0" stop-color="#ff3131"/><stop offset="0.02545" stop-color="#f00"/><stop offset="0.08358" stop-color="#ff4000"/><stop offset="0.1406" stop-color="#ff8000"/><stop offset="0.1881" stop-color="#ffa626"/><stop offset="0.2553" stop-color="#ffcc4d"/><stop offset="0.348" stop-color="#ffec6d"/><stop offset="0.4295" stop-color="#fff97a"/><stop offset="0.5039" stop-color="#ffff80"/><stop offset="0.504" stop-color="#ffff80"/><stop offset="0.593" stop-color="#fff97a"/><stop offset="0.622" stop-color="#ffec6d"/><stop offset="0.6907" stop-color="#ffcc4d"/><stop offset="0.7503" stop-color="#ffa626"/><stop offset="0.8031" stop-color="#ff8000"/><stop offset="0.8635" stop-color="#ff4000"/><stop offset="0.917" stop-color="#f00"/><stop offset="0.9816" stop-color="#ff5b5b"/><stop offset="1" stop-color="#ff4141"/></linearGradient><linearGradient id="g173"><stop offset="0" stop-color="#ff2b2b"/><stop offset="0.02221" stop-color="#f00"/><stop offset="0.08101" stop-color="#ff4000"/><stop offset="0.1383" stop-color="#ff8000"/><stop offset="0.186" stop-color="#ffa626"/><stop offset="0.2533" stop-color="#ffcc4d"/><stop offset="0.3464" stop-color="#ffec6d"/><stop offset="0.4284" stop-color="#fff97a"/><stop offset="0.5039" stop-color="#ffff80"/><stop offset="0.504" stop-color="#ffff80"/><stop offset="0.5943" stop-color="#fff97a"/><stop offset="0.6235" stop-color="#ffec6d"/><stop offset="0.6926" stop-color="#ffcc4d"/><stop offset="0.7527" stop-color="#ffa626"/><stop offset="0.806" stop-color="#ff8000"/><stop offset="0.8665" stop-color="#ff4000"/><stop offset="0.92" stop-color="#f00"/><stop offset="0.9816" stop-color="#ff5757"/><stop offset="1" stop-color="#ff3d3d"/></linearGradient><linearGradient id="g174"><stop offset="0" stop-color="#ff2525"/><stop offset="0.01895" stop-color="#f00"/><stop offset="0.07843" stop-color="#ff4000"/><stop offset="0.136" stop-color="#ff8000"/><stop offset="0.1838" stop-color="#ffa626"/><stop offset="0.2514" stop-color="#ffcc4d"/><stop offset="0.3448" stop-color="#ffec6d"/><stop offset="0.4273" stop-color="#fff97a"/><stop offset="0.5039" stop-color="#ffff80"/><stop offset="0.504" stop-color="#ffff80"/><stop offset="0.5956" stop-color="#fff97a"/><stop offset="0.625" stop-color="#ffec6d"/><stop offset="0.6945" stop-color="#ffcc4d"/><stop offset="0.7551" stop-color="#ffa626"/><stop offset="0.809" stop-color="#ff8000"/><stop offset="0.8695" stop-color="#ff4000"/><stop offset="0.9229" stop-color="#f00"/><stop offset="0.9816" stop-color="#ff5252"/><stop offset="1" stop-color="#ff3939"/></linearGradient><linearGradient id="g175"><stop offset="0" stop-color="#ff1e1e"/><stop offset="0.01566" stop-color="#f00"/><stop offset="0.07585" stop-color="#ff4000"/><stop offset="0.1337" stop-color="#ff8000"/><stop offset="0.1816" stop-color="#ffa626"/><stop offset="0.2495" stop-color="#ffcc4d"/><stop offset="0.3432" stop-color="#ffec6d"/><stop offset="0.4262" stop-color="#fff97a"/><stop offset="0.5039" stop-color="#ffff80"/><stop offset="0.504" stop-color="#ffff80"/><stop offset="0.597" stop-color="#fff97a"/><stop offset="0.6265" stop-color="#ffec6d"/><stop offset="0.6964" stop-color="#ffcc4d"/><stop offset="0.7575" stop-color="#ffa626"/><stop offset="0.8119" stop-color="#ff8000"/><stop offset="0.8726" stop-color="#ff4000"/><stop offset="0.9259" stop-color="#f00"/><stop offset="0.9816" stop-color="#ff4e4e"/><stop offset="1" stop-color="#ff3434"/></linearGradient><linearGradient id="g176"><stop offset="0" stop-color="#ff1818"/><stop offset="0.01235" stop-color="#f00"/><stop offset="0.07326" stop-color="#ff4000"/><stop offset="0.1313" stop-color="#ff8000"/><stop offset="0.1794" stop-color="#ffa626"/><stop offset="0.2475" stop-color="#ffcc4d"/><stop offset="0.3416" stop-color="#ffec6d"/><stop offset="0.4251" stop-color="#fff97a"/><stop offset="0.5039" stop-color="#ffff80"/><stop offset="0.504" stop-color="#ffff80"/><stop offset="0.5984" stop-color="#fff97a"/><stop offset="0.628" stop-color="#ffec6d"/><stop offset="0.6983" stop-color="#ffcc4d"/><stop offset="0.76" stop-color="#ffa626"/><stop offset="0.8149" stop-color="#ff8000"/><stop offset="0.8756" stop-color="#ff4000"/><stop offset="0.9288" stop-color="#f00"/><stop offset="0.9816" stop-color="#ff4949"/><stop offset="1" stop-color="#ff3030"/></linearGradient><linearGradient id="g177"><stop offset="0" stop-color="#ff1212"/><stop offset="0.009019" stop-color="#f00"/><stop offset="0.07066" stop-color="#ff4000"/><stop offset="0.129" stop-color="#ff8000"/><stop offset="0.1772" stop-color="#ffa626"/><stop offset="0.2455" stop-color="#ffcc4d"/><stop offset="0.34" stop-color="#ffec6d"/><stop offset="0.4239" stop-color="#fff97a"/><stop offset="0.5039" stop-color="#ffff80"/><stop offset="0.504" stop-color="#ffff80"/><stop offset="0.5998" stop-color="#fff97a"/><stop offset="0.6295" stop-color="#ffec6d"/><stop offset="0.7002" stop-color="#ffcc4d"/><stop offset="0.7624" stop-color="#ffa626"/><stop offset="0.8178" stop-color="#ff8000"/><stop offset="0.8786" stop-color="#ff4000"/><stop offset="0.9318" stop-color="#f00"/><stop offset="0.9816" stop-color="#ff4545"/><stop offset="1" stop-color="#ff2b2b"/></linearGradient><linearGradient id="g178"><stop offset="0" stop-color="#ff0b0b"/><stop offset="0.005663" stop-color="#f00"/><stop offset="0.06805" stop-color="#ff4000"/><stop offset="0.1266" stop-color="#ff8000"/><stop offset="0.175" stop-color="#ffa626"/><stop offset="0.2436" stop-color="#ffcc4d"/><stop offset="0.3384" stop-color="#ffec6d"/><stop offset="0.4227" stop-color="#fff97a"/><stop offset="0.5039" stop-color="#ffff80"/><stop offset="0.504" stop-color="#ffff80"/><stop offset="0.6011" stop-color="#fff97a"/><stop offset="0.631" stop-color="#ffec6d"/><stop offset="0.7021" stop-color="#ffcc4d"/><stop offset="0.7649" stop-color="#ffa626"/><stop offset="0.8208" stop-color="#ff8000"/><stop offset="0.8816" stop-color="#ff4000"/><stop offset="0.9348" stop-color="#f00"/><stop offset="0.9816" stop-color="#ff4040"/><stop offset="1" stop-color="#ff2727"/></linearGradient><linearGradient id="g179"><stop offset="0" stop-color="#ff0404"/><stop offset="0.002284" stop-color="#f00"/><stop offset="0.06544" stop-color="#ff4000"/><stop offset="0.1243" stop-color="#ff8000"/><stop offset="0.1728" stop-color="#ffa626"/><stop offset="0.2416" stop-color="#ffcc4d"/><stop offset="0.3367" stop-color="#ffec6d"/><stop offset="0.4216" stop-color="#fff97a"/><stop offset="0.5039" stop-color="#ffff80"/><stop offset="0.504" stop-color="#ffff80"/><stop offset="0.6026" stop-color="#fff97a"/><stop offset="0.6326" stop-color="#ffec6d"/><stop offset="0.704" stop-color="#ffcc4d"/><stop offset="0.7674" stop-color="#ffa626"/><stop offset="0.8238" stop-color="#ff8000"/><stop offset="0.8846" stop-color="#ff4000"/><stop offset="0.9377" stop-color="#f00"/><stop offset="0.9816" stop-color="#ff3c3c"/><stop offset="1" stop-color="#ff2323"/></linearGradient><linearGradient id="g180"><stop offset="0" stop-color="#ff0100"/><stop offset="0.06282" stop-color="#ff4000"/><stop offset="0.1219" stop-color="#ff8000"/><stop offset="0.1706" stop-color="#ffa626"/><stop offset="0.2396" stop-color="#ffcc4d"/><stop offset="0.3351" stop-color="#ffec6d"/><stop offset="0.4203" stop-color="#fff97a"/><stop offset="0.5039" stop-color="#ffff80"/><stop offset="0.504" stop-color="#ffff80"/><stop offset="0.604" stop-color="#fff97a"/><stop offset="0.6341" stop-color="#ffec6d"/><stop offset="0.706" stop-color="#ffcc4d"/><stop offset="0.7699" stop-color="#ffa626"/><stop offset="0.8268" stop-color="#ff8000"/><stop offset="0.8877" stop-color="#ff4000"/><stop offset="0.9407" stop-color="#f00"/><stop offset="0.9816" stop-color="#ff3838"/><stop offset="1" stop-color="#ff1f1f"/></linearGradient><linearGradient id="g181"><stop offset="0" stop-color="#ff0400"/><stop offset="0.06019" stop-color="#ff4000"/><stop offset="0.1195" stop-color="#ff8000"/><stop offset="0.1684" stop-color="#ffa626"/><stop offset="0.2376" stop-color="#ffcc4d"/><stop offset="0.3334" stop-color="#ffec6d"/><stop offset="0.4191" stop-color="#fff97a"/><stop offset="0.5039" stop-color="#ffff80"/><stop offset="0.504" stop-color="#ffff80"/><stop offset="0.6054" stop-color="#fff97a"/><stop offset="0.6357" stop-color="#ffec6d"/><stop offset="0.7079" stop-color="#ffcc4d"/><stop offset="0.7724" stop-color="#ffa626"/><stop offset="0.8298" stop-color="#ff8000"/><stop offset="0.8907" stop-color="#ff4000"/><stop offset="0.9436" stop-color="#f00"/><stop offset="0.9816" stop-color="#f33"/><stop offset="1" stop-color="#ff1b1b"/></linearGradient><linearGradient id="g182"><stop offset="0" stop-color="#ff0800"/><stop offset="0.05756" stop-color="#ff4000"/><stop offset="0.1172" stop-color="#ff8000"/><stop offset="0.1661" stop-color="#ffa626"/><stop offset="0.2356" stop-color="#ffcc4d"/><stop offset="0.3318" stop-color="#ffec6d"/><stop offset="0.4179" stop-color="#fff97a"/><stop offset="0.5039" stop-color="#ffff80"/><stop offset="0.504" stop-color="#ffff80"/><stop offset="0.6068" stop-color="#fff97a"/><stop offset="0.6373" stop-color="#ffec6d"/><stop offset="0.7099" stop-color="#ffcc4d"/><stop offset="0.775" stop-color="#ffa626"/><stop offset="0.8328" stop-color="#ff8000"/><stop offset="0.8937" stop-color="#ff4000"/><stop offset="0.9466" stop-color="#f00"/><stop offset="0.9816" stop-color="#ff2f2f"/><stop offset="1" stop-color="#ff1616"/></linearGradient><linearGradient id="g183"><stop offset="0" stop-color="#ff0b00"/><stop offset="0.05492" stop-color="#ff4000"/><stop offset="0.1148" stop-color="#ff8000"/><stop offset="0.1638" stop-color="#ffa626"/><stop offset="0.2336" stop-color="#ffcc4d"/><stop offset="0.3301" stop-color="#ffec6d"/><stop offset="0.4166" stop-color="#fff97a"/><stop offset="0.5039" stop-color="#ffff80"/><stop offset="0.504" stop-color="#ffff80"/><stop offset="0.6083" stop-color="#fff97a"/><stop offset="0.6389" stop-color="#ffec6d"/><stop offset="0.7119" stop-color="#ffcc4d"/><stop offset="0.7775" stop-color="#ffa626"/><stop offset="0.8358" stop-color="#ff8000"/><stop offset="0.8968" stop-color="#ff4000"/><stop offset="0.9495" stop-color="#f00"/><stop offset="0.9816" stop-color="#ff2b2b"/><stop offset="1" stop-color="#ff1212"/></linearGradient><linearGradient id="g184"><stop offset="0" stop-color="#ff0e00"/><stop offset="0.05227" stop-color="#ff4000"/><stop offset="0.1123" stop-color="#ff8000"/><stop offset="0.1616" stop-color="#ffa626"/><stop offset="0.2316" stop-color="#ffcc4d"/><stop offset="0.3285" stop-color="#ffec6d"/><stop offset="0.4153" stop-color="#fff97a"/><stop offset="0.5039" stop-color="#ffff80"/><stop offset="0.504" stop-color="#ffff80"/><stop offset="0.6097" stop-color="#fff97a"/><stop offset="0.6405" stop-color="#ffec6d"/><stop offset="0.7139" stop-color="#ffcc4d"/><stop offset="0.7801" stop-color="#ffa626"/><stop offset="0.8388" stop-color="#ff8000"/><stop offset="0.8998" stop-color="#ff4000"/><stop offset="0.9524" stop-color="#f00"/><stop offset="0.9816" stop-color="#ff2727"/><stop offset="1" stop-color="#ff0e0e"/></linearGradient><linearGradient id="g185"><stop offset="0" stop-color="#f10"/><stop offset="0.04961" stop-color="#ff4000"/><stop offset="0.1099" stop-color="#ff8000"/><stop offset="0.1593" stop-color="#ffa626"/><stop offset="0.2296" stop-color="#ffcc4d"/><stop offset="0.3268" stop-color="#ffec6d"/><stop offset="0.414" stop-color="#fff97a"/><stop offset="0.5039" stop-color="#ffff80"/><stop offset="0.504" stop-color="#ffff80"/><stop offset="0.6112" stop-color="#fff97a"/><stop offset="0.6421" stop-color="#ffec6d"/><stop offset="0.7159" stop-color="#ffcc4d"/><stop offset="0.7827" stop-color="#ffa626"/><stop offset="0.8418" stop-color="#ff8000"/><stop offset="0.9029" stop-color="#ff4000"/><stop offset="0.9554" stop-color="#f00"/><stop offset="0.9816" stop-color="#ff2323"/><stop offset="1" stop-color="#ff0a0a"/></linearGradient><linearGradient id="g186"><stop offset="0" stop-color="#ff1400"/><stop offset="0.04695" stop-color="#ff4000"/><stop offset="0.1075" stop-color="#ff8000"/><stop offset="0.157" stop-color="#ffa626"/><stop offset="0.2275" stop-color="#ffcc4d"/><stop offset="0.3252" stop-color="#ffec6d"/><stop offset="0.4127" stop-color="#fff97a"/><stop offset="0.5039" stop-color="#ffff80"/><stop offset="0.504" stop-color="#ffff80"/><stop offset="0.6127" stop-color="#fff97a"/><stop offset="0.6437" stop-color="#ffec6d"/><stop offset="0.7179" stop-color="#ffcc4d"/><stop offset="0.7853" stop-color="#ffa626"/><stop offset="0.8449" stop-color="#ff8000"/><stop offset="0.9059" stop-color="#ff4000"/><stop offset="0.9583" stop-color="#f00"/><stop offset="0.9816" stop-color="#ff1e1e"/><stop offset="1" stop-color="#ff0606"/></linearGradient><linearGradient id="g187"><stop offset="0" stop-color="#ff1700"/><stop offset="0.04428" stop-color="#ff4000"/><stop offset="0.105" stop-color="#ff8000"/><stop offset="0.1547" stop-color="#ffa626"/><stop offset="0.2255" stop-color="#ffcc4d"/><stop offset="0.3235" stop-color="#ffec6d"/><stop offset="0.4113" stop-color="#fff97a"/><stop offset="0.5039" stop-color="#ffff80"/><stop offset="0.504" stop-color="#ffff80"/><stop offset="0.6141" stop-color="#fff97a"/><stop offset="0.6453" stop-color="#ffec6d"/><stop offset="0.7199" stop-color="#ffcc4d"/><stop offset="0.7879" stop-color="#ffa626"/><stop offset="0.8479" stop-color="#ff8000"/><stop offset="0.909" stop-color="#ff4000"/><stop offset="0.9613" stop-color="#f00"/><stop offset="0.9816" stop-color="#ff1a1a"/><stop offset="1" stop-color="#ff0303"/></linearGradient><linearGradient id="g188"><stop offset="0" stop-color="#ff1a00"/><stop offset="0.0416" stop-color="#ff4000"/><stop offset="0.1026" stop-color="#ff8000"/><stop offset="0.1523" stop-color="#ffa626"/><stop offset="0.2235" stop-color="#ffcc4d"/><stop offset="0.3218" stop-color="#ffec6d"/><stop offset="0.4099" stop-color="#fff97a"/><stop offset="0.5039" stop-color="#ffff80"/><stop offset="0.504" stop-color="#ffff80"/><stop offset="0.6156" stop-color="#fff97a"/><stop offset="0.6469" stop-color="#ffec6d"/><stop offset="0.722" stop-color="#ffcc4d"/><stop offset="0.7906" stop-color="#ffa626"/><stop offset="0.8509" stop-color="#ff8000"/><stop offset="0.912" stop-color="#ff4000"/><stop offset="0.9642" stop-color="#f00"/><stop offset="0.9816" stop-color="#ff1616"/><stop offset="0.9991" stop-color="#f00"/><stop offset="1" stop-color="#ff0100"/></linearGradient><linearGradient id="g189"><stop offset="0" stop-color="#ff1d00"/><stop offset="0.03892" stop-color="#ff4000"/><stop offset="0.1001" stop-color="#ff8000"/><stop offset="0.15" stop-color="#ffa626"/><stop offset="0.2214" stop-color="#ffcc4d"/><stop offset="0.3202" stop-color="#ffec6d"/><stop offset="0.4085" stop-color="#fff97a"/><stop offset="0.5039" stop-color="#ffff80"/><stop offset="0.504" stop-color="#ffff80"/><stop offset="0.6171" stop-color="#fff97a"/><stop offset="0.6486" stop-color="#ffec6d"/><stop offset="0.724" stop-color="#ffcc4d"/><stop offset="0.7932" stop-color="#ffa626"/><stop offset="0.854" stop-color="#ff8000"/><stop offset="0.9151" stop-color="#ff4000"/><stop offset="0.9671" stop-color="#f00"/><stop offset="0.9816" stop-color="#ff1313"/><stop offset="0.9961" stop-color="#f00"/><stop offset="1" stop-color="#ff0500"/></linearGradient><linearGradient id="g190"><stop offset="0" stop-color="#ff2000"/><stop offset="0.03623" stop-color="#ff4000"/><stop offset="0.09762" stop-color="#ff8000"/><stop offset="0.1476" stop-color="#ffa626"/><stop offset="0.2193" stop-color="#ffcc4d"/><stop offset="0.3185" stop-color="#ffec6d"/><stop offset="0.4071" stop-color="#fff97a"/><stop offset="0.5039" stop-color="#ffff80"/><stop offset="0.504" stop-color="#ffff80"/><stop offset="0.6186" stop-color="#fff97a"/><stop offset="0.6502" stop-color="#ffec6d"/><stop offset="0.7261" stop-color="#ffcc4d"/><stop offset="0.7959" stop-color="#ffa626"/><stop offset="0.857" stop-color="#ff8000"/><stop offset="0.9181" stop-color="#ff4000"/><stop offset="0.97" stop-color="#f00"/><stop offset="0.9816" stop-color="#ff0f0f"/><stop offset="0.9932" stop-color="#f00"/><stop offset="1" stop-color="#ff0800"/></linearGradient><linearGradient id="g191"><stop offset="0" stop-color="#ff2300"/><stop offset="0.03353" stop-color="#ff4000"/><stop offset="0.09513" stop-color="#ff8000"/><stop offset="0.1453" stop-color="#ffa626"/><stop offset="0.2173" stop-color="#ffcc4d"/><stop offset="0.3168" stop-color="#ffec6d"/><stop offset="0.4057" stop-color="#fff97a"/><stop offset="0.5039" stop-color="#ffff80"/><stop offset="0.504" stop-color="#ffff80"/><stop offset="0.6202" stop-color="#fff97a"/><stop offset="0.6519" stop-color="#ffec6d"/><stop offset="0.7282" stop-color="#ffcc4d"/><stop offset="0.7986" stop-color="#ffa626"/><stop offset="0.8601" stop-color="#ff8000"/><stop offset="0.9212" stop-color="#ff4000"/><stop offset="0.973" stop-color="#f00"/><stop offset="0.9816" stop-color="#ff0b0b"/><stop offset="0.9903" stop-color="#f00"/><stop offset="1" stop-color="#ff0c00"/></linearGradient><linearGradient id="g192"><stop offset="0" stop-color="#ff2600"/><stop offset="0.03083" stop-color="#ff4000"/><stop offset="0.09262" stop-color="#ff8000"/><stop offset="0.1429" stop-color="#ffa626"/><stop offset="0.2152" stop-color="#ffcc4d"/><stop offset="0.3151" stop-color="#ffec6d"/><stop offset="0.4042" stop-color="#fff97a"/><stop offset="0.5039" stop-color="#ffff80"/><stop offset="0.504" stop-color="#ffff80"/><stop offset="0.6217" stop-color="#fff97a"/><stop offset="0.6535" stop-color="#ffec6d"/><stop offset="0.7303" stop-color="#ffcc4d"/><stop offset="0.8013" stop-color="#ffa626"/><stop offset="0.8631" stop-color="#ff8000"/><stop offset="0.9242" stop-color="#ff4000"/><stop offset="0.9759" stop-color="#f00"/><stop offset="0.9816" stop-color="#ff0707"/><stop offset="0.9874" stop-color="#f00"/><stop offset="1" stop-color="#ff1000"/></linearGradient><linearGradient id="g193"><stop offset="0" stop-color="#ff2800"/><stop offset="0.02812" stop-color="#ff4000"/><stop offset="0.0901" stop-color="#ff8000"/><stop offset="0.1405" stop-color="#ffa626"/><stop offset="0.2131" stop-color="#ffcc4d"/><stop offset="0.3134" stop-color="#ffec6d"/><stop offset="0.4027" stop-color="#fff97a"/><stop offset="0.5039" stop-color="#ffff80"/><stop offset="0.504" stop-color="#ffff80"/><stop offset="0.6232" stop-color="#fff97a"/><stop offset="0.6552" stop-color="#ffec6d"/><stop offset="0.7324" stop-color="#ffcc4d"/><stop offset="0.8041" stop-color="#ffa626"/><stop offset="0.8661" stop-color="#ff8000"/><stop offset="0.9273" stop-color="#ff4000"/><stop offset="0.9788" stop-color="#f00"/><stop offset="0.9816" stop-color="#ff0404"/><stop offset="0.9845" stop-color="#f00"/><stop offset="1" stop-color="#ff1300"/></linearGradient><linearGradient id="g194"><stop offset="0" stop-color="#ff2b00"/><stop offset="0.0254" stop-color="#ff4000"/><stop offset="0.08756" stop-color="#ff8000"/><stop offset="0.138" stop-color="#ffa626"/><stop offset="0.211" stop-color="#ffcc4d"/><stop offset="0.3118" stop-color="#ffec6d"/><stop offset="0.4012" stop-color="#fff97a"/><stop offset="0.5039" stop-color="#ffff80"/><stop offset="0.504" stop-color="#ffff80"/><stop offset="0.6248" stop-color="#fff97a"/><stop offset="0.6569" stop-color="#ffec6d"/><stop offset="0.7345" stop-color="#ffcc4d"/><stop offset="0.8068" stop-color="#ffa626"/><stop offset="0.8692" stop-color="#ff8000"/><stop offset="0.9303" stop-color="#ff4000"/><stop offset="0.9816" stop-color="#f00"/><stop offset="1" stop-color="#ff1700"/></linearGradient><linearGradient id="g195"><stop offset="0" stop-color="#ff2d00"/><stop offset="0.02267" stop-color="#ff4000"/><stop offset="0.08502" stop-color="#ff8000"/><stop offset="0.1356" stop-color="#ffa626"/><stop offset="0.2089" stop-color="#ffcc4d"/><stop offset="0.3101" stop-color="#ffec6d"/><stop offset="0.3996" stop-color="#fff97a"/><stop offset="0.5039" stop-color="#ffff80"/><stop offset="0.504" stop-color="#ffff80"/><stop offset="0.6263" stop-color="#fff97a"/><stop offset="0.6586" stop-color="#ffec6d"/><stop offset="0.7367" stop-color="#ffcc4d"/><stop offset="0.8096" stop-color="#ffa626"/><stop offset="0.8722" stop-color="#ff8000"/><stop offset="0.9334" stop-color="#ff4000"/><stop offset="0.9816" stop-color="#ff0400"/><stop offset="1" stop-color="#ff1b00"/></linearGradient><linearGradient id="g196"><stop offset="0" stop-color="#ff3000"/><stop offset="0.01994" stop-color="#ff4000"/><stop offset="0.08245" stop-color="#ff8000"/><stop offset="0.1332" stop-color="#ffa626"/><stop offset="0.2068" stop-color="#ffcc4d"/><stop offset="0.3084" stop-color="#ffec6d"/><stop offset="0.3981" stop-color="#fff97a"/><stop offset="0.5039" stop-color="#ffff80"/><stop offset="0.504" stop-color="#ffff80"/><stop offset="0.6279" stop-color="#fff97a"/><stop offset="0.6603" stop-color="#ffec6d"/><stop offset="0.7388" stop-color="#ffcc4d"/><stop offset="0.8124" stop-color="#ffa626"/><stop offset="0.8753" stop-color="#ff8000"/><stop offset="0.9364" stop-color="#ff4000"/><stop offset="0.9816" stop-color="#ff0700"/><stop offset="1" stop-color="#ff1e00"/></linearGradient><linearGradient id="g197"><stop offset="0" stop-color="#ff3200"/><stop offset="0.0172" stop-color="#ff4000"/><stop offset="0.07988" stop-color="#ff8000"/><stop offset="0.1307" stop-color="#ffa626"/><stop offset="0.2047" stop-color="#ffcc4d"/><stop offset="0.3067" stop-color="#ffec6d"/><stop offset="0.3965" stop-color="#fff97a"/><stop offset="0.5039" stop-color="#ffff80"/><stop offset="0.504" stop-color="#ffff80"/><stop offset="0.6295" stop-color="#fff97a"/><stop offset="0.662" stop-color="#ffec6d"/><stop offset="0.741" stop-color="#ffcc4d"/><stop offset="0.8152" stop-color="#ffa626"/><stop offset="0.8783" stop-color="#ff8000"/><stop offset="0.9394" stop-color="#ff4000"/><stop offset="0.9816" stop-color="#ff0b00"/><stop offset="1" stop-color="#f20"/></linearGradient><linearGradient id="g198"><stop offset="0" stop-color="#ff3500"/><stop offset="0.01446" stop-color="#ff4000"/><stop offset="0.07729" stop-color="#ff8000"/><stop offset="0.1282" stop-color="#ffa626"/><stop offset="0.2025" stop-color="#ffcc4d"/><stop offset="0.305" stop-color="#ffec6d"/><stop offset="0.3948" stop-color="#fff97a"/><stop offset="0.5039" stop-color="#ffff80"/><stop offset="0.504" stop-color="#ffff80"/><stop offset="0.6311" stop-color="#fff97a"/><stop offset="0.6638" stop-color="#ffec6d"/><stop offset="0.7432" stop-color="#ffcc4d"/><stop offset="0.8181" stop-color="#ffa626"/><stop offset="0.8814" stop-color="#ff8000"/><stop offset="0.9425" stop-color="#ff4000"/><stop offset="0.9816" stop-color="#ff0f00"/><stop offset="1" stop-color="#ff2600"/></linearGradient><linearGradient id="g199"><stop offset="0" stop-color="#ff3700"/><stop offset="0.01171" stop-color="#ff4000"/><stop offset="0.07469" stop-color="#ff8000"/><stop offset="0.1257" stop-color="#ffa626"/><stop offset="0.2004" stop-color="#ffcc4d"/><stop offset="0.3033" stop-color="#ffec6d"/><stop offset="0.3932" stop-color="#fff97a"/><stop offset="0.5039" stop-color="#ffff80"/><stop offset="0.504" stop-color="#ffff80"/><stop offset="0.6328" stop-color="#fff97a"/><stop offset="0.6655" stop-color="#ffec6d"/><stop offset="0.7454" stop-color="#ffcc4d"/><stop offset="0.8209" stop-color="#ffa626"/><stop offset="0.8844" stop-color="#ff8000"/><stop offset="0.9455" stop-color="#ff4000"/><stop offset="0.9816" stop-color="#ff1300"/><stop offset="1" stop-color="#ff2a00"/></linearGradient><linearGradient id="g200"><stop offset="0" stop-color="#ff3900"/><stop offset="0.008951" stop-color="#ff4000"/><stop offset="0.07207" stop-color="#ff8000"/><stop offset="0.1232" stop-color="#ffa626"/><stop offset="0.1983" stop-color="#ffcc4d"/><stop offset="0.3016" stop-color="#ffec6d"/><stop offset="0.3915" stop-color="#fff97a"/><stop offset="0.5039" stop-color="#ffff80"/><stop offset="0.504" stop-color="#ffff80"/><stop offset="0.6344" stop-color="#fff97a"/><stop offset="0.6673" stop-color="#ffec6d"/><stop offset="0.7477" stop-color="#ffcc4d"/><stop offset="0.8238" stop-color="#ffa626"/><stop offset="0.8875" stop-color="#ff8000"/><stop offset="0.9485" stop-color="#ff4000"/><stop offset="0.9816" stop-color="#ff1600"/><stop offset="1" stop-color="#ff2e00"/></linearGradient><linearGradient id="g201"><stop offset="0" stop-color="#ff3b00"/><stop offset="0.006187" stop-color="#ff4000"/><stop offset="0.06943" stop-color="#ff8000"/><stop offset="0.1207" stop-color="#ffa626"/><stop offset="0.1961" stop-color="#ffcc4d"/><stop offset="0.3" stop-color="#ffec6d"/><stop offset="0.3898" stop-color="#fff97a"/><stop offset="0.5039" stop-color="#ffff80"/><stop offset="0.504" stop-color="#ffff80"/><stop offset="0.6361" stop-color="#fff97a"/><stop offset="0.669" stop-color="#ffec6d"/><stop offset="0.7499" stop-color="#ffcc4d"/><stop offset="0.8267" stop-color="#ffa626"/><stop offset="0.8905" stop-color="#ff8000"/><stop offset="0.9516" stop-color="#ff4000"/><stop offset="0.9816" stop-color="#ff1a00"/><stop offset="1" stop-color="#ff3100"/></linearGradient><linearGradient id="g202"><stop offset="0" stop-color="#ff3d00"/><stop offset="0.003416" stop-color="#ff4000"/><stop offset="0.06678" stop-color="#ff8000"/><stop offset="0.1181" stop-color="#ffa626"/><stop offset="0.1939" stop-color="#ffcc4d"/><stop offset="0.2983" stop-color="#ffec6d"/><stop offset="0.3881" stop-color="#fff97a"/><stop offset="0.5039" stop-color="#ffff80"/><stop offset="0.504" stop-color="#ffff80"/><stop offset="0.6378" stop-color="#fff97a"/><stop offset="0.6708" stop-color="#ffec6d"/><stop offset="0.7522" stop-color="#ffcc4d"/><stop offset="0.8296" stop-color="#ffa626"/><stop offset="0.8935" stop-color="#ff8000"/><stop offset="0.9546" stop-color="#ff4000"/><stop offset="0.9816" stop-color="#ff1e00"/><stop offset="1" stop-color="#ff3500"/></linearGradient><linearGradient id="g203"><stop offset="0" stop-color="#ff4000"/><stop offset="0.0006387" stop-color="#ff4000"/><stop offset="0.06412" stop-color="#ff8000"/><stop offset="0.1155" stop-color="#ffa626"/><stop offset="0.1918" stop-color="#ffcc4d"/><stop offset="0.2966" stop-color="#ffec6d"/><stop offset="0.3863" stop-color="#fff97a"/><stop offset="0.5039" stop-color="#ffff80"/><stop offset="0.504" stop-color="#ffff80"/><stop offset="0.6396" stop-color="#fff97a"/><stop offset="0.6726" stop-color="#ffec6d"/><stop offset="0.7545" stop-color="#ffcc4d"/><stop offset="0.8326" stop-color="#ffa626"/><stop offset="0.8965" stop-color="#ff8000"/><stop offset="0.9576" stop-color="#ff4000"/><stop offset="0.9816" stop-color="#f20"/><stop offset="1" stop-color="#ff3900"/></linearGradient><linearGradient id="g204"><stop offset="0" stop-color="#ff4200"/><stop offset="0.06144" stop-color="#ff8000"/><stop offset="0.1129" stop-color="#ffa626"/><stop offset="0.1896" stop-color="#ffcc4d"/><stop offset="0.2949" stop-color="#ffec6d"/><stop offset="0.3845" stop-color="#fff97a"/><stop offset="0.5039" stop-color="#ffff80"/><stop offset="0.504" stop-color="#ffff80"/><stop offset="0.6413" stop-color="#fff97a"/><stop offset="0.6743" stop-color="#ffec6d"/><stop offset="0.7568" stop-color="#ffcc4d"/><stop offset="0.8356" stop-color="#ffa626"/><stop offset="0.8996" stop-color="#ff8000"/><stop offset="0.9606" stop-color="#ff4000"/><stop offset="0.9816" stop-color="#ff2600"/><stop offset="1" stop-color="#ff3d00"/></linearGradient><linearGradient id="g205"><stop offset="0" stop-color="#ff4500"/><stop offset="0.05874" stop-color="#ff8000"/><stop offset="0.1103" stop-color="#ffa626"/><stop offset="0.1874" stop-color="#ffcc4d"/><stop offset="0.2932" stop-color="#ffec6d"/><stop offset="0.3827" stop-color="#fff97a"/><stop offset="0.5039" stop-color="#ffff80"/><stop offset="0.504" stop-color="#ffff80"/><stop offset="0.6431" stop-color="#fff97a"/><stop offset="0.6761" stop-color="#ffec6d"/><stop offset="0.7591" stop-color="#ffcc4d"/><stop offset="0.8386" stop-color="#ffa626"/><stop offset="0.9026" stop-color="#ff8000"/><stop offset="0.9636" stop-color="#ff4000"/><stop offset="0.9816" stop-color="#ff2a00"/><stop offset="0.9996" stop-color="#ff4000"/><stop offset="1" stop-color="#ff4000"/></linearGradient><linearGradient id="g206"><stop offset="0" stop-color="#ff4800"/><stop offset="0.05603" stop-color="#ff8000"/><stop offset="0.1077" stop-color="#ffa626"/><stop offset="0.1852" stop-color="#ffcc4d"/><stop offset="0.2915" stop-color="#ffec6d"/><stop offset="0.3808" stop-color="#fff97a"/><stop offset="0.5039" stop-color="#ffff80"/><stop offset="0.504" stop-color="#ffff80"/><stop offset="0.6449" stop-color="#fff97a"/><stop offset="0.6779" stop-color="#ffec6d"/><stop offset="0.7614" stop-color="#ffcc4d"/><stop offset="0.8416" stop-color="#ffa626"/><stop offset="0.9056" stop-color="#ff8000"/><stop offset="0.9666" stop-color="#ff4000"/><stop offset="0.9816" stop-color="#ff2d00"/><stop offset="0.9966" stop-color="#ff4000"/><stop offset="1" stop-color="#f40"/></linearGradient><linearGradient id="g207"><stop offset="0" stop-color="#ff4b00"/><stop offset="0.0533" stop-color="#ff8000"/><stop offset="0.1051" stop-color="#ffa626"/><stop offset="0.183" stop-color="#ffcc4d"/><stop offset="0.2899" stop-color="#ffec6d"/><stop offset="0.3789" stop-color="#fff97a"/><stop offset="0.5039" stop-color="#ffff80"/><stop offset="0.504" stop-color="#ffff80"/><stop offset="0.6467" stop-color="#fff97a"/><stop offset="0.6798" stop-color="#ffec6d"/><stop offset="0.7638" stop-color="#ffcc4d"/><stop offset="0.8447" stop-color="#ffa626"/><stop offset="0.9086" stop-color="#ff8000"/><stop offset="0.9696" stop-color="#ff4000"/><stop offset="0.9816" stop-color="#ff3100"/><stop offset="0.9937" stop-color="#ff4000"/><stop offset="1" stop-color="#ff4700"/></linearGradient><linearGradient id="g208"><stop offset="0" stop-color="#ff4d00"/><stop offset="0.05056" stop-color="#ff8000"/><stop offset="0.1024" stop-color="#ffa626"/><stop offset="0.1807" stop-color="#ffcc4d"/><stop offset="0.2882" stop-color="#ffec6d"/><stop offset="0.377" stop-color="#fff97a"/><stop offset="0.5039" stop-color="#ffff80"/><stop offset="0.504" stop-color="#ffff80"/><stop offset="0.6485" stop-color="#fff97a"/><stop offset="0.6816" stop-color="#ffec6d"/><stop offset="0.7662" stop-color="#ffcc4d"/><stop offset="0.8477" stop-color="#ffa626"/><stop offset="0.9116" stop-color="#ff8000"/><stop offset="0.9726" stop-color="#ff4000"/><stop offset="0.9816" stop-color="#ff3500"/><stop offset="0.9907" stop-color="#ff4000"/><stop offset="1" stop-color="#ff4a00"/></linearGradient><linearGradient id="g209"><stop offset="0" stop-color="#ff5000"/><stop offset="0.0478" stop-color="#ff8000"/><stop offset="0.09971" stop-color="#ffa626"/><stop offset="0.1785" stop-color="#ffcc4d"/><stop offset="0.2865" stop-color="#ffec6d"/><stop offset="0.3751" stop-color="#fff97a"/><stop offset="0.5039" stop-color="#ffff80"/><stop offset="0.504" stop-color="#ffff80"/><stop offset="0.6504" stop-color="#fff97a"/><stop offset="0.6834" stop-color="#ffec6d"/><stop offset="0.7686" stop-color="#ffcc4d"/><stop offset="0.8509" stop-color="#ffa626"/><stop offset="0.9146" stop-color="#ff8000"/><stop offset="0.9756" stop-color="#ff4000"/><stop offset="0.9816" stop-color="#ff3900"/><stop offset="0.9877" stop-color="#ff4000"/><stop offset="1" stop-color="#ff4d00"/></linearGradient><linearGradient id="g210"><stop offset="0" stop-color="#ff5300"/><stop offset="0.04502" stop-color="#ff8000"/><stop offset="0.097" stop-color="#ffa626"/><stop offset="0.1763" stop-color="#ffcc4d"/><stop offset="0.2848" stop-color="#ffec6d"/><stop offset="0.3731" stop-color="#fff97a"/><stop offset="0.5039" stop-color="#ffff80"/><stop offset="0.504" stop-color="#ffff80"/><stop offset="0.6523" stop-color="#fff97a"/><stop offset="0.6853" stop-color="#ffec6d"/><stop offset="0.771" stop-color="#ffcc4d"/><stop offset="0.854" stop-color="#ffa626"/><stop offset="0.9175" stop-color="#ff8000"/><stop offset="0.9785" stop-color="#ff4000"/><stop offset="0.9816" stop-color="#ff3c00"/><stop offset="0.9847" stop-color="#ff4000"/><stop offset="1" stop-color="#ff5000"/></linearGradient><linearGradient id="g211"><stop offset="0" stop-color="#ff5600"/><stop offset="0.04222" stop-color="#ff8000"/><stop offset="0.09426" stop-color="#ffa626"/><stop offset="0.174" stop-color="#ffcc4d"/><stop offset="0.2832" stop-color="#ffec6d"/><stop offset="0.371" stop-color="#fff97a"/><stop offset="0.5039" stop-color="#ffff80"/><stop offset="0.504" stop-color="#ffff80"/><stop offset="0.6542" stop-color="#fff97a"/><stop offset="0.6871" stop-color="#ffec6d"/><stop offset="0.7735" stop-color="#ffcc4d"/><stop offset="0.8572" stop-color="#ffa626"/><stop offset="0.9205" stop-color="#ff8000"/><stop offset="0.9815" stop-color="#ff4000"/><stop offset="0.9818" stop-color="#ff4000"/><stop offset="1" stop-color="#ff5300"/></linearGradient><linearGradient id="g212"><stop offset="0" stop-color="#ff5900"/><stop offset="0.03941" stop-color="#ff8000"/><stop offset="0.09151" stop-color="#ffa626"/><stop offset="0.1717" stop-color="#ffcc4d"/><stop offset="0.2815" stop-color="#ffec6d"/><stop offset="0.369" stop-color="#fff97a"/><stop offset="0.5039" stop-color="#ffff80"/><stop offset="0.504" stop-color="#ffff80"/><stop offset="0.6562" stop-color="#fff97a"/><stop offset="0.689" stop-color="#ffec6d"/><stop offset="0.776" stop-color="#ffcc4d"/><stop offset="0.8603" stop-color="#ffa626"/><stop offset="0.9235" stop-color="#ff8000"/><stop offset="0.9816" stop-color="#ff4300"/><stop offset="1" stop-color="#ff5600"/></linearGradient><linearGradient id="g213"><stop offset="0" stop-color="#ff5b00"/><stop offset="0.03657" stop-color="#ff8000"/><stop offset="0.08873" stop-color="#ffa626"/><stop offset="0.1695" stop-color="#ffcc4d"/><stop offset="0.2799" stop-color="#ffec6d"/><stop offset="0.3669" stop-color="#fff97a"/><stop offset="0.5039" stop-color="#ffff80"/><stop offset="0.504" stop-color="#ffff80"/><stop offset="0.6581" stop-color="#fff97a"/><stop offset="0.6909" stop-color="#ffec6d"/><stop offset="0.7785" stop-color="#ffcc4d"/><stop offset="0.8636" stop-color="#ffa626"/><stop offset="0.9264" stop-color="#ff8000"/><stop offset="0.9816" stop-color="#ff4600"/><stop offset="1" stop-color="#ff5900"/></linearGradient><linearGradient id="g214"><stop offset="0" stop-color="#ff5e00"/><stop offset="0.03372" stop-color="#ff8000"/><stop offset="0.08594" stop-color="#ffa626"/><stop offset="0.1672" stop-color="#ffcc4d"/><stop offset="0.2782" stop-color="#ffec6d"/><stop offset="0.3647" stop-color="#fff97a"/><stop offset="0.5039" stop-color="#ffff80"/><stop offset="0.504" stop-color="#ffff80"/><stop offset="0.6601" stop-color="#fff97a"/><stop offset="0.6928" stop-color="#ffec6d"/><stop offset="0.781" stop-color="#ffcc4d"/><stop offset="0.8668" stop-color="#ffa626"/><stop offset="0.9293" stop-color="#ff8000"/><stop offset="0.9816" stop-color="#ff4900"/><stop offset="1" stop-color="#ff5c00"/></linearGradient><linearGradient id="g215"><stop offset="0" stop-color="#ff6100"/><stop offset="0.03085" stop-color="#ff8000"/><stop offset="0.08311" stop-color="#ffa626"/><stop offset="0.1649" stop-color="#ffcc4d"/><stop offset="0.2766" stop-color="#ffec6d"/><stop offset="0.3626" stop-color="#fff97a"/><stop offset="0.5039" stop-color="#ffff80"/><stop offset="0.504" stop-color="#ffff80"/><stop offset="0.6621" stop-color="#fff97a"/><stop offset="0.6947" stop-color="#ffec6d"/><stop offset="0.7835" stop-color="#ffcc4d"/><stop offset="0.8701" stop-color="#ffa626"/><stop offset="0.9322" stop-color="#ff8000"/><stop offset="0.9816" stop-color="#ff4c00"/><stop offset="1" stop-color="#ff5f00"/></linearGradient><linearGradient id="g216"><stop offset="0" stop-color="#ff6400"/><stop offset="0.02796" stop-color="#ff8000"/><stop offset="0.08027" stop-color="#ffa626"/><stop offset="0.1626" stop-color="#ffcc4d"/><stop offset="0.2749" stop-color="#ffec6d"/><stop offset="0.3604" stop-color="#fff97a"/><stop offset="0.5039" stop-color="#ffff80"/><stop offset="0.504" stop-color="#ffff80"/><stop offset="0.6642" stop-color="#fff97a"/><stop offset="0.6966" stop-color="#ffec6d"/><stop offset="0.7861" stop-color="#ffcc4d"/><stop offset="0.8734" stop-color="#ffa626"/><stop offset="0.9352" stop-color="#ff8000"/><stop offset="0.9816" stop-color="#ff4f00"/><stop offset="1" stop-color="#ff6200"/></linearGradient><linearGradient id="g217"><stop offset="0" stop-color="#ff6700"/><stop offset="0.02505" stop-color="#ff8000"/><stop offset="0.0774" stop-color="#ffa626"/><stop offset="0.1602" stop-color="#ffcc4d"/><stop offset="0.2733" stop-color="#ffec6d"/><stop offset="0.3581" stop-color="#fff97a"/><stop offset="0.5039" stop-color="#ffff80"/><stop offset="0.504" stop-color="#ffff80"/><stop offset="0.6663" stop-color="#fff97a"/><stop offset="0.6985" stop-color="#ffec6d"/><stop offset="0.7887" stop-color="#ffcc4d"/><stop offset="0.8767" stop-color="#ffa626"/><stop offset="0.938" stop-color="#ff8000"/><stop offset="0.9816" stop-color="#ff5200"/><stop offset="1" stop-color="#f60"/></linearGradient><linearGradient id="g218"><stop offset="0" stop-color="#ff6a00"/><stop offset="0.02212" stop-color="#ff8000"/><stop offset="0.0745" stop-color="#ffa626"/><stop offset="0.1579" stop-color="#ffcc4d"/><stop offset="0.2717" stop-color="#ffec6d"/><stop offset="0.3558" stop-color="#fff97a"/><stop offset="0.5039" stop-color="#ffff80"/><stop offset="0.504" stop-color="#ffff80"/><stop offset="0.6684" stop-color="#fff97a"/><stop offset="0.7005" stop-color="#ffec6d"/><stop offset="0.7914" stop-color="#ffcc4d"/><stop offset="0.8801" stop-color="#ffa626"/><stop offset="0.9409" stop-color="#ff8000"/><stop offset="0.9816" stop-color="#f50"/><stop offset="1" stop-color="#ff6900"/></linearGradient><linearGradient id="g219"><stop offset="0" stop-color="#ff6d00"/><stop offset="0.01917" stop-color="#ff8000"/><stop offset="0.07158" stop-color="#ffa626"/><stop offset="0.1556" stop-color="#ffcc4d"/><stop offset="0.27" stop-color="#ffec6d"/><stop offset="0.3535" stop-color="#fff97a"/><stop offset="0.5039" stop-color="#ffff80"/><stop offset="0.504" stop-color="#ffff80"/><stop offset="0.6705" stop-color="#fff97a"/><stop offset="0.7024" stop-color="#ffec6d"/><stop offset="0.794" stop-color="#ffcc4d"/><stop offset="0.8835" stop-color="#ffa626"/><stop offset="0.9438" stop-color="#ff8000"/><stop offset="0.9816" stop-color="#ff5800"/><stop offset="1" stop-color="#ff6c00"/></linearGradient><linearGradient id="g220"><stop offset="0" stop-color="#ff7000"/><stop offset="0.0162" stop-color="#ff8000"/><stop offset="0.06864" stop-color="#ffa626"/><stop offset="0.1532" stop-color="#ffcc4d"/><stop offset="0.2684" stop-color="#ffec6d"/><stop offset="0.3511" stop-color="#fff97a"/><stop offset="0.5039" stop-color="#ffff80"/><stop offset="0.504" stop-color="#ffff80"/><stop offset="0.6726" stop-color="#fff97a"/><stop offset="0.7044" stop-color="#ffec6d"/><stop offset="0.7967" stop-color="#ffcc4d"/><stop offset="0.8869" stop-color="#ffa626"/><stop offset="0.9466" stop-color="#ff8000"/><stop offset="0.9816" stop-color="#ff5b00"/><stop offset="1" stop-color="#ff6f00"/></linearGradient><linearGradient id="g221"><stop offset="0" stop-color="#ff7300"/><stop offset="0.01321" stop-color="#ff8000"/><stop offset="0.06567" stop-color="#ffa626"/><stop offset="0.1508" stop-color="#ffcc4d"/><stop offset="0.2668" stop-color="#ffec6d"/><stop offset="0.3487" stop-color="#fff97a"/><stop offset="0.5039" stop-color="#ffff80"/><stop offset="0.504" stop-color="#ffff80"/><stop offset="0.6748" stop-color="#fff97a"/><stop offset="0.7064" stop-color="#ffec6d"/><stop offset="0.7994" stop-color="#ffcc4d"/><stop offset="0.8904" stop-color="#ffa626"/><stop offset="0.9495" stop-color="#ff8000"/><stop offset="0.9816" stop-color="#ff5e00"/><stop offset="1" stop-color="#ff7200"/></linearGradient><linearGradient id="g222"><stop offset="0" stop-color="#ff7600"/><stop offset="0.0102" stop-color="#ff8000"/><stop offset="0.06267" stop-color="#ffa626"/><stop offset="0.1484" stop-color="#ffcc4d"/><stop offset="0.2652" stop-color="#ffec6d"/><stop offset="0.3463" stop-color="#fff97a"/><stop offset="0.5039" stop-color="#ffff80"/><stop offset="0.504" stop-color="#ffff80"/><stop offset="0.677" stop-color="#fff97a"/><stop offset="0.7083" stop-color="#ffec6d"/><stop offset="0.8022" stop-color="#ffcc4d"/><stop offset="0.8939" stop-color="#ffa626"/><stop offset="0.9523" stop-color="#ff8000"/><stop offset="0.9816" stop-color="#ff6100"/><stop offset="1" stop-color="#ff7500"/></linearGradient><linearGradient id="g223"><stop offset="0" stop-color="#ff7900"/><stop offset="0.007162" stop-color="#ff8000"/><stop offset="0.05965" stop-color="#ffa626"/><stop offset="0.1461" stop-color="#ffcc4d"/><stop offset="0.2636" stop-color="#ffec6d"/><stop offset="0.3438" stop-color="#fff97a"/><stop offset="0.5039" stop-color="#ffff80"/><stop offset="0.504" stop-color="#ffff80"/><stop offset="0.6793" stop-color="#fff97a"/><stop offset="0.7103" stop-color="#ffec6d"/><stop offset="0.805" stop-color="#ffcc4d"/><stop offset="0.8974" stop-color="#ffa626"/><stop offset="0.9551" stop-color="#ff8000"/><stop offset="0.9816" stop-color="#ff6400"/><stop offset="1" stop-color="#f70"/></linearGradient><linearGradient id="g224"><stop offset="0" stop-color="#ff7c00"/><stop offset="0.004105" stop-color="#ff8000"/><stop offset="0.05659" stop-color="#ffa626"/><stop offset="0.1436" stop-color="#ffcc4d"/><stop offset="0.262" stop-color="#ffec6d"/><stop offset="0.3412" stop-color="#fff97a"/><stop offset="0.5039" stop-color="#ffff80"/><stop offset="0.504" stop-color="#ffff80"/><stop offset="0.6815" stop-color="#fff97a"/><stop offset="0.7124" stop-color="#ffec6d"/><stop offset="0.8078" stop-color="#ffcc4d"/><stop offset="0.901" stop-color="#ffa626"/><stop offset="0.9578" stop-color="#ff8000"/><stop offset="0.9816" stop-color="#ff6700"/><stop offset="1" stop-color="#ff7a00"/></linearGradient><linearGradient id="g225"><stop offset="0" stop-color="#ff7f00"/><stop offset="0.001027" stop-color="#ff8000"/><stop offset="0.05351" stop-color="#ffa626"/><stop offset="0.1412" stop-color="#ffcc4d"/><stop offset="0.2605" stop-color="#ffec6d"/><stop offset="0.3386" stop-color="#fff97a"/><stop offset="0.5039" stop-color="#ffff80"/><stop offset="0.504" stop-color="#ffff80"/><stop offset="0.6838" stop-color="#fff97a"/><stop offset="0.7144" stop-color="#ffec6d"/><stop offset="0.8106" stop-color="#ffcc4d"/><stop offset="0.9046" stop-color="#ffa626"/><stop offset="0.9606" stop-color="#ff8000"/><stop offset="0.9816" stop-color="#ff6a00"/><stop offset="1" stop-color="#ff7d00"/></linearGradient><linearGradient id="g226"><stop offset="0" stop-color="#ff8202"/><stop offset="0.0504" stop-color="#ffa626"/><stop offset="0.1388" stop-color="#ffcc4d"/><stop offset="0.2589" stop-color="#ffec6d"/><stop offset="0.336" stop-color="#fff97a"/><stop offset="0.5039" stop-color="#ffff80"/><stop offset="0.504" stop-color="#ffff80"/><stop offset="0.6862" stop-color="#fff97a"/><stop offset="0.7164" stop-color="#ffec6d"/><stop offset="0.8135" stop-color="#ffcc4d"/><stop offset="0.9082" stop-color="#ffa626"/><stop offset="0.9633" stop-color="#ff8000"/><stop offset="0.9816" stop-color="#ff6d00"/><stop offset="0.9999" stop-color="#ff8000"/><stop offset="1" stop-color="#ff8000"/></linearGradient><linearGradient id="g227"><stop offset="0" stop-color="#ff8404"/><stop offset="0.04727" stop-color="#ffa626"/><stop offset="0.1363" stop-color="#ffcc4d"/><stop offset="0.2573" stop-color="#ffec6d"/><stop offset="0.3333" stop-color="#fff97a"/><stop offset="0.5039" stop-color="#ffff80"/><stop offset="0.504" stop-color="#ffff80"/><stop offset="0.6885" stop-color="#fff97a"/><stop offset="0.7185" stop-color="#ffec6d"/><stop offset="0.8165" stop-color="#ffcc4d"/><stop offset="0.9119" stop-color="#ffa626"/><stop offset="0.966" stop-color="#ff8000"/><stop offset="0.9816" stop-color="#ff7000"/><stop offset="0.9972" stop-color="#ff8000"/><stop offset="1" stop-color="#ff8202"/></linearGradient><linearGradient id="g228"><stop offset="0" stop-color="#ff8606"/><stop offset="0.0441" stop-color="#ffa626"/><stop offset="0.1339" stop-color="#ffcc4d"/><stop offset="0.2558" stop-color="#ffec6d"/><stop offset="0.3306" stop-color="#fff97a"/><stop offset="0.5039" stop-color="#ffff80"/><stop offset="0.504" stop-color="#ffff80"/><stop offset="0.6909" stop-color="#fff97a"/><stop offset="0.7205" stop-color="#ffec6d"/><stop offset="0.8194" stop-color="#ffcc4d"/><stop offset="0.9156" stop-color="#ffa626"/><stop offset="0.9687" stop-color="#ff8000"/><stop offset="0.9816" stop-color="#ff7300"/><stop offset="0.9945" stop-color="#ff8000"/><stop offset="1" stop-color="#ff8404"/></linearGradient><linearGradient id="g229"><stop offset="0" stop-color="#ff8808"/><stop offset="0.0409" stop-color="#ffa626"/><stop offset="0.1314" stop-color="#ffcc4d"/><stop offset="0.2543" stop-color="#ffec6d"/><stop offset="0.3278" stop-color="#fff97a"/><stop offset="0.5039" stop-color="#ffff80"/><stop offset="0.504" stop-color="#ffff80"/><stop offset="0.6933" stop-color="#fff97a"/><stop offset="0.7226" stop-color="#ffec6d"/><stop offset="0.8224" stop-color="#ffcc4d"/><stop offset="0.9194" stop-color="#ffa626"/><stop offset="0.9714" stop-color="#ff8000"/><stop offset="0.9816" stop-color="#ff7600"/><stop offset="0.9919" stop-color="#ff8000"/><stop offset="1" stop-color="#ff8606"/></linearGradient><linearGradient id="g230"><stop offset="0" stop-color="#ff8b0b"/><stop offset="0.03767" stop-color="#ffa626"/><stop offset="0.1289" stop-color="#ffcc4d"/><stop offset="0.2527" stop-color="#ffec6d"/><stop offset="0.3249" stop-color="#fff97a"/><stop offset="0.5039" stop-color="#ffff80"/><stop offset="0.504" stop-color="#ffff80"/><stop offset="0.6958" stop-color="#fff97a"/><stop offset="0.7247" stop-color="#ffec6d"/><stop offset="0.8254" stop-color="#ffcc4d"/><stop offset="0.9232" stop-color="#ffa626"/><stop offset="0.974" stop-color="#ff8000"/><stop offset="0.9816" stop-color="#ff7800"/><stop offset="0.9892" stop-color="#ff8000"/><stop offset="1" stop-color="#ff8808"/></linearGradient><linearGradient id="g231"><stop offset="0" stop-color="#ff8d0d"/><stop offset="0.03441" stop-color="#ffa626"/><stop offset="0.1264" stop-color="#ffcc4d"/><stop offset="0.2512" stop-color="#ffec6d"/><stop offset="0.3221" stop-color="#fff97a"/><stop offset="0.5039" stop-color="#ffff80"/><stop offset="0.504" stop-color="#ffff80"/><stop offset="0.6982" stop-color="#fff97a"/><stop offset="0.7268" stop-color="#ffec6d"/><stop offset="0.8285" stop-color="#ffcc4d"/><stop offset="0.927" stop-color="#ffa626"/><stop offset="0.9766" stop-color="#ff8000"/><stop offset="0.9816" stop-color="#ff7b00"/><stop offset="0.9866" stop-color="#ff8000"/><stop offset="1" stop-color="#ff8a0a"/></linearGradient><linearGradient id="g232"><stop offset="0" stop-color="#ff8f10"/><stop offset="0.03111" stop-color="#ffa626"/><stop offset="0.1239" stop-color="#ffcc4d"/><stop offset="0.2497" stop-color="#ffec6d"/><stop offset="0.3191" stop-color="#fff97a"/><stop offset="0.5039" stop-color="#ffff80"/><stop offset="0.504" stop-color="#ffff80"/><stop offset="0.7007" stop-color="#fff97a"/><stop offset="0.7289" stop-color="#ffec6d"/><stop offset="0.8316" stop-color="#ffcc4d"/><stop offset="0.9309" stop-color="#ffa626"/><stop offset="0.9792" stop-color="#ff8000"/><stop offset="0.9816" stop-color="#ff7e00"/><stop offset="0.984" stop-color="#ff8000"/><stop offset="1" stop-color="#ff8d0d"/></linearGradient><linearGradient id="g233"><stop offset="0" stop-color="#ff9212"/><stop offset="0.02779" stop-color="#ffa626"/><stop offset="0.1214" stop-color="#ffcc4d"/><stop offset="0.2482" stop-color="#ffec6d"/><stop offset="0.3161" stop-color="#fff97a"/><stop offset="0.5039" stop-color="#ffff80"/><stop offset="0.504" stop-color="#ffff80"/><stop offset="0.7033" stop-color="#fff97a"/><stop offset="0.731" stop-color="#ffec6d"/><stop offset="0.8348" stop-color="#ffcc4d"/><stop offset="0.9349" stop-color="#ffa626"/><stop offset="0.9816" stop-color="#ff8000"/><stop offset="1" stop-color="#ff8f0f"/></linearGradient><linearGradient id="g234"><stop offset="0" stop-color="#ff9414"/><stop offset="0.02444" stop-color="#ffa626"/><stop offset="0.1188" stop-color="#ffcc4d"/><stop offset="0.2467" stop-color="#ffec6d"/><stop offset="0.3131" stop-color="#fff97a"/><stop offset="0.5039" stop-color="#ffff80"/><stop offset="0.504" stop-color="#ffff80"/><stop offset="0.7059" stop-color="#fff97a"/><stop offset="0.7332" stop-color="#ffec6d"/><stop offset="0.8379" stop-color="#ffcc4d"/><stop offset="0.9388" stop-color="#ffa626"/><stop offset="0.9816" stop-color="#ff8202"/><stop offset="1" stop-color="#ff9212"/></linearGradient><linearGradient id="g235"><stop offset="0" stop-color="#ff9616"/><stop offset="0.02191" stop-color="#ffa626"/><stop offset="0.1169" stop-color="#ffcc4d"/><stop offset="0.2456" stop-color="#ffec6d"/><stop offset="0.3108" stop-color="#fff97a"/><stop offset="0.5039" stop-color="#ffff80"/><stop offset="0.504" stop-color="#ffff80"/><stop offset="0.7078" stop-color="#fff97a"/><stop offset="0.7348" stop-color="#ffec6d"/><stop offset="0.8403" stop-color="#ffcc4d"/><stop offset="0.9418" stop-color="#ffa626"/><stop offset="0.9816" stop-color="#ff8404"/><stop offset="1" stop-color="#ff9414"/></linearGradient></defs>
<g shape-rendering="crispEdges"><rect x="131" y="115" width="762" height="2.6" fill="url(#g0)"/><rect x="131" y="117" width="762" height="2.6" fill="url(#g1)"/><rect x="131" y="119" width="762" height="2.6" fill="url(#g2)"/><rect x="131" y="121" width="762" height="2.6" fill="url(#g3)"/><rect x="131" y="123" width="762" height="2.6" fill="url(#g4)"/><rect x="131" y="125" width="762" height="2.6" fill="url(#g5)"/><rect x="131" y="127" width="762" height="2.6" fill="url(#g6)"/><rect x="131" y="129" width="762" height="2.6" fill="url(#g7)"/><rect x="131" y="131" width="762" height="2.6" fill="url(#g8)"/><rect x="131" y="133" width="762" height="2.6" fill="url(#g9)"/><rect x="131" y="135" width="762" height="2.6" fill="url(#g10)"/><rect x="131" y="137" width="762" height="2.6" fill="url(#g11)"/><rect x="131" y="139" width="762" height="2.6" fill="url(#g12)"/><rect x="131" y="141" width="762" height="2.6" fill="url(#g13)"/><rect x="131" y="143" width="762" height="2.6" fill="url(#g14)"/><rect x="131" y="145" width="762" height="2.6" fill="url(#g15)"/><rect x="131" y="147" width="762" height="2.6" fill="url(#g16)"/><rect x="131" y="149" width="762" height="2.6" fill="url(#g17)"/><rect x="131" y="151" width="762" height="2.6" fill="url(#g18)"/><rect x="131" y="153" width="762" height="2.6" fill="url(#g19)"/><rect x="131" y="155" width="762" height="2.6" fill="url(#g20)"/><rect x="131" y="157" width="762" height="2.6" fill="url(#g21)"/><rect x="131" y="159" width="762" height="2.6" fill="url(#g22)"/><rect x="131" y="161" width="762" height="2.6" fill="url(#g23)"/><rect x="131" y="163" width="762" height="2.6" fill="url(#g24)"/><rect x="131" y="165" width="762" height="2.6" fill="url(#g25)"/><rect x="131" y="167" width="762" height="2.6" fill="url(#g26)"/><rect x="131" y="169" width="762" height="2.6" fill="url(#g27)"/><rect x="131" y="171" width="762" height="2.6" fill="url(#g28)"/><rect x="131" y="173" width="762" height="2.6" fill="url(#g29)"/><rect x="131" y="175" width="762" height="2.6" fill="url(#g30)"/><rect x="131" y="177" width="762" height="2.6" fill="url(#g31)"/><rect x="131" y="179" width="762" height="2.6" fill="url(#g32)"/><rect x="131" y="181" width="762" height="2.6" fill="url(#g33)"/><rect x="131" y="183" width="762" height="2.6" fill="url(#g34)"/><rect x="131" y="185" width="762" height="2.6" fill="url(#g35)"/><rect x="131" y="187" width="762" height="2.6" fill="url(#g36)"/><rect x="131" y="189" width="762" height="2.6" fill="url(#g37)"/><rect x="131" y="191" width="762" height="2.6" fill="url(#g38)"/><rect x="131" y="193" width="762" height="2.6" fill="url(#g39)"/><rect x="131" y="195" width="762" height="2.6" fill="url(#g40)"/><rect x="131" y="197" width="762" height="2.6" fill="url(#g41)"/><rect x="131" y="199" width="762" height="2.6" fill="url(#g42)"/><rect x="131" y="201" width="762" height="2.6" fill="url(#g43)"/><rect x="131" y="203" width="762" height="2.6" fill="url(#g44)"/><rect x="131" y="205" width="762" height="2.6" fill="url(#g45)"/><rect x="131" y="207" width="762" height="2.6" fill="url(#g46)"/><rect x="131" y="209" width="762" height="2.6" fill="url(#g47)"/><rect x="131" y="211" width="762" height="2.6" fill="url(#g48)"/><rect x="131" y="213" width="762" height="2.6" fill="url(#g49)"/><rect x="131" y="215" width="762" height="2.6" fill="url(#g50)"/><rect x="131" y="217" width="762" height="2.6" fill="url(#g51)"/><rect x="131" y="219" width="762" height="2.6" fill="url(#g52)"/><rect x="131" y="221" width="762" height="2.6" fill="url(#g53)"/><rect x="131" y="223" width="762" height="2.6" fill="url(#g54)"/><rect x="131" y="225" width="762" height="2.6" fill="url(#g55)"/><rect x="131" y="227" width="762" height="2.6" fill="url(#g56)"/><rect x="131" y="229" width="762" height="2.6" fill="url(#g57)"/><rect x="131" y="231" width="762" height="2.6" fill="url(#g58)"/><rect x="131" y="233" width="762" height="2.6" fill="url(#g59)"/><rect x="131" y="235" width="762" height="2.6" fill="url(#g60)"/><rect x="131" y="237" width="762" height="2.6" fill="url(#g61)"/><rect x="131" y="239" width="762" height="2.6" fill="url(#g62)"/><rect x="131" y="241" width="762" height="2.6" fill="url(#g63)"/><rect x="131" y="243" width="762" height="2.6" fill="url(#g64)"/><rect x="131" y="245" width="762" height="2.6" fill="url(#g65)"/><rect x="131" y="247" width="762" height="2.6" fill="url(#g66)"/><rect x="131" y="249" width="762" height="2.6" fill="url(#g67)"/><rect x="131" y="251" width="762" height="2.6" fill="url(#g68)"/><rect x="131" y="253" width="762" height="2.6" fill="url(#g69)"/><rect x="131" y="255" width="762" height="2.6" fill="url(#g70)"/><rect x="131" y="257" width="762" height="2.6" fill="url(#g71)"/><rect x="131" y="259" width="762" height="2.6" fill="url(#g72)"/><rect x="131" y="261" width="762" height="2.6" fill="url(#g73)"/><rect x="131" y="263" width="762" height="2.6" fill="url(#g74)"/><rect x="131" y="265" width="762" height="2.6" fill="url(#g75)"/><rect x="131" y="267" width="762" height="2.6" fill="url(#g76)"/><rect x="131" y="269" width="762" height="2.6" fill="url(#g77)"/><rect x="131" y="271" width="762" height="2.6" fill="url(#g78)"/><rect x="131" y="273" width="762" height="2.6" fill="url(#g79)"/><rect x="131" y="275" width="762" height="2.6" fill="url(#g80)"/><rect x="131" y="277" width="762" height="2.6" fill="url(#g81)"/><rect x="131" y="279" width="762" height="2.6" fill="url(#g82)"/><rect x="131" y="281" width="762" height="2.6" fill="url(#g83)"/><rect x="131" y="283" width="762" height="2.6" fill="url(#g84)"/><rect x="131" y="285" width="762" height="2.6" fill="url(#g85)"/><rect x="131" y="287" width="762" height="2.6" fill="url(#g86)"/><rect x="131" y="289" width="762" height="2.6" fill="url(#g87)"/><rect x="131" y="291" width="762" height="2.6" fill="url(#g88)"/><rect x="131" y="293" width="762" height="2.6" fill="url(#g89)"/><rect x="131" y="295" width="762" height="2.6" fill="url(#g90)"/><rect x="131" y="297" width="762" height="2.6" fill="url(#g91)"/><rect x="131" y="299" width="762" height="2.6" fill="url(#g92)"/><rect x="131" y="301" width="762" height="2.6" fill="url(#g93)"/><rect x="131" y="303" width="762" height="2.6" fill="url(#g94)"/><rect x="131" y="305" width="762" height="2.6" fill="url(#g95)"/><rect x="131" y="307" width="762" height="2.6" fill="url(#g96)"/><rect x="131" y="309" width="762" height="2.6" fill="url(#g97)"/><rect x="131" y="311" width="762" height="2.6" fill="url(#g98)"/><rect x="131" y="313" width="762" height="2.6" fill="url(#g99)"/><rect x="131" y="315" width="762" height="2.6" fill="url(#g100)"/><rect x="131" y="317" width="762" height="2.6" fill="url(#g101)"/><rect x="131" y="319" width="762" height="2.6" fill="url(#g102)"/><rect x="131" y="321" width="762" height="2.6" fill="url(#g103)"/><rect x="131" y="323" width="762" height="2.6" fill="url(#g104)"/><rect x="131" y="325" width="762" height="2.6" fill="url(#g105)"/><rect x="131" y="327" width="762" height="2.6" fill="url(#g106)"/><rect x="131" y="329" width="762" height="2.6" fill="url(#g107)"/><rect x="131" y="331" width="762" height="2.6" fill="url(#g108)"/><rect x="131" y="333" width="762" height="2.6" fill="url(#g109)"/><rect x="131" y="335" width="762" height="2.6" fill="url(#g110)"/><rect x="131" y="337" width="762" height="2.6" fill="url(#g111)"/><rect x="131" y="339" width="762" height="2.6" fill="url(#g112)"/><rect x="131" y="341" width="762" height="2.6" fill="url(#g113)"/><rect x="131" y="343" width="762" height="2.6" fill="url(#g114)"/><rect x="131" y="345" width="762" height="2.6" fill="url(#g115)"/><rect x="131" y="347" width="762" height="2.6" fill="url(#g116)"/><rect x="131" y="349" width="762" height="2.6" fill="url(#g117)"/><rect x="131" y="351" width="762" height="2.6" fill="url(#g118)"/><rect x="131" y="353" width="762" height="2.6" fill="url(#g119)"/><rect x="131" y="355" width="762" height="2.6" fill="url(#g120)"/><rect x="131" y="357" width="762" height="2.6" fill="url(#g121)"/><rect x="131" y="359" width="762" height="2.6" fill="url(#g122)"/><rect x="131" y="361" width="762" height="2.6" fill="url(#g123)"/><rect x="131" y="363" width="762" height="2.6" fill="url(#g124)"/><rect x="131" y="365" width="762" height="2.6" fill="url(#g125)"/><rect x="131" y="367" width="762" height="2.6" fill="url(#g126)"/><rect x="131" y="369" width="762" height="2.6" fill="url(#g127)"/><rect x="131" y="371" width="762" height="2.6" fill="url(#g128)"/><rect x="131" y="373" width="762" height="2.6" fill="url(#g129)"/><rect x="131" y="375" width="762" height="2.6" fill="url(#g130)"/><rect x="131" y="377" width="762" height="2.6" fill="url(#g131)"/><rect x="131" y="379" width="762" height="2.6" fill="url(#g132)"/><rect x="131" y="381" width="762" height="2.6" fill="url(#g133)"/><rect x="131" y="383" width="762" height="2.6" fill="url(#g134)"/><rect x="131" y="385" width="762" height="2.6" fill="url(#g135)"/><rect x="131" y="387" width="762" height="2.6" fill="url(#g136)"/><rect x="131" y="389" width="762" height="2.6" fill="url(#g137)"/><rect x="131" y="391" width="762" height="2.6" fill="url(#g138)"/><rect x="131" y="393" width="762" height="2.6" fill="url(#g139)"/><rect x="131" y="395" width="762" height="2.6" fill="url(#g140)"/><rect x="131" y="397" width="762" height="2.6" fill="url(#g141)"/><rect x="131" y="399" width="762" height="2.6" fill="url(#g142)"/><rect x="131" y="401" width="762" height="2.6" fill="url(#g143)"/><rect x="131" y="403" width="762" height="2.6" fill="url(#g144)"/><rect x="131" y="405" width="762" height="2.6" fill="url(#g145)"/><rect x="131" y="407" width="762" height="2.6" fill="url(#g146)"/><rect x="131" y="409" width="762" height="2.6" fill="url(#g147)"/><rect x="131" y="411" width="762" height="2.6" fill="url(#g148)"/><rect x="131" y="413" width="762" height="2.6" fill="url(#g149)"/><rect x="131" y="415" width="762" height="2.6" fill="url(#g150)"/><rect x="131" y="417" width="762" height="2.6" fill="url(#g151)"/><rect x="131" y="419" width="762" height="2.6" fill="url(#g152)"/><rect x="131" y="421" width="762" height="2.6" fill="url(#g153)"/><rect x="131" y="423" width="762" height="2.6" fill="url(#g154)"/><rect x="131" y="425" width="762" height="2.6" fill="url(#g155)"/><rect x="131" y="427" width="762" height="2.6" fill="url(#g156)"/><rect x="131" y="429" width="762" height="2.6" fill="url(#g157)"/><rect x="131" y="431" width="762" height="2.6" fill="url(#g158)"/><rect x="131" y="433" width="762" height="2.6" fill="url(#g159)"/><rect x="131" y="435" width="762" height="2.6" fill="url(#g160)"/><rect x="131" y="437" width="762" height="2.6" fill="url(#g161)"/><rect x="131" y="439" width="762" height="2.6" fill="url(#g162)"/><rect x="131" y="441" width="762" height="2.6" fill="url(#g163)"/><rect x="131" y="443" width="762" height="2.6" fill="url(#g164)"/><rect x="131" y="445" width="762" height="2.6" fill="url(#g165)"/><rect x="131" y="447" width="762" height="2.6" fill="url(#g166)"/><rect x="131" y="449" width="762" height="2.6" fill="url(#g167)"/><rect x="131" y="451" width="762" height="2.6" fill="url(#g168)"/><rect x="131" y="453" width="762" height="2.6" fill="url(#g169)"/><rect x="131" y="455" width="762" height="2.6" fill="url(#g170)"/><rect x="131" y="457" width="762" height="2.6" fill="url(#g171)"/><rect x="131" y="459" width="762" height="2.6" fill="url(#g172)"/><rect x="131" y="461" width="762" height="2.6" fill="url(#g173)"/><rect x="131" y="463" width="762" height="2.6" fill="url(#g174)"/><rect x="131" y="465" width="762" height="2.6" fill="url(#g175)"/><rect x="131" y="467" width="762" height="2.6" fill="url(#g176)"/><rect x="131" y="469" width="762" height="2.6" fill="url(#g177)"/><rect x="131" y="471" width="762" height="2.6" fill="url(#g178)"/><rect x="131" y="473" width="762" height="2.6" fill="url(#g179)"/><rect x="131" y="475" width="762" height="2.6" fill="url(#g180)"/><rect x="131" y="477" width="762" height="2.6" fill="url(#g181)"/><rect x="131" y="479" width="762" height="2.6" fill="url(#g182)"/><rect x="131" y="481" width="762" height="2.6" fill="url(#g183)"/><rect x="131" y="483" width="762" height="2.6" fill="url(#g184)"/><rect x="131" y="485" width="762" height="2.6" fill="url(#g185)"/><rect x="131" y="487" width="762" height="2.6" fill="url(#g186)"/><rect x="131" y="489" width="762" height="2.6" fill="url(#g187)"/><rect x="131" y="491" width="762" height="2.6" fill="url(#g188)"/><rect x="131" y="493" width="762" height="2.6" fill="url(#g189)"/><rect x="131" y="495" width="762" height="2.6" fill="url(#g190)"/><rect x="131" y="497" width="762" height="2.6" fill="url(#g191)"/><rect x="131" y="499" width="762" height="2.6" fill="url(#g192)"/><rect x="131" y="501" width="762" height="2.6" fill="url(#g193)"/><rect x="131" y="503" width="762" height="2.6" fill="url(#g194)"/><rect x="131" y="505" width="762" height="2.6" fill="url(#g195)"/><rect x="131" y="507" width="762" height="2.6" fill="url(#g196)"/><rect x="131" y="509" width="762" height="2.6" fill="url(#g197)"/><rect x="131" y="511" width="762" height="2.6" fill="url(#g198)"/><rect x="131" y="513" width="762" height="2.6" fill="url(#g199)"/><rect x="131" y="515" width="762" height="2.6" fill="url(#g200)"/><rect x="131" y="517" width="762" height="2.6" fill="url(#g201)"/><rect x="131" y="519" width="762" height="2.6" fill="url(#g202)"/><rect x="131" y="521" width="762" height="2.6" fill="url(#g203)"/><rect x="131" y="523" width="762" height="2.6" fill="url(#g204)"/><rect x="131" y="525" width="762" height="2.6" fill="url(#g205)"/><rect x="131" y="527" width="762" height="2.6" fill="url(#g206)"/><rect x="131" y="529" width="762" height="2.6" fill="url(#g207)"/><rect x="131" y="531" width="762" height="2.6" fill="url(#g208)"/><rect x="131" y="533" width="762" height="2.6" fill="url(#g209)"/><rect x="131" y="535" width="762" height="2.6" fill="url(#g210)"/><rect x="131" y="537" width="762" height="2.6" fill="url(#g211)"/><rect x="131" y="539" width="762" height="2.6" fill="url(#g212)"/><rect x="131" y="541" width="762" height="2.6" fill="url(#g213)"/><rect x="131" y="543" width="762" height="2.6" fill="url(#g214)"/><rect x="131" y="545" width="762" height="2.6" fill="url(#g215)"/><rect x="131" y="547" width="762" height="2.6" fill="url(#g216)"/><rect x="131" y="549" width="762" height="2.6" fill="url(#g217)"/><rect x="131" y="551" width="762" height="2.6" fill="url(#g218)"/><rect x="131" y="553" width="762" height="2.6" fill="url(#g219)"/><rect x="131" y="555" width="762" height="2.6" fill="url(#g220)"/><rect x="131" y="557" width="762" height="2.6" fill="url(#g221)"/><rect x="131" y="559" width="762" height="2.6" fill="url(#g222)"/><rect x="131" y="561" width="762" height="2.6" fill="url(#g223)"/><rect x="131" y="563" width="762" height="2.6" fill="url(#g224)"/><rect x="131" y="565" width="762" height="2.6" fill="url(#g225)"/><rect x="131" y="567" width="762" height="2.6" fill="url(#g226)"/><rect x="131" y="569" width="762" height="2.6" fill="url(#g227)"/><rect x="131" y="571" width="762" height="2.6" fill="url(#g228)"/><rect x="131" y="573" width="762" height="2.6" fill="url(#g229)"/><rect x="131" y="575" width="762" height="2.6" fill="url(#g230)"/><rect x="131" y="577" width="762" height="2.6" fill="url(#g231)"/><rect x="131" y="579" width="762" height="2.6" fill="url(#g232)"/><rect x="131" y="581" width="762" height="2.6" fill="url(#g233)"/><rect x="131" y="583" width="762" height="2.6" fill="url(#g234)"/><rect x="131" y="585" width="762" height="1" fill="url(#g235)"/></g>
<polygon points="131,115 289,115 131,226.5" fill="#000"/>
<path d="M690.5,115 L866,222.3 Q881,231.8 886,231.4 T893,225.3 L893,115 Z" fill="#000"/>
<path d="M288,116 L133,225.4" stroke="#fff" stroke-width="2.4" stroke-dasharray="0.1 6.7" fill="none" stroke-linecap="round"/>
<path d="M692.5,116.2 L866,222.3 Q881,231.8 886,231.4 T892,226.4" stroke="#fff" stroke-width="2.4" stroke-dasharray="0.1 6.7" fill="none" stroke-linecap="round"/>
<path d="M515.5,115V552.3M513.7,551V586" stroke="#161616" stroke-width="3.2" fill="none"/>
<path d="M131.2,408.1H893" stroke="#000" stroke-width="2.4" stroke-dasharray="6.1 6.694" fill="none"/>
<path d="M129.8,408.1H132M891,408.1H894.4" stroke="#000" stroke-width="2.4" fill="none"/>
<rect x="114.6" y="105.3" width="794.6" height="490.6" stroke="#a3a3a3" stroke-width="1.4" fill="none"/>
<g stroke="#5a5a5a" stroke-width="1" fill="none">
<path d="M114.6,586.0h12M114.6,515.1h6.5M114.6,473.6h6.5M114.6,444.2h6.5M114.6,421.4h6.5M114.6,402.7h6.5M114.6,387.0h6.5M114.6,373.3h6.5M114.6,361.3h6.5M114.6,350.5h12M114.6,279.6h6.5M114.6,238.1h6.5M114.6,208.7h6.5M114.6,185.9h6.5M114.6,167.2h6.5M114.6,151.5h6.5M114.6,137.8h6.5M114.6,125.8h6.5M114.6,115.0h12M909.2,574.0h-6.5M909.2,555.3h-6.5M909.2,539.5h-6.5M909.2,525.9h-6.5M909.2,513.8h-6.5M909.2,503.1h-12M909.2,432.2h-6.5M909.2,390.7h-6.5M909.2,361.3h-6.5M909.2,338.5h-6.5M909.2,319.8h-6.5M909.2,304.0h-6.5M909.2,290.4h-6.5M909.2,278.3h-6.5M909.2,267.6h-12M909.2,196.7h-6.5M909.2,155.2h-6.5M909.2,125.8h-6.5M123.9,105.3v5.5M148.2,105.3v10M172.4,105.3v5.5M196.7,105.3v5.5M220.9,105.3v5.5M245.2,105.3v5.5M269.4,105.3v10M293.7,105.3v5.5M318.0,105.3v5.5M342.2,105.3v5.5M366.5,105.3v5.5M390.7,105.3v10M415.0,105.3v5.5M439.2,105.3v5.5M463.5,105.3v5.5M487.7,105.3v5.5M512.0,105.3v10M536.3,105.3v5.5M560.5,105.3v5.5M584.8,105.3v5.5M609.0,105.3v5.5M633.3,105.3v10M657.5,105.3v5.5M681.8,105.3v5.5M706.0,105.3v5.5M730.3,105.3v5.5M754.6,105.3v10M778.8,105.3v5.5M803.1,105.3v5.5M827.3,105.3v5.5M851.6,105.3v5.5M875.8,105.3v10M900.1,105.3v5.5M131.0,595.9v-11M169.1,595.9v-5.5M207.2,595.9v-5.5M245.3,595.9v-5.5M283.4,595.9v-5.5M321.5,595.9v-11M359.6,595.9v-5.5M397.7,595.9v-5.5M435.8,595.9v-5.5M473.9,595.9v-5.5M512.0,595.9v-11M550.1,595.9v-5.5M588.2,595.9v-5.5M626.3,595.9v-5.5M664.4,595.9v-5.5M702.5,595.9v-11M740.6,595.9v-5.5M778.7,595.9v-5.5M816.8,595.9v-5.5M854.9,595.9v-5.5M893.0,595.9v-11"/>
</g>
<text x="96" y="128.4" font-size="35.5" text-anchor="end">10</text><text x="95" y="113.1" font-size="25">2</text>
<text x="109.3" y="364.2" font-size="35.5" text-anchor="end">10</text>
<text x="109.3" y="599" font-size="35.5" text-anchor="end">1</text>
<text x="913.5" y="280.5" font-size="35.5">0.1</text>
<text x="913.5" y="516.5" font-size="35.5">0.01</text>
<text y="636" font-size="35.5" text-anchor="middle"><tspan x="130.5">−<tspan dx="4.5" class="i">π</tspan></tspan><tspan x="321.5">−<tspan dx="4.5" class="i">π</tspan>/2</tspan><tspan x="512">0</tspan><tspan x="702.5"><tspan class="i">π</tspan>/2</tspan><tspan x="893"><tspan class="i">π</tspan></tspan></text>
<text x="483" y="695" font-size="39"><tspan class="i">ϕ</tspan><tspan font-size="27.7" dy="6.5" dx="-1.8">3L</tspan></text>
<text transform="translate(33.3,402.4) rotate(-90)" font-size="39">Γ' / Γ<tspan font-size="27.7" dy="7">0</tspan></text>
<text transform="translate(1032.5,427.6) rotate(-90)" font-size="39">Γ' / Γ<tspan font-size="27.7" dy="-16.6">max</tspan><tspan font-size="27.7" dy="27.8" dx="-55.5">coop</tspan></text>
<defs><linearGradient id="cb"><stop offset="0" stop-color="#0038b0"/><stop offset=".21" stop-color="#000070"/><stop offset=".4" stop-color="#00aaaa"/><stop offset=".55" stop-color="#00a810"/><stop offset=".68" stop-color="#ff8080"/><stop offset=".8" stop-color="#f00"/><stop offset=".9" stop-color="#ff8000"/><stop offset="1" stop-color="#ffff80"/></linearGradient></defs>
<rect x="203.4" y="728" width="661.3" height="21.9" fill="url(#cb)" stroke="#000" stroke-width="2.6"/>
<path d="M203.4,750.5v8.3M236.5,750.5v4.2M269.5,750.5v4.2M302.6,750.5v4.2M335.7,750.5v8.3M368.7,750.5v4.2M401.8,750.5v4.2M434.9,750.5v4.2M467.9,750.5v8.3M501.0,750.5v4.2M534.0,750.5v4.2M567.1,750.5v4.2M600.2,750.5v8.3M633.2,750.5v4.2M666.3,750.5v4.2M699.4,750.5v4.2M732.4,750.5v8.3M765.5,750.5v4.2M798.6,750.5v4.2M831.6,750.5v4.2M864.7,750.5v8.3" stroke="#000" stroke-width="2.7" fill="none"/>
<text y="792.1" font-size="30" text-anchor="middle"><tspan x="203.4">0</tspan><tspan x="335.7">0.2</tspan><tspan x="467.9">0.4</tspan><tspan x="600.2">0.6</tspan><tspan x="732.4">0.8</tspan><tspan x="865.2">1.0</tspan></text>
<text x="60" y="768.3" font-size="39">|t<tspan font-size="27.7" dy="7.1">3L</tspan><tspan dy="-7.1" dx="1">|</tspan><tspan font-size="27.7" dy="-17.1" dx="0.5">2</tspan></text>
<!-- panel b -->
<text x="1103" y="35.3" font-size="41.5">(b)</text>
<rect x="1526.7" y="114" width="464.8" height="490.2" fill="#f2f2f2"/>
<path d="M1198.5,205.5H1991.5" stroke="#000" stroke-width="2.5" stroke-dasharray="3.7 4.4" fill="none"/>
<path d="M1198.5,519.6H1991.5" stroke="#000" stroke-width="2.4" stroke-dasharray="12.5 5" fill="none"/>
<path d="M1240.2,182.8L1246.2,183.3L1252.2,183.7L1258.2,184.2L1264.2,184.6L1270.2,185.0L1276.2,185.5L1282.2,185.9L1288.2,186.3L1294.2,186.7L1300.2,187.1L1306.2,187.6L1312.2,188.0L1318.2,188.5L1324.2,189.1L1330.2,189.6L1336.2,190.3L1342.2,190.9L1348.2,191.6L1354.2,192.4L1360.2,193.2L1366.2,194.0L1372.2,195.0L1378.2,196.0L1384.2,197.1L1390.2,198.3L1396.2,199.5L1402.2,200.9L1408.2,202.1L1414.2,203.6L1420.2,205.2L1426.2,206.9L1432.2,208.9L1438.2,211.0L1444.2,213.3L1450.2,215.9L1456.2,218.8L1462.2,221.9L1468.2,225.2L1474.2,228.8L1480.2,232.7L1486.2,236.9L1492.2,241.3L1498.2,246.0L1504.2,250.9L1510.2,256.0L1516.2,261.2L1522.2,267.1L1528.2,273.0L1534.2,279.8L1540.2,287.6L1546.2,296.2L1552.2,306.0L1558.2,316.4L1564.2,327.2L1570.2,337.8L1576.2,348.6L1582.2,359.4L1588.2,370.5L1594.2,382.1L1600.2,394.1L1606.2,406.2L1612.2,418.7L1618.2,431.3L1624.2,443.5L1630.2,455.1L1636.2,466.0L1642.2,476.4L1648.2,485.9L1654.2,494.6L1660.2,502.6L1666.2,509.9L1672.2,516.6L1678.2,522.6L1684.2,528.1L1690.2,532.9L1696.2,536.9L1702.2,540.3L1708.2,542.9L1714.2,545.0L1720.2,546.6L1726.2,547.7L1732.2,548.4L1738.2,548.8L1744.2,548.6L1750.2,548.3L1756.2,547.8L1762.2,547.0L1768.2,546.2L1774.2,545.1L1780.2,544.0L1786.2,542.8L1792.2,541.5L1798.2,540.1L1804.2,538.6L1810.2,537.1L1816.2,535.6L1822.2,534.3L1828.2,532.9L1834.2,531.6L1840.2,530.4L1846.2,529.3L1852.2,528.3L1858.2,527.4L1864.2,526.6L1870.2,525.8L1876.2,525.2L1882.2,524.6L1888.2,524.1L1894.2,523.6L1900.2,523.2L1906.2,522.8L1912.2,522.5L1918.2,522.3L1924.2,522.0L1930.2,521.7L1936.2,521.4L1942.2,521.2L1948.2,521.0L1954.2,520.9L1960.2,520.7L1966.2,520.6L1972.2,520.5L1978.2,520.5L1984.2,520.4L1990.2,520.4L1990.5,520.4" stroke="#0a4aa8" stroke-width="3.2" fill="none" stroke-linejoin="round"/>
<path d="M1240.2,153.9L1246.2,153.9L1252.2,154.0L1258.2,154.0L1264.2,154.1L1270.2,154.1L1276.2,154.1L1282.2,154.2L1288.2,154.2L1294.2,154.3L1300.2,154.3L1306.2,154.4L1312.2,154.5L1318.2,154.5L1324.2,154.6L1330.2,154.7L1336.2,154.7L1342.2,154.8L1348.2,154.8L1354.2,154.9L1360.2,154.9L1366.2,155.0L1372.2,155.1L1378.2,155.2L1384.2,155.4L1390.2,155.5L1396.2,155.6L1402.2,155.8L1408.2,155.9L1414.2,156.1L1420.2,156.3L1426.2,156.5L1432.2,156.7L1438.2,157.0L1444.2,157.3L1450.2,157.5L1456.2,157.8L1462.2,158.1L1468.2,158.5L1474.2,158.8L1480.2,159.2L1486.2,159.7L1492.2,160.2L1498.2,160.7L1504.2,161.4L1510.2,162.2L1516.2,163.1L1522.2,164.0L1528.2,165.0L1534.2,166.2L1540.2,167.6L1546.2,168.9L1552.2,170.4L1558.2,172.2L1564.2,174.1L1570.2,176.2L1576.2,178.8L1582.2,181.7L1588.2,185.1L1594.2,189.3L1600.2,194.0L1606.2,199.4L1612.2,205.5L1618.2,212.2L1624.2,219.5L1630.2,227.3L1636.2,235.9L1642.2,245.7L1648.2,257.0L1654.2,269.1L1660.2,282.1L1666.2,296.1L1672.2,309.7L1678.2,323.3L1684.2,337.3L1690.2,351.5L1696.2,365.3L1702.2,378.8L1708.2,391.4L1714.2,403.4L1720.2,414.8L1726.2,425.3L1732.2,435.3L1738.2,444.5L1744.2,453.0L1750.2,460.5L1756.2,467.2L1762.2,473.0L1768.2,478.0L1774.2,482.5L1780.2,486.6L1786.2,490.4L1792.2,494.0L1798.2,497.3L1804.2,500.1L1810.2,502.6L1816.2,504.7L1822.2,506.4L1828.2,507.8L1834.2,509.2L1840.2,510.3L1846.2,511.2L1852.2,512.1L1858.2,512.9L1864.2,513.5L1870.2,514.0L1876.2,514.6L1882.2,515.0L1888.2,515.4L1894.2,515.6L1900.2,515.9L1906.2,516.2L1912.2,516.4L1918.2,516.6L1924.2,516.7L1930.2,516.9L1936.2,517.0L1942.2,517.2L1948.2,517.3L1954.2,517.4L1960.2,517.5L1966.2,517.5L1972.2,517.6L1978.2,517.6L1984.2,517.6L1990.2,517.6L1990.5,517.6" stroke="#12a512" stroke-width="3.2" fill="none" stroke-linejoin="round"/>
<path d="M1239.7,503.7L1245.7,503.6L1251.7,503.4L1257.7,503.2L1263.7,503.0L1269.7,502.9L1275.7,502.8L1281.7,502.7L1287.7,502.5L1293.7,502.4L1299.7,502.4L1305.7,502.3L1311.7,502.2L1317.7,502.2L1323.7,502.2L1329.7,502.1L1335.7,502.1L1341.7,502.1L1347.7,502.2L1353.7,502.2L1359.7,502.2L1365.7,502.2L1371.7,502.2L1377.7,502.3L1383.7,502.4L1389.7,502.5L1395.7,502.7L1401.7,502.8L1407.7,503.0L1413.7,503.1L1419.7,503.4L1425.7,503.6L1431.7,503.8L1437.7,504.0L1443.7,504.2L1449.7,504.5L1455.7,504.8L1461.7,505.1L1467.7,505.3L1473.7,505.7L1479.7,506.0L1485.7,506.5L1491.7,506.9L1497.7,507.4L1503.7,507.8L1509.7,508.3L1515.7,508.9L1521.7,509.5L1527.7,510.1L1533.7,510.8L1539.7,511.7L1545.7,512.5L1551.7,513.3L1557.7,514.2L1563.7,515.2L1569.7,516.2L1575.7,516.8L1581.7,517.5L1587.7,518.3L1593.7,518.7L1599.7,518.6L1605.7,518.4L1611.7,518.0L1617.7,516.8L1623.7,515.4L1629.7,513.1L1635.7,510.0L1641.7,506.3L1647.7,501.8L1653.7,496.6L1659.7,490.8L1665.7,484.5L1671.7,477.8L1677.7,470.3L1683.7,462.1L1689.7,453.0L1695.7,443.1L1701.7,432.2L1707.7,420.4L1713.7,407.6L1719.7,394.4L1725.7,380.4L1731.7,366.9L1737.7,353.3L1743.7,340.4L1749.7,327.7L1755.7,315.6L1761.7,303.9L1767.7,292.8L1773.7,282.1L1779.7,271.9L1785.7,262.2L1791.7,252.8L1797.7,243.8L1803.7,235.2L1809.7,227.2L1815.7,219.9L1821.7,213.1L1827.7,206.8L1833.7,200.9L1839.7,195.6L1845.7,190.7L1851.7,186.4L1857.7,182.6L1863.7,179.1L1869.7,176.1L1875.7,173.1L1881.7,170.5L1887.7,168.0L1893.7,165.8L1899.7,163.8L1905.7,161.9L1911.7,160.2L1917.7,158.6L1923.7,157.2L1929.7,155.9L1935.7,154.8L1941.7,153.7L1947.7,152.8L1953.7,151.9L1959.7,151.1L1965.7,150.5L1971.7,149.9L1977.7,149.4L1983.7,149.0L1989.7,148.8L1990.5,148.7" stroke="#ff7f0e" stroke-width="3.2" fill="none" stroke-linejoin="round"/>
<path d="M1201.6,177.6H1238.8" stroke="#0a4aa8" stroke-width="3.3" stroke-dasharray="4.9 3.2" fill="none"/>
<path d="M1201.6,154.2H1238.8" stroke="#12a512" stroke-width="3.3" stroke-dasharray="4.9 3.2" fill="none"/>
<path d="M1201.6,502.4H1238.8" stroke="#ff7f0e" stroke-width="3.3" stroke-dasharray="4.9 3.2" fill="none"/>
<circle cx="1426.3" cy="207" r="5.2" fill="#0a4aa8"/>
<circle cx="1426.3" cy="156.6" r="5.2" fill="#12a512"/>
<circle cx="1426.3" cy="503.7" r="5.2" fill="#ff7f0e"/>
<text x="1540.2" y="299.3" font-size="31.3" text-anchor="middle" style="fill:#0a4aa8">*</text>
<text x="1596.4" y="372.7" font-size="31.3" text-anchor="middle" style="fill:#0a4aa8">*</text>
<text x="1652.55" y="468.2" font-size="31.3" text-anchor="middle" style="fill:#0a4aa8">*</text>
<text x="1708.9" y="536.9" font-size="31.3" text-anchor="middle" style="fill:#0a4aa8">*</text>
<rect x="1198.5" y="114" width="793" height="490.2" stroke="#4d4d4d" stroke-width="2.4" fill="none"/>
<g stroke="#000" stroke-width="2.4" fill="none">
<path d="M1228.5,604.2v-6M1252.4,604.2v-6M1269.4,604.2v-6M1282.6,604.2v-6M1293.4,604.2v-6M1302.4,604.2v-6M1310.3,604.2v-6M1317.3,604.2v-6M1323.5,604.2v-11.5M1364.4,604.2v-6M1388.3,604.2v-6M1405.3,604.2v-6M1418.5,604.2v-6M1429.3,604.2v-6M1438.3,604.2v-6M1446.2,604.2v-6M1453.2,604.2v-6M1459.4,604.2v-11.5M1500.3,604.2v-6M1524.2,604.2v-6M1541.2,604.2v-6M1554.4,604.2v-6M1565.2,604.2v-6M1574.2,604.2v-6M1582.1,604.2v-6M1589.1,604.2v-6M1595.3,604.2v-11.5M1636.2,604.2v-6M1660.1,604.2v-6M1677.1,604.2v-6M1690.3,604.2v-6M1701.1,604.2v-6M1710.1,604.2v-6M1718.0,604.2v-6M1725.0,604.2v-6M1731.2,604.2v-11.5M1772.1,604.2v-6M1796.0,604.2v-6M1813.0,604.2v-6M1826.2,604.2v-6M1837.0,604.2v-6M1846.0,604.2v-6M1853.9,604.2v-6M1860.9,604.2v-6M1867.1,604.2v-11.5M1908.0,604.2v-6M1931.9,604.2v-6M1948.9,604.2v-6M1962.1,604.2v-6M1972.9,604.2v-6M1981.9,604.2v-6M1989.8,604.2v-6M1276.2,114v6M1300.1,114v6M1317.1,114v6M1330.3,114v6M1341.1,114v6M1350.1,114v6M1358.0,114v6M1365.0,114v6M1371.2,114v11.5M1412.1,114v6M1436.0,114v6M1453.0,114v6M1466.2,114v6M1477.0,114v6M1486.0,114v6M1493.9,114v6M1500.9,114v6M1507.1,114v11.5M1548.0,114v6M1571.9,114v6M1588.9,114v6M1602.1,114v6M1612.9,114v6M1621.9,114v6M1629.8,114v6M1636.8,114v6M1643.0,114v11.5M1683.9,114v6M1707.8,114v6M1724.8,114v6M1738.0,114v6M1748.8,114v6M1757.8,114v6M1765.7,114v6M1772.7,114v6M1778.9,114v11.5M1819.8,114v6M1843.7,114v6M1860.7,114v6M1873.9,114v6M1884.7,114v6M1893.7,114v6M1901.6,114v6M1908.6,114v6M1914.8,114v11.5M1955.7,114v6M1979.6,114v6M1198.5,113.5h5.5M1991.5,113.5h-5.5M1198.5,144.2h9.5M1991.5,144.2h-9.5M1198.5,174.9h5.5M1991.5,174.9h-5.5M1198.5,205.5h5.5M1991.5,205.5h-5.5M1198.5,236.2h5.5M1991.5,236.2h-5.5M1198.5,266.9h9.5M1991.5,266.9h-9.5M1198.5,297.6h5.5M1991.5,297.6h-5.5M1198.5,328.2h5.5M1991.5,328.2h-5.5M1198.5,358.9h5.5M1991.5,358.9h-5.5M1198.5,389.6h9.5M1991.5,389.6h-9.5M1198.5,420.3h5.5M1991.5,420.3h-5.5M1198.5,450.9h5.5M1991.5,450.9h-5.5M1198.5,481.6h5.5M1991.5,481.6h-5.5M1198.5,512.3h9.5M1991.5,512.3h-9.5M1198.5,543.0h5.5M1991.5,543.0h-5.5M1198.5,573.6h5.5M1991.5,573.6h-5.5M1198.5,604.3h5.5M1991.5,604.3h-5.5"/>
</g>
<text font-size="35.5" text-anchor="end" x="1192.8"><tspan x="1192.8" y="157.5">1.0</tspan><tspan x="1192.8" y="280.2">0.8</tspan><tspan x="1192.8" y="402.9">0.6</tspan><tspan x="1192.8" y="525.6">0.4</tspan></text>
<text y="643.5" font-size="35.5" text-anchor="middle"><tspan x="1323.5">1</tspan><tspan x="1459.4">10</tspan></text>
<text x="1589.0" y="643.5" font-size="35.5" text-anchor="middle">10</text><text x="1607.4" y="628.5" font-size="25">2</text>
<text x="1724.9" y="643.5" font-size="35.5" text-anchor="middle">10</text><text x="1743.3" y="628.5" font-size="25">3</text>
<text x="1860.8" y="643.5" font-size="35.5" text-anchor="middle">10</text><text x="1879.2" y="628.5" font-size="25">4</text>
<text y="101" font-size="35.5" text-anchor="middle"><tspan x="1371.2">0.01</tspan><tspan x="1507.1">0.1</tspan><tspan x="1643.0">1</tspan><tspan x="1778.9">10</tspan></text>
<text x="1908.5" y="101" font-size="35.5" text-anchor="middle">10</text><text x="1926.9" y="86" font-size="25">2</text>
<text x="1517.5" y="34.8" font-size="39">Γ' / Γ<tspan font-size="27.7" dy="-16.6">max</tspan><tspan font-size="27.7" dy="27.8" dx="-55.5">coop</tspan></text>
<text x="1541" y="701.5" font-size="39">Γ' / Γ<tspan font-size="27.7" dy="7">0</tspan></text>
<path d="M1268.3,761.1H1332.5" stroke="#0a4aa8" stroke-width="3.2"/>
<path d="M1426.2,761.1H1490.1" stroke="#12a512" stroke-width="3.2"/>
<path d="M1572.8,761.1H1637" stroke="#ff7f0e" stroke-width="3.2"/>
<path d="M1727.7,761.1H1789" stroke="#000" stroke-width="3" stroke-dasharray="9 3.8"/>
<text y="766.3" font-size="39" class="i"><tspan x="1349.2">η</tspan><tspan x="1506.8">η</tspan><tspan x="1653.5">ϵ</tspan><tspan x="1808.3">η</tspan></text>
<text x="1510.9" y="759.2" font-size="34" class="i">˜</text>
<text x="1830.3" y="773.5" font-size="27.7">in</text>
</svg></body></html>
